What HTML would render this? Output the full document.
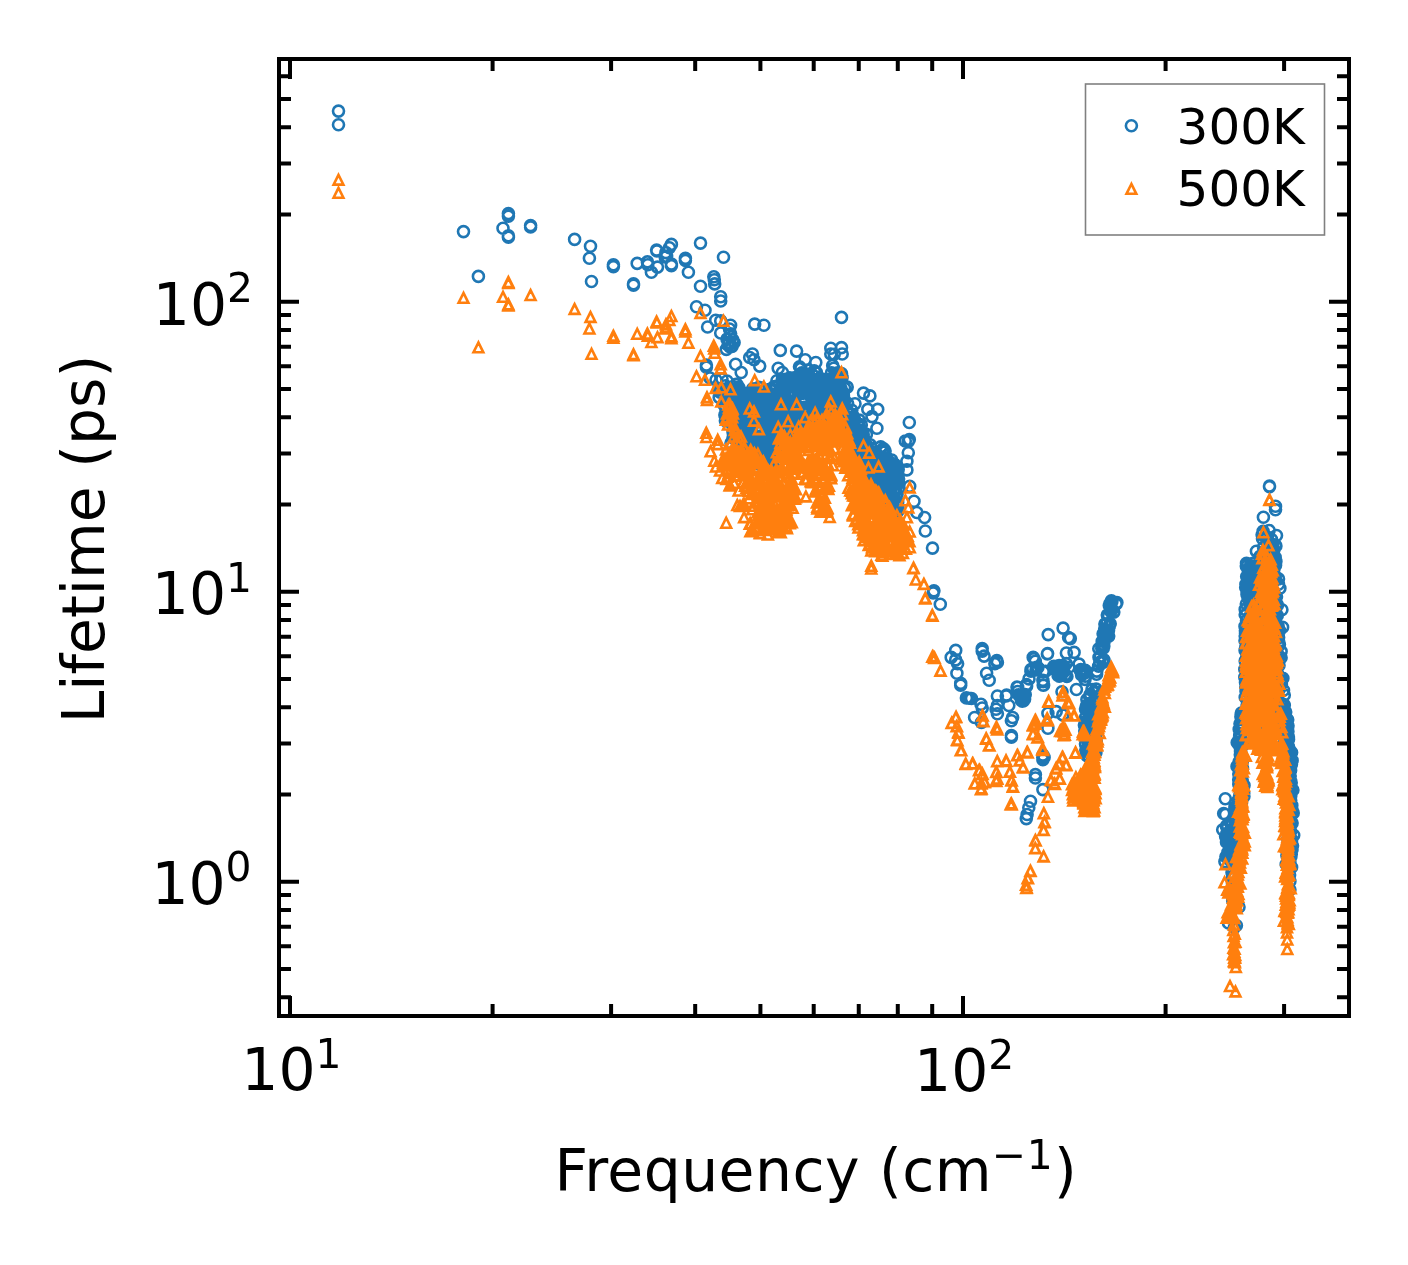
<!DOCTYPE html>
<html><head><meta charset="utf-8"><title>Lifetime vs Frequency</title><style>html,body{margin:0;padding:0;background:#fff}svg{display:block}</style></head><body>
<svg width="1408" height="1265" viewBox="0 0 1408 1265" font-family="'DejaVu Sans','Liberation Sans',sans-serif">
<rect width="1408" height="1265" fill="#fff"/>
<path d="M333.0,111.1a5.5,5.5 0 1,0 11.0,0a5.5,5.5 0 1,0 -11.0,0M333.0,124.7a5.5,5.5 0 1,0 11.0,0a5.5,5.5 0 1,0 -11.0,0M458.0,231.6a5.5,5.5 0 1,0 11.0,0a5.5,5.5 0 1,0 -11.0,0M502.9,213.5a5.5,5.5 0 1,0 11.0,0a5.5,5.5 0 1,0 -11.0,0M502.9,216.1a5.5,5.5 0 1,0 11.0,0a5.5,5.5 0 1,0 -11.0,0M497.5,228.3a5.5,5.5 0 1,0 11.0,0a5.5,5.5 0 1,0 -11.0,0M502.9,235.9a5.5,5.5 0 1,0 11.0,0a5.5,5.5 0 1,0 -11.0,0M502.9,237.2a5.5,5.5 0 1,0 11.0,0a5.5,5.5 0 1,0 -11.0,0M525.1,225.5a5.5,5.5 0 1,0 11.0,0a5.5,5.5 0 1,0 -11.0,0M525.1,227.0a5.5,5.5 0 1,0 11.0,0a5.5,5.5 0 1,0 -11.0,0M472.9,276.4a5.5,5.5 0 1,0 11.0,0a5.5,5.5 0 1,0 -11.0,0M569.1,239.4a5.5,5.5 0 1,0 11.0,0a5.5,5.5 0 1,0 -11.0,0M585.0,246.2a5.5,5.5 0 1,0 11.0,0a5.5,5.5 0 1,0 -11.0,0M583.9,258.3a5.5,5.5 0 1,0 11.0,0a5.5,5.5 0 1,0 -11.0,0M586.0,281.5a5.5,5.5 0 1,0 11.0,0a5.5,5.5 0 1,0 -11.0,0M607.9,264.7a5.5,5.5 0 1,0 11.0,0a5.5,5.5 0 1,0 -11.0,0M607.9,266.6a5.5,5.5 0 1,0 11.0,0a5.5,5.5 0 1,0 -11.0,0M628.0,283.9a5.5,5.5 0 1,0 11.0,0a5.5,5.5 0 1,0 -11.0,0M628.0,285.1a5.5,5.5 0 1,0 11.0,0a5.5,5.5 0 1,0 -11.0,0M631.7,263.4a5.5,5.5 0 1,0 11.0,0a5.5,5.5 0 1,0 -11.0,0M641.9,261.9a5.5,5.5 0 1,0 11.0,0a5.5,5.5 0 1,0 -11.0,0M642.3,264.7a5.5,5.5 0 1,0 11.0,0a5.5,5.5 0 1,0 -11.0,0M645.9,272.3a5.5,5.5 0 1,0 11.0,0a5.5,5.5 0 1,0 -11.0,0M651.1,250.1a5.5,5.5 0 1,0 11.0,0a5.5,5.5 0 1,0 -11.0,0M651.4,251.0a5.5,5.5 0 1,0 11.0,0a5.5,5.5 0 1,0 -11.0,0M652.0,267.1a5.5,5.5 0 1,0 11.0,0a5.5,5.5 0 1,0 -11.0,0M660.4,252.6a5.5,5.5 0 1,0 11.0,0a5.5,5.5 0 1,0 -11.0,0M661.1,256.2a5.5,5.5 0 1,0 11.0,0a5.5,5.5 0 1,0 -11.0,0M659.7,256.9a5.5,5.5 0 1,0 11.0,0a5.5,5.5 0 1,0 -11.0,0M665.9,244.4a5.5,5.5 0 1,0 11.0,0a5.5,5.5 0 1,0 -11.0,0M663.9,247.7a5.5,5.5 0 1,0 11.0,0a5.5,5.5 0 1,0 -11.0,0M665.9,264.0a5.5,5.5 0 1,0 11.0,0a5.5,5.5 0 1,0 -11.0,0M665.9,265.7a5.5,5.5 0 1,0 11.0,0a5.5,5.5 0 1,0 -11.0,0M679.9,258.3a5.5,5.5 0 1,0 11.0,0a5.5,5.5 0 1,0 -11.0,0M679.9,260.5a5.5,5.5 0 1,0 11.0,0a5.5,5.5 0 1,0 -11.0,0M682.9,272.3a5.5,5.5 0 1,0 11.0,0a5.5,5.5 0 1,0 -11.0,0M695.0,243.1a5.5,5.5 0 1,0 11.0,0a5.5,5.5 0 1,0 -11.0,0M695.0,286.3a5.5,5.5 0 1,0 11.0,0a5.5,5.5 0 1,0 -11.0,0M718.0,257.3a5.5,5.5 0 1,0 11.0,0a5.5,5.5 0 1,0 -11.0,0M708.3,276.8a5.5,5.5 0 1,0 11.0,0a5.5,5.5 0 1,0 -11.0,0M708.8,279.7a5.5,5.5 0 1,0 11.0,0a5.5,5.5 0 1,0 -11.0,0M709.2,283.9a5.5,5.5 0 1,0 11.0,0a5.5,5.5 0 1,0 -11.0,0M715.2,296.7a5.5,5.5 0 1,0 11.0,0a5.5,5.5 0 1,0 -11.0,0M715.2,301.0a5.5,5.5 0 1,0 11.0,0a5.5,5.5 0 1,0 -11.0,0M691.0,306.7a5.5,5.5 0 1,0 11.0,0a5.5,5.5 0 1,0 -11.0,0M699.5,310.2a5.5,5.5 0 1,0 11.0,0a5.5,5.5 0 1,0 -11.0,0M702.1,327.0a5.5,5.5 0 1,0 11.0,0a5.5,5.5 0 1,0 -11.0,0M710.2,320.2a5.5,5.5 0 1,0 11.0,0a5.5,5.5 0 1,0 -11.0,0M715.2,320.9a5.5,5.5 0 1,0 11.0,0a5.5,5.5 0 1,0 -11.0,0M725.1,325.2a5.5,5.5 0 1,0 11.0,0a5.5,5.5 0 1,0 -11.0,0M715.2,333.0a5.5,5.5 0 1,0 11.0,0a5.5,5.5 0 1,0 -11.0,0M725.1,333.7a5.5,5.5 0 1,0 11.0,0a5.5,5.5 0 1,0 -11.0,0M723.7,342.2a5.5,5.5 0 1,0 11.0,0a5.5,5.5 0 1,0 -11.0,0M726.5,346.5a5.5,5.5 0 1,0 11.0,0a5.5,5.5 0 1,0 -11.0,0M720.8,349.4a5.5,5.5 0 1,0 11.0,0a5.5,5.5 0 1,0 -11.0,0M728.6,342.6a5.5,5.5 0 1,0 11.0,0a5.5,5.5 0 1,0 -11.0,0M700.9,365.0a5.5,5.5 0 1,0 11.0,0a5.5,5.5 0 1,0 -11.0,0M700.9,367.1a5.5,5.5 0 1,0 11.0,0a5.5,5.5 0 1,0 -11.0,0M730.1,364.3a5.5,5.5 0 1,0 11.0,0a5.5,5.5 0 1,0 -11.0,0M749.2,324.1a5.5,5.5 0 1,0 11.0,0a5.5,5.5 0 1,0 -11.0,0M758.4,325.2a5.5,5.5 0 1,0 11.0,0a5.5,5.5 0 1,0 -11.0,0M836.0,317.4a5.5,5.5 0 1,0 11.0,0a5.5,5.5 0 1,0 -11.0,0M735.7,372.5a5.5,5.5 0 1,0 11.0,0a5.5,5.5 0 1,0 -11.0,0M747.0,354.0a5.5,5.5 0 1,0 11.0,0a5.5,5.5 0 1,0 -11.0,0M744.2,357.5a5.5,5.5 0 1,0 11.0,0a5.5,5.5 0 1,0 -11.0,0M748.5,359.7a5.5,5.5 0 1,0 11.0,0a5.5,5.5 0 1,0 -11.0,0M754.2,366.1a5.5,5.5 0 1,0 11.0,0a5.5,5.5 0 1,0 -11.0,0M774.8,350.4a5.5,5.5 0 1,0 11.0,0a5.5,5.5 0 1,0 -11.0,0M791.1,351.1a5.5,5.5 0 1,0 11.0,0a5.5,5.5 0 1,0 -11.0,0M772.7,368.2a5.5,5.5 0 1,0 11.0,0a5.5,5.5 0 1,0 -11.0,0M776.9,372.5a5.5,5.5 0 1,0 11.0,0a5.5,5.5 0 1,0 -11.0,0M799.7,359.7a5.5,5.5 0 1,0 11.0,0a5.5,5.5 0 1,0 -11.0,0M810.3,362.5a5.5,5.5 0 1,0 11.0,0a5.5,5.5 0 1,0 -11.0,0M794.0,366.8a5.5,5.5 0 1,0 11.0,0a5.5,5.5 0 1,0 -11.0,0M825.3,348.3a5.5,5.5 0 1,0 11.0,0a5.5,5.5 0 1,0 -11.0,0M836.0,347.6a5.5,5.5 0 1,0 11.0,0a5.5,5.5 0 1,0 -11.0,0M825.3,354.0a5.5,5.5 0 1,0 11.0,0a5.5,5.5 0 1,0 -11.0,0M836.7,354.0a5.5,5.5 0 1,0 11.0,0a5.5,5.5 0 1,0 -11.0,0M828.7,354.2a5.5,5.5 0 1,0 11.0,0a5.5,5.5 0 1,0 -11.0,0M858.0,393.1a5.5,5.5 0 1,0 11.0,0a5.5,5.5 0 1,0 -11.0,0M864.4,395.9a5.5,5.5 0 1,0 11.0,0a5.5,5.5 0 1,0 -11.0,0M862.3,409.4a5.5,5.5 0 1,0 11.0,0a5.5,5.5 0 1,0 -11.0,0M872.2,409.4a5.5,5.5 0 1,0 11.0,0a5.5,5.5 0 1,0 -11.0,0M849.5,403.8a5.5,5.5 0 1,0 11.0,0a5.5,5.5 0 1,0 -11.0,0M866.5,416.6a5.5,5.5 0 1,0 11.0,0a5.5,5.5 0 1,0 -11.0,0M871.4,428.2a5.5,5.5 0 1,0 11.0,0a5.5,5.5 0 1,0 -11.0,0M903.8,422.5a5.5,5.5 0 1,0 11.0,0a5.5,5.5 0 1,0 -11.0,0M899.8,441.0a5.5,5.5 0 1,0 11.0,0a5.5,5.5 0 1,0 -11.0,0M903.8,439.6a5.5,5.5 0 1,0 11.0,0a5.5,5.5 0 1,0 -11.0,0M902.8,441.4a5.5,5.5 0 1,0 11.0,0a5.5,5.5 0 1,0 -11.0,0M902.8,452.8a5.5,5.5 0 1,0 11.0,0a5.5,5.5 0 1,0 -11.0,0M901.4,461.3a5.5,5.5 0 1,0 11.0,0a5.5,5.5 0 1,0 -11.0,0M901.4,469.9a5.5,5.5 0 1,0 11.0,0a5.5,5.5 0 1,0 -11.0,0M904.2,486.2a5.5,5.5 0 1,0 11.0,0a5.5,5.5 0 1,0 -11.0,0M908.5,501.2a5.5,5.5 0 1,0 11.0,0a5.5,5.5 0 1,0 -11.0,0M911.3,512.5a5.5,5.5 0 1,0 11.0,0a5.5,5.5 0 1,0 -11.0,0M919.1,517.5a5.5,5.5 0 1,0 11.0,0a5.5,5.5 0 1,0 -11.0,0M919.8,531.0a5.5,5.5 0 1,0 11.0,0a5.5,5.5 0 1,0 -11.0,0M927.0,548.1a5.5,5.5 0 1,0 11.0,0a5.5,5.5 0 1,0 -11.0,0M928.4,590.8a5.5,5.5 0 1,0 11.0,0a5.5,5.5 0 1,0 -11.0,0M927.7,592.9a5.5,5.5 0 1,0 11.0,0a5.5,5.5 0 1,0 -11.0,0M934.8,604.3a5.5,5.5 0 1,0 11.0,0a5.5,5.5 0 1,0 -11.0,0M727.5,432.0a5.5,5.5 0 1,0 11.0,0a5.5,5.5 0 1,0 -11.0,0M732.5,440.0a5.5,5.5 0 1,0 11.0,0a5.5,5.5 0 1,0 -11.0,0M725.5,443.0a5.5,5.5 0 1,0 11.0,0a5.5,5.5 0 1,0 -11.0,0M704.5,378.0a5.5,5.5 0 1,0 11.0,0a5.5,5.5 0 1,0 -11.0,0M710.5,380.0a5.5,5.5 0 1,0 11.0,0a5.5,5.5 0 1,0 -11.0,0M716.5,379.0a5.5,5.5 0 1,0 11.0,0a5.5,5.5 0 1,0 -11.0,0M721.5,381.0a5.5,5.5 0 1,0 11.0,0a5.5,5.5 0 1,0 -11.0,0M888.4,514.1a5.5,5.5 0 1,0 11.0,0a5.5,5.5 0 1,0 -11.0,0M756.2,411.6a5.5,5.5 0 1,0 11.0,0a5.5,5.5 0 1,0 -11.0,0M778.9,431.8a5.5,5.5 0 1,0 11.0,0a5.5,5.5 0 1,0 -11.0,0M742.9,403.9a5.5,5.5 0 1,0 11.0,0a5.5,5.5 0 1,0 -11.0,0M791.3,423.5a5.5,5.5 0 1,0 11.0,0a5.5,5.5 0 1,0 -11.0,0M777.9,386.9a5.5,5.5 0 1,0 11.0,0a5.5,5.5 0 1,0 -11.0,0M852.8,436.8a5.5,5.5 0 1,0 11.0,0a5.5,5.5 0 1,0 -11.0,0M814.2,408.3a5.5,5.5 0 1,0 11.0,0a5.5,5.5 0 1,0 -11.0,0M831.3,403.8a5.5,5.5 0 1,0 11.0,0a5.5,5.5 0 1,0 -11.0,0M864.6,451.9a5.5,5.5 0 1,0 11.0,0a5.5,5.5 0 1,0 -11.0,0M769.5,401.2a5.5,5.5 0 1,0 11.0,0a5.5,5.5 0 1,0 -11.0,0M736.3,449.1a5.5,5.5 0 1,0 11.0,0a5.5,5.5 0 1,0 -11.0,0M743.4,411.2a5.5,5.5 0 1,0 11.0,0a5.5,5.5 0 1,0 -11.0,0M855.8,424.9a5.5,5.5 0 1,0 11.0,0a5.5,5.5 0 1,0 -11.0,0M883.9,479.6a5.5,5.5 0 1,0 11.0,0a5.5,5.5 0 1,0 -11.0,0M782.4,424.6a5.5,5.5 0 1,0 11.0,0a5.5,5.5 0 1,0 -11.0,0M747.1,416.2a5.5,5.5 0 1,0 11.0,0a5.5,5.5 0 1,0 -11.0,0M735.7,427.9a5.5,5.5 0 1,0 11.0,0a5.5,5.5 0 1,0 -11.0,0M852.3,441.6a5.5,5.5 0 1,0 11.0,0a5.5,5.5 0 1,0 -11.0,0M876.8,504.1a5.5,5.5 0 1,0 11.0,0a5.5,5.5 0 1,0 -11.0,0M770.8,396.5a5.5,5.5 0 1,0 11.0,0a5.5,5.5 0 1,0 -11.0,0M748.0,406.2a5.5,5.5 0 1,0 11.0,0a5.5,5.5 0 1,0 -11.0,0M734.5,433.0a5.5,5.5 0 1,0 11.0,0a5.5,5.5 0 1,0 -11.0,0M743.2,398.2a5.5,5.5 0 1,0 11.0,0a5.5,5.5 0 1,0 -11.0,0M831.2,416.4a5.5,5.5 0 1,0 11.0,0a5.5,5.5 0 1,0 -11.0,0M861.6,447.3a5.5,5.5 0 1,0 11.0,0a5.5,5.5 0 1,0 -11.0,0M796.4,372.9a5.5,5.5 0 1,0 11.0,0a5.5,5.5 0 1,0 -11.0,0M893.3,489.3a5.5,5.5 0 1,0 11.0,0a5.5,5.5 0 1,0 -11.0,0M805.5,384.0a5.5,5.5 0 1,0 11.0,0a5.5,5.5 0 1,0 -11.0,0M844.6,434.4a5.5,5.5 0 1,0 11.0,0a5.5,5.5 0 1,0 -11.0,0M782.4,392.8a5.5,5.5 0 1,0 11.0,0a5.5,5.5 0 1,0 -11.0,0M792.8,407.4a5.5,5.5 0 1,0 11.0,0a5.5,5.5 0 1,0 -11.0,0M757.8,404.7a5.5,5.5 0 1,0 11.0,0a5.5,5.5 0 1,0 -11.0,0M889.4,480.4a5.5,5.5 0 1,0 11.0,0a5.5,5.5 0 1,0 -11.0,0M885.2,507.4a5.5,5.5 0 1,0 11.0,0a5.5,5.5 0 1,0 -11.0,0M735.1,395.3a5.5,5.5 0 1,0 11.0,0a5.5,5.5 0 1,0 -11.0,0M769.2,418.8a5.5,5.5 0 1,0 11.0,0a5.5,5.5 0 1,0 -11.0,0M752.2,462.3a5.5,5.5 0 1,0 11.0,0a5.5,5.5 0 1,0 -11.0,0M732.0,390.5a5.5,5.5 0 1,0 11.0,0a5.5,5.5 0 1,0 -11.0,0M860.9,434.4a5.5,5.5 0 1,0 11.0,0a5.5,5.5 0 1,0 -11.0,0M879.0,487.8a5.5,5.5 0 1,0 11.0,0a5.5,5.5 0 1,0 -11.0,0M760.0,402.6a5.5,5.5 0 1,0 11.0,0a5.5,5.5 0 1,0 -11.0,0M848.6,423.3a5.5,5.5 0 1,0 11.0,0a5.5,5.5 0 1,0 -11.0,0M760.8,454.9a5.5,5.5 0 1,0 11.0,0a5.5,5.5 0 1,0 -11.0,0M865.2,486.4a5.5,5.5 0 1,0 11.0,0a5.5,5.5 0 1,0 -11.0,0M803.1,369.8a5.5,5.5 0 1,0 11.0,0a5.5,5.5 0 1,0 -11.0,0M875.2,446.9a5.5,5.5 0 1,0 11.0,0a5.5,5.5 0 1,0 -11.0,0M736.5,413.8a5.5,5.5 0 1,0 11.0,0a5.5,5.5 0 1,0 -11.0,0M759.4,401.2a5.5,5.5 0 1,0 11.0,0a5.5,5.5 0 1,0 -11.0,0M745.9,394.4a5.5,5.5 0 1,0 11.0,0a5.5,5.5 0 1,0 -11.0,0M799.0,373.6a5.5,5.5 0 1,0 11.0,0a5.5,5.5 0 1,0 -11.0,0M804.3,425.8a5.5,5.5 0 1,0 11.0,0a5.5,5.5 0 1,0 -11.0,0M765.1,465.0a5.5,5.5 0 1,0 11.0,0a5.5,5.5 0 1,0 -11.0,0M841.8,437.1a5.5,5.5 0 1,0 11.0,0a5.5,5.5 0 1,0 -11.0,0M826.0,372.9a5.5,5.5 0 1,0 11.0,0a5.5,5.5 0 1,0 -11.0,0M763.3,424.6a5.5,5.5 0 1,0 11.0,0a5.5,5.5 0 1,0 -11.0,0M890.0,489.0a5.5,5.5 0 1,0 11.0,0a5.5,5.5 0 1,0 -11.0,0M761.7,468.5a5.5,5.5 0 1,0 11.0,0a5.5,5.5 0 1,0 -11.0,0M882.2,463.3a5.5,5.5 0 1,0 11.0,0a5.5,5.5 0 1,0 -11.0,0M889.4,474.5a5.5,5.5 0 1,0 11.0,0a5.5,5.5 0 1,0 -11.0,0M752.1,443.4a5.5,5.5 0 1,0 11.0,0a5.5,5.5 0 1,0 -11.0,0M817.0,408.7a5.5,5.5 0 1,0 11.0,0a5.5,5.5 0 1,0 -11.0,0M865.1,490.4a5.5,5.5 0 1,0 11.0,0a5.5,5.5 0 1,0 -11.0,0M802.1,382.2a5.5,5.5 0 1,0 11.0,0a5.5,5.5 0 1,0 -11.0,0M834.7,395.5a5.5,5.5 0 1,0 11.0,0a5.5,5.5 0 1,0 -11.0,0M797.2,380.3a5.5,5.5 0 1,0 11.0,0a5.5,5.5 0 1,0 -11.0,0M784.3,377.8a5.5,5.5 0 1,0 11.0,0a5.5,5.5 0 1,0 -11.0,0M786.8,410.5a5.5,5.5 0 1,0 11.0,0a5.5,5.5 0 1,0 -11.0,0M879.2,494.4a5.5,5.5 0 1,0 11.0,0a5.5,5.5 0 1,0 -11.0,0M767.3,410.2a5.5,5.5 0 1,0 11.0,0a5.5,5.5 0 1,0 -11.0,0M783.6,413.9a5.5,5.5 0 1,0 11.0,0a5.5,5.5 0 1,0 -11.0,0M740.6,432.5a5.5,5.5 0 1,0 11.0,0a5.5,5.5 0 1,0 -11.0,0M890.8,465.7a5.5,5.5 0 1,0 11.0,0a5.5,5.5 0 1,0 -11.0,0M882.5,482.7a5.5,5.5 0 1,0 11.0,0a5.5,5.5 0 1,0 -11.0,0M766.8,427.7a5.5,5.5 0 1,0 11.0,0a5.5,5.5 0 1,0 -11.0,0M728.0,399.2a5.5,5.5 0 1,0 11.0,0a5.5,5.5 0 1,0 -11.0,0M859.2,446.5a5.5,5.5 0 1,0 11.0,0a5.5,5.5 0 1,0 -11.0,0M739.7,396.3a5.5,5.5 0 1,0 11.0,0a5.5,5.5 0 1,0 -11.0,0M726.8,403.8a5.5,5.5 0 1,0 11.0,0a5.5,5.5 0 1,0 -11.0,0M754.4,431.8a5.5,5.5 0 1,0 11.0,0a5.5,5.5 0 1,0 -11.0,0M766.6,403.4a5.5,5.5 0 1,0 11.0,0a5.5,5.5 0 1,0 -11.0,0M760.0,403.7a5.5,5.5 0 1,0 11.0,0a5.5,5.5 0 1,0 -11.0,0M888.0,464.0a5.5,5.5 0 1,0 11.0,0a5.5,5.5 0 1,0 -11.0,0M785.8,385.3a5.5,5.5 0 1,0 11.0,0a5.5,5.5 0 1,0 -11.0,0M743.6,440.5a5.5,5.5 0 1,0 11.0,0a5.5,5.5 0 1,0 -11.0,0M888.8,470.9a5.5,5.5 0 1,0 11.0,0a5.5,5.5 0 1,0 -11.0,0M775.9,427.2a5.5,5.5 0 1,0 11.0,0a5.5,5.5 0 1,0 -11.0,0M841.4,432.9a5.5,5.5 0 1,0 11.0,0a5.5,5.5 0 1,0 -11.0,0M869.4,489.1a5.5,5.5 0 1,0 11.0,0a5.5,5.5 0 1,0 -11.0,0M838.2,406.6a5.5,5.5 0 1,0 11.0,0a5.5,5.5 0 1,0 -11.0,0M726.2,392.8a5.5,5.5 0 1,0 11.0,0a5.5,5.5 0 1,0 -11.0,0M836.6,391.4a5.5,5.5 0 1,0 11.0,0a5.5,5.5 0 1,0 -11.0,0M767.2,420.5a5.5,5.5 0 1,0 11.0,0a5.5,5.5 0 1,0 -11.0,0M813.2,380.5a5.5,5.5 0 1,0 11.0,0a5.5,5.5 0 1,0 -11.0,0M772.9,422.8a5.5,5.5 0 1,0 11.0,0a5.5,5.5 0 1,0 -11.0,0M757.4,397.4a5.5,5.5 0 1,0 11.0,0a5.5,5.5 0 1,0 -11.0,0M789.6,420.4a5.5,5.5 0 1,0 11.0,0a5.5,5.5 0 1,0 -11.0,0M798.8,381.2a5.5,5.5 0 1,0 11.0,0a5.5,5.5 0 1,0 -11.0,0M805.8,390.3a5.5,5.5 0 1,0 11.0,0a5.5,5.5 0 1,0 -11.0,0M763.6,432.1a5.5,5.5 0 1,0 11.0,0a5.5,5.5 0 1,0 -11.0,0M785.7,436.7a5.5,5.5 0 1,0 11.0,0a5.5,5.5 0 1,0 -11.0,0M736.6,397.9a5.5,5.5 0 1,0 11.0,0a5.5,5.5 0 1,0 -11.0,0M850.6,451.4a5.5,5.5 0 1,0 11.0,0a5.5,5.5 0 1,0 -11.0,0M765.1,389.8a5.5,5.5 0 1,0 11.0,0a5.5,5.5 0 1,0 -11.0,0M738.6,404.7a5.5,5.5 0 1,0 11.0,0a5.5,5.5 0 1,0 -11.0,0M801.3,412.9a5.5,5.5 0 1,0 11.0,0a5.5,5.5 0 1,0 -11.0,0M759.3,467.1a5.5,5.5 0 1,0 11.0,0a5.5,5.5 0 1,0 -11.0,0M785.7,381.8a5.5,5.5 0 1,0 11.0,0a5.5,5.5 0 1,0 -11.0,0M850.0,447.3a5.5,5.5 0 1,0 11.0,0a5.5,5.5 0 1,0 -11.0,0M764.2,441.3a5.5,5.5 0 1,0 11.0,0a5.5,5.5 0 1,0 -11.0,0M884.8,479.2a5.5,5.5 0 1,0 11.0,0a5.5,5.5 0 1,0 -11.0,0M763.0,456.9a5.5,5.5 0 1,0 11.0,0a5.5,5.5 0 1,0 -11.0,0M798.9,385.1a5.5,5.5 0 1,0 11.0,0a5.5,5.5 0 1,0 -11.0,0M764.0,437.9a5.5,5.5 0 1,0 11.0,0a5.5,5.5 0 1,0 -11.0,0M829.8,397.0a5.5,5.5 0 1,0 11.0,0a5.5,5.5 0 1,0 -11.0,0M779.0,426.9a5.5,5.5 0 1,0 11.0,0a5.5,5.5 0 1,0 -11.0,0M728.4,421.7a5.5,5.5 0 1,0 11.0,0a5.5,5.5 0 1,0 -11.0,0M768.2,434.3a5.5,5.5 0 1,0 11.0,0a5.5,5.5 0 1,0 -11.0,0M747.8,400.7a5.5,5.5 0 1,0 11.0,0a5.5,5.5 0 1,0 -11.0,0M764.2,389.3a5.5,5.5 0 1,0 11.0,0a5.5,5.5 0 1,0 -11.0,0M773.6,408.4a5.5,5.5 0 1,0 11.0,0a5.5,5.5 0 1,0 -11.0,0M888.4,499.7a5.5,5.5 0 1,0 11.0,0a5.5,5.5 0 1,0 -11.0,0M868.4,489.7a5.5,5.5 0 1,0 11.0,0a5.5,5.5 0 1,0 -11.0,0M744.3,401.3a5.5,5.5 0 1,0 11.0,0a5.5,5.5 0 1,0 -11.0,0M821.2,391.5a5.5,5.5 0 1,0 11.0,0a5.5,5.5 0 1,0 -11.0,0M841.8,403.1a5.5,5.5 0 1,0 11.0,0a5.5,5.5 0 1,0 -11.0,0M764.6,420.5a5.5,5.5 0 1,0 11.0,0a5.5,5.5 0 1,0 -11.0,0M834.3,391.3a5.5,5.5 0 1,0 11.0,0a5.5,5.5 0 1,0 -11.0,0M887.0,486.4a5.5,5.5 0 1,0 11.0,0a5.5,5.5 0 1,0 -11.0,0M764.0,430.6a5.5,5.5 0 1,0 11.0,0a5.5,5.5 0 1,0 -11.0,0M849.1,419.5a5.5,5.5 0 1,0 11.0,0a5.5,5.5 0 1,0 -11.0,0M746.1,397.9a5.5,5.5 0 1,0 11.0,0a5.5,5.5 0 1,0 -11.0,0M760.9,404.8a5.5,5.5 0 1,0 11.0,0a5.5,5.5 0 1,0 -11.0,0M730.5,384.4a5.5,5.5 0 1,0 11.0,0a5.5,5.5 0 1,0 -11.0,0M793.3,429.1a5.5,5.5 0 1,0 11.0,0a5.5,5.5 0 1,0 -11.0,0M798.6,390.5a5.5,5.5 0 1,0 11.0,0a5.5,5.5 0 1,0 -11.0,0M839.1,388.3a5.5,5.5 0 1,0 11.0,0a5.5,5.5 0 1,0 -11.0,0M775.5,403.2a5.5,5.5 0 1,0 11.0,0a5.5,5.5 0 1,0 -11.0,0M863.8,457.4a5.5,5.5 0 1,0 11.0,0a5.5,5.5 0 1,0 -11.0,0M824.3,394.1a5.5,5.5 0 1,0 11.0,0a5.5,5.5 0 1,0 -11.0,0M778.8,428.5a5.5,5.5 0 1,0 11.0,0a5.5,5.5 0 1,0 -11.0,0M805.7,403.6a5.5,5.5 0 1,0 11.0,0a5.5,5.5 0 1,0 -11.0,0M848.0,416.6a5.5,5.5 0 1,0 11.0,0a5.5,5.5 0 1,0 -11.0,0M807.9,392.6a5.5,5.5 0 1,0 11.0,0a5.5,5.5 0 1,0 -11.0,0M733.2,387.2a5.5,5.5 0 1,0 11.0,0a5.5,5.5 0 1,0 -11.0,0M841.9,423.5a5.5,5.5 0 1,0 11.0,0a5.5,5.5 0 1,0 -11.0,0M740.5,455.0a5.5,5.5 0 1,0 11.0,0a5.5,5.5 0 1,0 -11.0,0M747.9,393.3a5.5,5.5 0 1,0 11.0,0a5.5,5.5 0 1,0 -11.0,0M823.2,379.9a5.5,5.5 0 1,0 11.0,0a5.5,5.5 0 1,0 -11.0,0M832.0,400.8a5.5,5.5 0 1,0 11.0,0a5.5,5.5 0 1,0 -11.0,0M768.3,429.5a5.5,5.5 0 1,0 11.0,0a5.5,5.5 0 1,0 -11.0,0M762.0,408.7a5.5,5.5 0 1,0 11.0,0a5.5,5.5 0 1,0 -11.0,0M759.2,411.8a5.5,5.5 0 1,0 11.0,0a5.5,5.5 0 1,0 -11.0,0M836.8,403.9a5.5,5.5 0 1,0 11.0,0a5.5,5.5 0 1,0 -11.0,0M751.2,398.5a5.5,5.5 0 1,0 11.0,0a5.5,5.5 0 1,0 -11.0,0M811.6,386.7a5.5,5.5 0 1,0 11.0,0a5.5,5.5 0 1,0 -11.0,0M882.4,500.7a5.5,5.5 0 1,0 11.0,0a5.5,5.5 0 1,0 -11.0,0M802.8,394.0a5.5,5.5 0 1,0 11.0,0a5.5,5.5 0 1,0 -11.0,0M744.8,442.6a5.5,5.5 0 1,0 11.0,0a5.5,5.5 0 1,0 -11.0,0M812.9,420.0a5.5,5.5 0 1,0 11.0,0a5.5,5.5 0 1,0 -11.0,0M845.9,446.1a5.5,5.5 0 1,0 11.0,0a5.5,5.5 0 1,0 -11.0,0M736.4,423.8a5.5,5.5 0 1,0 11.0,0a5.5,5.5 0 1,0 -11.0,0M806.5,402.7a5.5,5.5 0 1,0 11.0,0a5.5,5.5 0 1,0 -11.0,0M837.8,397.8a5.5,5.5 0 1,0 11.0,0a5.5,5.5 0 1,0 -11.0,0M778.4,437.9a5.5,5.5 0 1,0 11.0,0a5.5,5.5 0 1,0 -11.0,0M787.5,433.2a5.5,5.5 0 1,0 11.0,0a5.5,5.5 0 1,0 -11.0,0M881.7,509.6a5.5,5.5 0 1,0 11.0,0a5.5,5.5 0 1,0 -11.0,0M829.4,379.5a5.5,5.5 0 1,0 11.0,0a5.5,5.5 0 1,0 -11.0,0M890.8,505.8a5.5,5.5 0 1,0 11.0,0a5.5,5.5 0 1,0 -11.0,0M746.4,436.1a5.5,5.5 0 1,0 11.0,0a5.5,5.5 0 1,0 -11.0,0M829.5,410.1a5.5,5.5 0 1,0 11.0,0a5.5,5.5 0 1,0 -11.0,0M855.1,431.7a5.5,5.5 0 1,0 11.0,0a5.5,5.5 0 1,0 -11.0,0M739.0,424.8a5.5,5.5 0 1,0 11.0,0a5.5,5.5 0 1,0 -11.0,0M733.2,408.2a5.5,5.5 0 1,0 11.0,0a5.5,5.5 0 1,0 -11.0,0M752.3,446.5a5.5,5.5 0 1,0 11.0,0a5.5,5.5 0 1,0 -11.0,0M796.7,416.1a5.5,5.5 0 1,0 11.0,0a5.5,5.5 0 1,0 -11.0,0M745.4,401.1a5.5,5.5 0 1,0 11.0,0a5.5,5.5 0 1,0 -11.0,0M826.9,408.3a5.5,5.5 0 1,0 11.0,0a5.5,5.5 0 1,0 -11.0,0M781.9,401.9a5.5,5.5 0 1,0 11.0,0a5.5,5.5 0 1,0 -11.0,0M767.7,436.7a5.5,5.5 0 1,0 11.0,0a5.5,5.5 0 1,0 -11.0,0M782.4,392.4a5.5,5.5 0 1,0 11.0,0a5.5,5.5 0 1,0 -11.0,0M870.8,453.3a5.5,5.5 0 1,0 11.0,0a5.5,5.5 0 1,0 -11.0,0M868.3,491.6a5.5,5.5 0 1,0 11.0,0a5.5,5.5 0 1,0 -11.0,0M769.6,420.4a5.5,5.5 0 1,0 11.0,0a5.5,5.5 0 1,0 -11.0,0M788.0,418.4a5.5,5.5 0 1,0 11.0,0a5.5,5.5 0 1,0 -11.0,0M788.6,380.3a5.5,5.5 0 1,0 11.0,0a5.5,5.5 0 1,0 -11.0,0M874.9,481.6a5.5,5.5 0 1,0 11.0,0a5.5,5.5 0 1,0 -11.0,0M835.7,422.8a5.5,5.5 0 1,0 11.0,0a5.5,5.5 0 1,0 -11.0,0M815.9,415.8a5.5,5.5 0 1,0 11.0,0a5.5,5.5 0 1,0 -11.0,0M867.5,496.1a5.5,5.5 0 1,0 11.0,0a5.5,5.5 0 1,0 -11.0,0M883.5,479.8a5.5,5.5 0 1,0 11.0,0a5.5,5.5 0 1,0 -11.0,0M760.8,416.4a5.5,5.5 0 1,0 11.0,0a5.5,5.5 0 1,0 -11.0,0M802.8,426.1a5.5,5.5 0 1,0 11.0,0a5.5,5.5 0 1,0 -11.0,0M877.0,478.2a5.5,5.5 0 1,0 11.0,0a5.5,5.5 0 1,0 -11.0,0M821.7,379.6a5.5,5.5 0 1,0 11.0,0a5.5,5.5 0 1,0 -11.0,0M837.3,395.6a5.5,5.5 0 1,0 11.0,0a5.5,5.5 0 1,0 -11.0,0M785.9,420.0a5.5,5.5 0 1,0 11.0,0a5.5,5.5 0 1,0 -11.0,0M887.0,472.3a5.5,5.5 0 1,0 11.0,0a5.5,5.5 0 1,0 -11.0,0M797.3,377.5a5.5,5.5 0 1,0 11.0,0a5.5,5.5 0 1,0 -11.0,0M798.0,422.8a5.5,5.5 0 1,0 11.0,0a5.5,5.5 0 1,0 -11.0,0M758.7,410.4a5.5,5.5 0 1,0 11.0,0a5.5,5.5 0 1,0 -11.0,0M756.2,448.9a5.5,5.5 0 1,0 11.0,0a5.5,5.5 0 1,0 -11.0,0M878.8,449.6a5.5,5.5 0 1,0 11.0,0a5.5,5.5 0 1,0 -11.0,0M819.4,385.6a5.5,5.5 0 1,0 11.0,0a5.5,5.5 0 1,0 -11.0,0M768.4,406.3a5.5,5.5 0 1,0 11.0,0a5.5,5.5 0 1,0 -11.0,0M803.9,377.5a5.5,5.5 0 1,0 11.0,0a5.5,5.5 0 1,0 -11.0,0M764.7,403.1a5.5,5.5 0 1,0 11.0,0a5.5,5.5 0 1,0 -11.0,0M812.1,390.5a5.5,5.5 0 1,0 11.0,0a5.5,5.5 0 1,0 -11.0,0M758.7,454.9a5.5,5.5 0 1,0 11.0,0a5.5,5.5 0 1,0 -11.0,0M859.6,469.4a5.5,5.5 0 1,0 11.0,0a5.5,5.5 0 1,0 -11.0,0M748.6,435.2a5.5,5.5 0 1,0 11.0,0a5.5,5.5 0 1,0 -11.0,0M766.0,394.2a5.5,5.5 0 1,0 11.0,0a5.5,5.5 0 1,0 -11.0,0M751.8,427.4a5.5,5.5 0 1,0 11.0,0a5.5,5.5 0 1,0 -11.0,0M829.3,410.6a5.5,5.5 0 1,0 11.0,0a5.5,5.5 0 1,0 -11.0,0M751.9,397.3a5.5,5.5 0 1,0 11.0,0a5.5,5.5 0 1,0 -11.0,0M738.9,393.3a5.5,5.5 0 1,0 11.0,0a5.5,5.5 0 1,0 -11.0,0M778.0,442.2a5.5,5.5 0 1,0 11.0,0a5.5,5.5 0 1,0 -11.0,0M755.6,438.3a5.5,5.5 0 1,0 11.0,0a5.5,5.5 0 1,0 -11.0,0M804.4,394.1a5.5,5.5 0 1,0 11.0,0a5.5,5.5 0 1,0 -11.0,0M824.8,385.7a5.5,5.5 0 1,0 11.0,0a5.5,5.5 0 1,0 -11.0,0M792.9,418.6a5.5,5.5 0 1,0 11.0,0a5.5,5.5 0 1,0 -11.0,0M796.6,418.3a5.5,5.5 0 1,0 11.0,0a5.5,5.5 0 1,0 -11.0,0M841.6,424.5a5.5,5.5 0 1,0 11.0,0a5.5,5.5 0 1,0 -11.0,0M868.5,477.4a5.5,5.5 0 1,0 11.0,0a5.5,5.5 0 1,0 -11.0,0M797.8,409.8a5.5,5.5 0 1,0 11.0,0a5.5,5.5 0 1,0 -11.0,0M749.1,420.4a5.5,5.5 0 1,0 11.0,0a5.5,5.5 0 1,0 -11.0,0M868.8,487.2a5.5,5.5 0 1,0 11.0,0a5.5,5.5 0 1,0 -11.0,0M817.6,426.2a5.5,5.5 0 1,0 11.0,0a5.5,5.5 0 1,0 -11.0,0M876.6,488.7a5.5,5.5 0 1,0 11.0,0a5.5,5.5 0 1,0 -11.0,0M729.0,413.7a5.5,5.5 0 1,0 11.0,0a5.5,5.5 0 1,0 -11.0,0M882.0,463.3a5.5,5.5 0 1,0 11.0,0a5.5,5.5 0 1,0 -11.0,0M805.3,415.2a5.5,5.5 0 1,0 11.0,0a5.5,5.5 0 1,0 -11.0,0M787.3,423.9a5.5,5.5 0 1,0 11.0,0a5.5,5.5 0 1,0 -11.0,0M815.9,406.3a5.5,5.5 0 1,0 11.0,0a5.5,5.5 0 1,0 -11.0,0M728.2,393.3a5.5,5.5 0 1,0 11.0,0a5.5,5.5 0 1,0 -11.0,0M749.4,398.8a5.5,5.5 0 1,0 11.0,0a5.5,5.5 0 1,0 -11.0,0M734.3,404.4a5.5,5.5 0 1,0 11.0,0a5.5,5.5 0 1,0 -11.0,0M798.1,393.3a5.5,5.5 0 1,0 11.0,0a5.5,5.5 0 1,0 -11.0,0M789.9,377.6a5.5,5.5 0 1,0 11.0,0a5.5,5.5 0 1,0 -11.0,0M872.5,481.3a5.5,5.5 0 1,0 11.0,0a5.5,5.5 0 1,0 -11.0,0M755.2,458.7a5.5,5.5 0 1,0 11.0,0a5.5,5.5 0 1,0 -11.0,0M798.1,424.4a5.5,5.5 0 1,0 11.0,0a5.5,5.5 0 1,0 -11.0,0M767.4,399.5a5.5,5.5 0 1,0 11.0,0a5.5,5.5 0 1,0 -11.0,0M734.5,446.2a5.5,5.5 0 1,0 11.0,0a5.5,5.5 0 1,0 -11.0,0M873.9,457.4a5.5,5.5 0 1,0 11.0,0a5.5,5.5 0 1,0 -11.0,0M781.6,425.2a5.5,5.5 0 1,0 11.0,0a5.5,5.5 0 1,0 -11.0,0M884.4,497.9a5.5,5.5 0 1,0 11.0,0a5.5,5.5 0 1,0 -11.0,0M879.6,451.0a5.5,5.5 0 1,0 11.0,0a5.5,5.5 0 1,0 -11.0,0M748.6,390.5a5.5,5.5 0 1,0 11.0,0a5.5,5.5 0 1,0 -11.0,0M857.7,443.8a5.5,5.5 0 1,0 11.0,0a5.5,5.5 0 1,0 -11.0,0M886.5,508.8a5.5,5.5 0 1,0 11.0,0a5.5,5.5 0 1,0 -11.0,0M828.8,412.7a5.5,5.5 0 1,0 11.0,0a5.5,5.5 0 1,0 -11.0,0M788.3,405.2a5.5,5.5 0 1,0 11.0,0a5.5,5.5 0 1,0 -11.0,0M877.7,487.4a5.5,5.5 0 1,0 11.0,0a5.5,5.5 0 1,0 -11.0,0M892.4,471.0a5.5,5.5 0 1,0 11.0,0a5.5,5.5 0 1,0 -11.0,0M769.0,458.9a5.5,5.5 0 1,0 11.0,0a5.5,5.5 0 1,0 -11.0,0M807.3,406.2a5.5,5.5 0 1,0 11.0,0a5.5,5.5 0 1,0 -11.0,0M882.2,481.8a5.5,5.5 0 1,0 11.0,0a5.5,5.5 0 1,0 -11.0,0M771.4,380.8a5.5,5.5 0 1,0 11.0,0a5.5,5.5 0 1,0 -11.0,0M741.0,440.5a5.5,5.5 0 1,0 11.0,0a5.5,5.5 0 1,0 -11.0,0M835.4,406.6a5.5,5.5 0 1,0 11.0,0a5.5,5.5 0 1,0 -11.0,0M861.5,482.1a5.5,5.5 0 1,0 11.0,0a5.5,5.5 0 1,0 -11.0,0M804.6,381.6a5.5,5.5 0 1,0 11.0,0a5.5,5.5 0 1,0 -11.0,0M832.4,422.1a5.5,5.5 0 1,0 11.0,0a5.5,5.5 0 1,0 -11.0,0M756.0,441.5a5.5,5.5 0 1,0 11.0,0a5.5,5.5 0 1,0 -11.0,0M781.5,388.7a5.5,5.5 0 1,0 11.0,0a5.5,5.5 0 1,0 -11.0,0M878.1,459.2a5.5,5.5 0 1,0 11.0,0a5.5,5.5 0 1,0 -11.0,0M889.1,484.1a5.5,5.5 0 1,0 11.0,0a5.5,5.5 0 1,0 -11.0,0M861.0,470.1a5.5,5.5 0 1,0 11.0,0a5.5,5.5 0 1,0 -11.0,0M887.6,507.9a5.5,5.5 0 1,0 11.0,0a5.5,5.5 0 1,0 -11.0,0M818.4,426.6a5.5,5.5 0 1,0 11.0,0a5.5,5.5 0 1,0 -11.0,0M769.9,420.7a5.5,5.5 0 1,0 11.0,0a5.5,5.5 0 1,0 -11.0,0M824.4,388.5a5.5,5.5 0 1,0 11.0,0a5.5,5.5 0 1,0 -11.0,0M887.2,517.1a5.5,5.5 0 1,0 11.0,0a5.5,5.5 0 1,0 -11.0,0M748.3,454.4a5.5,5.5 0 1,0 11.0,0a5.5,5.5 0 1,0 -11.0,0M817.3,412.3a5.5,5.5 0 1,0 11.0,0a5.5,5.5 0 1,0 -11.0,0M729.4,395.1a5.5,5.5 0 1,0 11.0,0a5.5,5.5 0 1,0 -11.0,0M745.5,407.6a5.5,5.5 0 1,0 11.0,0a5.5,5.5 0 1,0 -11.0,0M885.2,470.6a5.5,5.5 0 1,0 11.0,0a5.5,5.5 0 1,0 -11.0,0M870.7,468.2a5.5,5.5 0 1,0 11.0,0a5.5,5.5 0 1,0 -11.0,0M818.3,395.3a5.5,5.5 0 1,0 11.0,0a5.5,5.5 0 1,0 -11.0,0M810.5,381.6a5.5,5.5 0 1,0 11.0,0a5.5,5.5 0 1,0 -11.0,0M866.3,468.0a5.5,5.5 0 1,0 11.0,0a5.5,5.5 0 1,0 -11.0,0M892.7,469.5a5.5,5.5 0 1,0 11.0,0a5.5,5.5 0 1,0 -11.0,0M732.8,430.0a5.5,5.5 0 1,0 11.0,0a5.5,5.5 0 1,0 -11.0,0M726.7,394.8a5.5,5.5 0 1,0 11.0,0a5.5,5.5 0 1,0 -11.0,0M811.9,413.8a5.5,5.5 0 1,0 11.0,0a5.5,5.5 0 1,0 -11.0,0M770.3,386.2a5.5,5.5 0 1,0 11.0,0a5.5,5.5 0 1,0 -11.0,0M835.3,388.3a5.5,5.5 0 1,0 11.0,0a5.5,5.5 0 1,0 -11.0,0M847.6,449.5a5.5,5.5 0 1,0 11.0,0a5.5,5.5 0 1,0 -11.0,0M751.6,441.9a5.5,5.5 0 1,0 11.0,0a5.5,5.5 0 1,0 -11.0,0M796.1,400.2a5.5,5.5 0 1,0 11.0,0a5.5,5.5 0 1,0 -11.0,0M740.2,438.0a5.5,5.5 0 1,0 11.0,0a5.5,5.5 0 1,0 -11.0,0M790.2,415.7a5.5,5.5 0 1,0 11.0,0a5.5,5.5 0 1,0 -11.0,0M881.1,457.8a5.5,5.5 0 1,0 11.0,0a5.5,5.5 0 1,0 -11.0,0M738.4,415.1a5.5,5.5 0 1,0 11.0,0a5.5,5.5 0 1,0 -11.0,0M796.3,411.4a5.5,5.5 0 1,0 11.0,0a5.5,5.5 0 1,0 -11.0,0M776.3,413.9a5.5,5.5 0 1,0 11.0,0a5.5,5.5 0 1,0 -11.0,0M878.7,473.9a5.5,5.5 0 1,0 11.0,0a5.5,5.5 0 1,0 -11.0,0M797.2,389.1a5.5,5.5 0 1,0 11.0,0a5.5,5.5 0 1,0 -11.0,0M868.2,464.7a5.5,5.5 0 1,0 11.0,0a5.5,5.5 0 1,0 -11.0,0M751.0,461.2a5.5,5.5 0 1,0 11.0,0a5.5,5.5 0 1,0 -11.0,0M734.4,442.6a5.5,5.5 0 1,0 11.0,0a5.5,5.5 0 1,0 -11.0,0M781.3,379.1a5.5,5.5 0 1,0 11.0,0a5.5,5.5 0 1,0 -11.0,0M811.1,389.4a5.5,5.5 0 1,0 11.0,0a5.5,5.5 0 1,0 -11.0,0M836.6,377.4a5.5,5.5 0 1,0 11.0,0a5.5,5.5 0 1,0 -11.0,0M762.3,425.5a5.5,5.5 0 1,0 11.0,0a5.5,5.5 0 1,0 -11.0,0M781.3,404.8a5.5,5.5 0 1,0 11.0,0a5.5,5.5 0 1,0 -11.0,0M838.2,397.9a5.5,5.5 0 1,0 11.0,0a5.5,5.5 0 1,0 -11.0,0M797.5,387.4a5.5,5.5 0 1,0 11.0,0a5.5,5.5 0 1,0 -11.0,0M736.4,448.3a5.5,5.5 0 1,0 11.0,0a5.5,5.5 0 1,0 -11.0,0M892.4,507.4a5.5,5.5 0 1,0 11.0,0a5.5,5.5 0 1,0 -11.0,0M741.4,441.9a5.5,5.5 0 1,0 11.0,0a5.5,5.5 0 1,0 -11.0,0M807.3,393.5a5.5,5.5 0 1,0 11.0,0a5.5,5.5 0 1,0 -11.0,0M882.8,490.9a5.5,5.5 0 1,0 11.0,0a5.5,5.5 0 1,0 -11.0,0M804.8,385.2a5.5,5.5 0 1,0 11.0,0a5.5,5.5 0 1,0 -11.0,0M806.5,382.9a5.5,5.5 0 1,0 11.0,0a5.5,5.5 0 1,0 -11.0,0M871.1,463.0a5.5,5.5 0 1,0 11.0,0a5.5,5.5 0 1,0 -11.0,0M878.6,486.4a5.5,5.5 0 1,0 11.0,0a5.5,5.5 0 1,0 -11.0,0M871.1,455.4a5.5,5.5 0 1,0 11.0,0a5.5,5.5 0 1,0 -11.0,0M888.8,464.1a5.5,5.5 0 1,0 11.0,0a5.5,5.5 0 1,0 -11.0,0M757.8,444.4a5.5,5.5 0 1,0 11.0,0a5.5,5.5 0 1,0 -11.0,0M806.4,416.0a5.5,5.5 0 1,0 11.0,0a5.5,5.5 0 1,0 -11.0,0M824.2,397.9a5.5,5.5 0 1,0 11.0,0a5.5,5.5 0 1,0 -11.0,0M771.5,442.0a5.5,5.5 0 1,0 11.0,0a5.5,5.5 0 1,0 -11.0,0M837.1,392.1a5.5,5.5 0 1,0 11.0,0a5.5,5.5 0 1,0 -11.0,0M814.6,406.3a5.5,5.5 0 1,0 11.0,0a5.5,5.5 0 1,0 -11.0,0M855.0,473.5a5.5,5.5 0 1,0 11.0,0a5.5,5.5 0 1,0 -11.0,0M856.9,444.2a5.5,5.5 0 1,0 11.0,0a5.5,5.5 0 1,0 -11.0,0M811.1,421.9a5.5,5.5 0 1,0 11.0,0a5.5,5.5 0 1,0 -11.0,0M773.7,426.1a5.5,5.5 0 1,0 11.0,0a5.5,5.5 0 1,0 -11.0,0M760.6,434.0a5.5,5.5 0 1,0 11.0,0a5.5,5.5 0 1,0 -11.0,0M785.2,411.1a5.5,5.5 0 1,0 11.0,0a5.5,5.5 0 1,0 -11.0,0M781.6,380.0a5.5,5.5 0 1,0 11.0,0a5.5,5.5 0 1,0 -11.0,0M859.4,478.7a5.5,5.5 0 1,0 11.0,0a5.5,5.5 0 1,0 -11.0,0M807.2,421.0a5.5,5.5 0 1,0 11.0,0a5.5,5.5 0 1,0 -11.0,0M770.2,439.5a5.5,5.5 0 1,0 11.0,0a5.5,5.5 0 1,0 -11.0,0M799.0,429.1a5.5,5.5 0 1,0 11.0,0a5.5,5.5 0 1,0 -11.0,0M755.6,387.8a5.5,5.5 0 1,0 11.0,0a5.5,5.5 0 1,0 -11.0,0M796.9,393.2a5.5,5.5 0 1,0 11.0,0a5.5,5.5 0 1,0 -11.0,0M799.0,425.4a5.5,5.5 0 1,0 11.0,0a5.5,5.5 0 1,0 -11.0,0M825.4,403.1a5.5,5.5 0 1,0 11.0,0a5.5,5.5 0 1,0 -11.0,0M830.4,392.6a5.5,5.5 0 1,0 11.0,0a5.5,5.5 0 1,0 -11.0,0M828.1,409.1a5.5,5.5 0 1,0 11.0,0a5.5,5.5 0 1,0 -11.0,0M745.2,396.4a5.5,5.5 0 1,0 11.0,0a5.5,5.5 0 1,0 -11.0,0M777.3,428.4a5.5,5.5 0 1,0 11.0,0a5.5,5.5 0 1,0 -11.0,0M765.8,455.2a5.5,5.5 0 1,0 11.0,0a5.5,5.5 0 1,0 -11.0,0M733.7,422.7a5.5,5.5 0 1,0 11.0,0a5.5,5.5 0 1,0 -11.0,0M763.1,461.1a5.5,5.5 0 1,0 11.0,0a5.5,5.5 0 1,0 -11.0,0M817.4,423.8a5.5,5.5 0 1,0 11.0,0a5.5,5.5 0 1,0 -11.0,0M739.9,435.5a5.5,5.5 0 1,0 11.0,0a5.5,5.5 0 1,0 -11.0,0M787.0,430.9a5.5,5.5 0 1,0 11.0,0a5.5,5.5 0 1,0 -11.0,0M810.6,408.4a5.5,5.5 0 1,0 11.0,0a5.5,5.5 0 1,0 -11.0,0M843.5,444.0a5.5,5.5 0 1,0 11.0,0a5.5,5.5 0 1,0 -11.0,0M785.1,415.7a5.5,5.5 0 1,0 11.0,0a5.5,5.5 0 1,0 -11.0,0M814.7,414.4a5.5,5.5 0 1,0 11.0,0a5.5,5.5 0 1,0 -11.0,0M781.9,428.5a5.5,5.5 0 1,0 11.0,0a5.5,5.5 0 1,0 -11.0,0M792.6,388.4a5.5,5.5 0 1,0 11.0,0a5.5,5.5 0 1,0 -11.0,0M800.2,426.7a5.5,5.5 0 1,0 11.0,0a5.5,5.5 0 1,0 -11.0,0M729.4,397.5a5.5,5.5 0 1,0 11.0,0a5.5,5.5 0 1,0 -11.0,0M887.3,470.1a5.5,5.5 0 1,0 11.0,0a5.5,5.5 0 1,0 -11.0,0M804.6,394.0a5.5,5.5 0 1,0 11.0,0a5.5,5.5 0 1,0 -11.0,0M753.8,464.3a5.5,5.5 0 1,0 11.0,0a5.5,5.5 0 1,0 -11.0,0M842.1,403.6a5.5,5.5 0 1,0 11.0,0a5.5,5.5 0 1,0 -11.0,0M833.8,384.4a5.5,5.5 0 1,0 11.0,0a5.5,5.5 0 1,0 -11.0,0M828.4,389.9a5.5,5.5 0 1,0 11.0,0a5.5,5.5 0 1,0 -11.0,0M810.9,412.3a5.5,5.5 0 1,0 11.0,0a5.5,5.5 0 1,0 -11.0,0M817.8,384.0a5.5,5.5 0 1,0 11.0,0a5.5,5.5 0 1,0 -11.0,0M747.3,411.5a5.5,5.5 0 1,0 11.0,0a5.5,5.5 0 1,0 -11.0,0M821.4,397.9a5.5,5.5 0 1,0 11.0,0a5.5,5.5 0 1,0 -11.0,0M786.2,433.4a5.5,5.5 0 1,0 11.0,0a5.5,5.5 0 1,0 -11.0,0M888.9,492.1a5.5,5.5 0 1,0 11.0,0a5.5,5.5 0 1,0 -11.0,0M835.2,379.7a5.5,5.5 0 1,0 11.0,0a5.5,5.5 0 1,0 -11.0,0M828.2,368.2a5.5,5.5 0 1,0 11.0,0a5.5,5.5 0 1,0 -11.0,0M864.8,444.8a5.5,5.5 0 1,0 11.0,0a5.5,5.5 0 1,0 -11.0,0M728.9,415.8a5.5,5.5 0 1,0 11.0,0a5.5,5.5 0 1,0 -11.0,0M830.3,382.0a5.5,5.5 0 1,0 11.0,0a5.5,5.5 0 1,0 -11.0,0M751.6,408.9a5.5,5.5 0 1,0 11.0,0a5.5,5.5 0 1,0 -11.0,0M878.0,499.6a5.5,5.5 0 1,0 11.0,0a5.5,5.5 0 1,0 -11.0,0M881.5,490.3a5.5,5.5 0 1,0 11.0,0a5.5,5.5 0 1,0 -11.0,0M843.0,435.8a5.5,5.5 0 1,0 11.0,0a5.5,5.5 0 1,0 -11.0,0M857.7,434.6a5.5,5.5 0 1,0 11.0,0a5.5,5.5 0 1,0 -11.0,0M842.3,425.2a5.5,5.5 0 1,0 11.0,0a5.5,5.5 0 1,0 -11.0,0M762.5,397.1a5.5,5.5 0 1,0 11.0,0a5.5,5.5 0 1,0 -11.0,0M785.0,395.9a5.5,5.5 0 1,0 11.0,0a5.5,5.5 0 1,0 -11.0,0M813.4,387.2a5.5,5.5 0 1,0 11.0,0a5.5,5.5 0 1,0 -11.0,0M740.5,406.3a5.5,5.5 0 1,0 11.0,0a5.5,5.5 0 1,0 -11.0,0M761.4,431.7a5.5,5.5 0 1,0 11.0,0a5.5,5.5 0 1,0 -11.0,0M830.6,382.7a5.5,5.5 0 1,0 11.0,0a5.5,5.5 0 1,0 -11.0,0M870.7,486.5a5.5,5.5 0 1,0 11.0,0a5.5,5.5 0 1,0 -11.0,0M741.6,427.7a5.5,5.5 0 1,0 11.0,0a5.5,5.5 0 1,0 -11.0,0M810.9,386.4a5.5,5.5 0 1,0 11.0,0a5.5,5.5 0 1,0 -11.0,0M790.3,386.4a5.5,5.5 0 1,0 11.0,0a5.5,5.5 0 1,0 -11.0,0M755.5,453.7a5.5,5.5 0 1,0 11.0,0a5.5,5.5 0 1,0 -11.0,0M756.7,437.6a5.5,5.5 0 1,0 11.0,0a5.5,5.5 0 1,0 -11.0,0M854.6,452.5a5.5,5.5 0 1,0 11.0,0a5.5,5.5 0 1,0 -11.0,0M815.7,397.2a5.5,5.5 0 1,0 11.0,0a5.5,5.5 0 1,0 -11.0,0M841.7,387.1a5.5,5.5 0 1,0 11.0,0a5.5,5.5 0 1,0 -11.0,0M807.4,402.3a5.5,5.5 0 1,0 11.0,0a5.5,5.5 0 1,0 -11.0,0M775.4,435.5a5.5,5.5 0 1,0 11.0,0a5.5,5.5 0 1,0 -11.0,0M780.3,380.0a5.5,5.5 0 1,0 11.0,0a5.5,5.5 0 1,0 -11.0,0M791.0,412.1a5.5,5.5 0 1,0 11.0,0a5.5,5.5 0 1,0 -11.0,0M754.7,426.8a5.5,5.5 0 1,0 11.0,0a5.5,5.5 0 1,0 -11.0,0M766.0,450.5a5.5,5.5 0 1,0 11.0,0a5.5,5.5 0 1,0 -11.0,0M746.7,410.1a5.5,5.5 0 1,0 11.0,0a5.5,5.5 0 1,0 -11.0,0M759.2,463.9a5.5,5.5 0 1,0 11.0,0a5.5,5.5 0 1,0 -11.0,0M781.6,383.1a5.5,5.5 0 1,0 11.0,0a5.5,5.5 0 1,0 -11.0,0M838.1,408.0a5.5,5.5 0 1,0 11.0,0a5.5,5.5 0 1,0 -11.0,0M787.0,391.2a5.5,5.5 0 1,0 11.0,0a5.5,5.5 0 1,0 -11.0,0M794.8,382.2a5.5,5.5 0 1,0 11.0,0a5.5,5.5 0 1,0 -11.0,0M813.1,410.1a5.5,5.5 0 1,0 11.0,0a5.5,5.5 0 1,0 -11.0,0M798.3,398.8a5.5,5.5 0 1,0 11.0,0a5.5,5.5 0 1,0 -11.0,0M731.7,433.5a5.5,5.5 0 1,0 11.0,0a5.5,5.5 0 1,0 -11.0,0M771.3,387.0a5.5,5.5 0 1,0 11.0,0a5.5,5.5 0 1,0 -11.0,0M883.6,503.9a5.5,5.5 0 1,0 11.0,0a5.5,5.5 0 1,0 -11.0,0M764.9,451.1a5.5,5.5 0 1,0 11.0,0a5.5,5.5 0 1,0 -11.0,0M795.1,368.3a5.5,5.5 0 1,0 11.0,0a5.5,5.5 0 1,0 -11.0,0M746.0,437.3a5.5,5.5 0 1,0 11.0,0a5.5,5.5 0 1,0 -11.0,0M727.2,386.7a5.5,5.5 0 1,0 11.0,0a5.5,5.5 0 1,0 -11.0,0M739.8,393.5a5.5,5.5 0 1,0 11.0,0a5.5,5.5 0 1,0 -11.0,0M812.2,384.5a5.5,5.5 0 1,0 11.0,0a5.5,5.5 0 1,0 -11.0,0M767.2,400.8a5.5,5.5 0 1,0 11.0,0a5.5,5.5 0 1,0 -11.0,0M808.7,392.3a5.5,5.5 0 1,0 11.0,0a5.5,5.5 0 1,0 -11.0,0M798.6,407.2a5.5,5.5 0 1,0 11.0,0a5.5,5.5 0 1,0 -11.0,0M823.8,410.0a5.5,5.5 0 1,0 11.0,0a5.5,5.5 0 1,0 -11.0,0M808.5,398.9a5.5,5.5 0 1,0 11.0,0a5.5,5.5 0 1,0 -11.0,0M744.0,442.9a5.5,5.5 0 1,0 11.0,0a5.5,5.5 0 1,0 -11.0,0M787.9,427.7a5.5,5.5 0 1,0 11.0,0a5.5,5.5 0 1,0 -11.0,0M890.8,503.1a5.5,5.5 0 1,0 11.0,0a5.5,5.5 0 1,0 -11.0,0M892.3,511.1a5.5,5.5 0 1,0 11.0,0a5.5,5.5 0 1,0 -11.0,0M828.2,395.0a5.5,5.5 0 1,0 11.0,0a5.5,5.5 0 1,0 -11.0,0M861.7,450.6a5.5,5.5 0 1,0 11.0,0a5.5,5.5 0 1,0 -11.0,0M754.2,403.7a5.5,5.5 0 1,0 11.0,0a5.5,5.5 0 1,0 -11.0,0M828.9,393.5a5.5,5.5 0 1,0 11.0,0a5.5,5.5 0 1,0 -11.0,0M742.2,437.7a5.5,5.5 0 1,0 11.0,0a5.5,5.5 0 1,0 -11.0,0M731.8,393.0a5.5,5.5 0 1,0 11.0,0a5.5,5.5 0 1,0 -11.0,0M796.5,421.8a5.5,5.5 0 1,0 11.0,0a5.5,5.5 0 1,0 -11.0,0M888.0,485.1a5.5,5.5 0 1,0 11.0,0a5.5,5.5 0 1,0 -11.0,0M883.6,493.8a5.5,5.5 0 1,0 11.0,0a5.5,5.5 0 1,0 -11.0,0M858.0,437.6a5.5,5.5 0 1,0 11.0,0a5.5,5.5 0 1,0 -11.0,0M777.5,420.8a5.5,5.5 0 1,0 11.0,0a5.5,5.5 0 1,0 -11.0,0M867.7,468.1a5.5,5.5 0 1,0 11.0,0a5.5,5.5 0 1,0 -11.0,0M753.4,387.4a5.5,5.5 0 1,0 11.0,0a5.5,5.5 0 1,0 -11.0,0M820.8,396.3a5.5,5.5 0 1,0 11.0,0a5.5,5.5 0 1,0 -11.0,0M781.5,379.1a5.5,5.5 0 1,0 11.0,0a5.5,5.5 0 1,0 -11.0,0M775.8,405.0a5.5,5.5 0 1,0 11.0,0a5.5,5.5 0 1,0 -11.0,0M798.3,422.6a5.5,5.5 0 1,0 11.0,0a5.5,5.5 0 1,0 -11.0,0M766.2,408.0a5.5,5.5 0 1,0 11.0,0a5.5,5.5 0 1,0 -11.0,0M892.2,502.2a5.5,5.5 0 1,0 11.0,0a5.5,5.5 0 1,0 -11.0,0M861.7,472.2a5.5,5.5 0 1,0 11.0,0a5.5,5.5 0 1,0 -11.0,0M750.7,447.7a5.5,5.5 0 1,0 11.0,0a5.5,5.5 0 1,0 -11.0,0M769.6,425.7a5.5,5.5 0 1,0 11.0,0a5.5,5.5 0 1,0 -11.0,0M880.8,490.6a5.5,5.5 0 1,0 11.0,0a5.5,5.5 0 1,0 -11.0,0M820.6,414.2a5.5,5.5 0 1,0 11.0,0a5.5,5.5 0 1,0 -11.0,0M741.8,415.3a5.5,5.5 0 1,0 11.0,0a5.5,5.5 0 1,0 -11.0,0M883.4,485.1a5.5,5.5 0 1,0 11.0,0a5.5,5.5 0 1,0 -11.0,0M808.1,415.5a5.5,5.5 0 1,0 11.0,0a5.5,5.5 0 1,0 -11.0,0M831.6,390.2a5.5,5.5 0 1,0 11.0,0a5.5,5.5 0 1,0 -11.0,0M737.4,434.1a5.5,5.5 0 1,0 11.0,0a5.5,5.5 0 1,0 -11.0,0M856.7,455.0a5.5,5.5 0 1,0 11.0,0a5.5,5.5 0 1,0 -11.0,0M764.8,410.9a5.5,5.5 0 1,0 11.0,0a5.5,5.5 0 1,0 -11.0,0M807.8,425.0a5.5,5.5 0 1,0 11.0,0a5.5,5.5 0 1,0 -11.0,0M866.4,455.0a5.5,5.5 0 1,0 11.0,0a5.5,5.5 0 1,0 -11.0,0M789.5,404.1a5.5,5.5 0 1,0 11.0,0a5.5,5.5 0 1,0 -11.0,0M829.7,373.3a5.5,5.5 0 1,0 11.0,0a5.5,5.5 0 1,0 -11.0,0M816.4,422.0a5.5,5.5 0 1,0 11.0,0a5.5,5.5 0 1,0 -11.0,0M807.9,426.5a5.5,5.5 0 1,0 11.0,0a5.5,5.5 0 1,0 -11.0,0M860.2,456.9a5.5,5.5 0 1,0 11.0,0a5.5,5.5 0 1,0 -11.0,0M873.4,467.4a5.5,5.5 0 1,0 11.0,0a5.5,5.5 0 1,0 -11.0,0M766.5,453.6a5.5,5.5 0 1,0 11.0,0a5.5,5.5 0 1,0 -11.0,0M788.7,409.5a5.5,5.5 0 1,0 11.0,0a5.5,5.5 0 1,0 -11.0,0M853.5,459.8a5.5,5.5 0 1,0 11.0,0a5.5,5.5 0 1,0 -11.0,0M879.3,451.9a5.5,5.5 0 1,0 11.0,0a5.5,5.5 0 1,0 -11.0,0M764.9,422.9a5.5,5.5 0 1,0 11.0,0a5.5,5.5 0 1,0 -11.0,0M762.9,473.6a5.5,5.5 0 1,0 11.0,0a5.5,5.5 0 1,0 -11.0,0M886.3,485.3a5.5,5.5 0 1,0 11.0,0a5.5,5.5 0 1,0 -11.0,0M812.0,423.6a5.5,5.5 0 1,0 11.0,0a5.5,5.5 0 1,0 -11.0,0M754.2,450.7a5.5,5.5 0 1,0 11.0,0a5.5,5.5 0 1,0 -11.0,0M727.7,405.5a5.5,5.5 0 1,0 11.0,0a5.5,5.5 0 1,0 -11.0,0M780.4,387.5a5.5,5.5 0 1,0 11.0,0a5.5,5.5 0 1,0 -11.0,0M747.2,410.7a5.5,5.5 0 1,0 11.0,0a5.5,5.5 0 1,0 -11.0,0M810.5,385.5a5.5,5.5 0 1,0 11.0,0a5.5,5.5 0 1,0 -11.0,0M820.6,406.3a5.5,5.5 0 1,0 11.0,0a5.5,5.5 0 1,0 -11.0,0M767.2,448.2a5.5,5.5 0 1,0 11.0,0a5.5,5.5 0 1,0 -11.0,0M741.1,407.2a5.5,5.5 0 1,0 11.0,0a5.5,5.5 0 1,0 -11.0,0M855.3,436.3a5.5,5.5 0 1,0 11.0,0a5.5,5.5 0 1,0 -11.0,0M742.6,417.8a5.5,5.5 0 1,0 11.0,0a5.5,5.5 0 1,0 -11.0,0M738.6,401.8a5.5,5.5 0 1,0 11.0,0a5.5,5.5 0 1,0 -11.0,0M793.9,433.6a5.5,5.5 0 1,0 11.0,0a5.5,5.5 0 1,0 -11.0,0M729.8,416.5a5.5,5.5 0 1,0 11.0,0a5.5,5.5 0 1,0 -11.0,0M746.1,423.5a5.5,5.5 0 1,0 11.0,0a5.5,5.5 0 1,0 -11.0,0M774.2,407.3a5.5,5.5 0 1,0 11.0,0a5.5,5.5 0 1,0 -11.0,0M779.6,407.3a5.5,5.5 0 1,0 11.0,0a5.5,5.5 0 1,0 -11.0,0M871.0,463.2a5.5,5.5 0 1,0 11.0,0a5.5,5.5 0 1,0 -11.0,0M806.0,422.6a5.5,5.5 0 1,0 11.0,0a5.5,5.5 0 1,0 -11.0,0M880.7,510.5a5.5,5.5 0 1,0 11.0,0a5.5,5.5 0 1,0 -11.0,0M751.0,430.9a5.5,5.5 0 1,0 11.0,0a5.5,5.5 0 1,0 -11.0,0M836.4,411.3a5.5,5.5 0 1,0 11.0,0a5.5,5.5 0 1,0 -11.0,0M811.8,408.2a5.5,5.5 0 1,0 11.0,0a5.5,5.5 0 1,0 -11.0,0M879.1,505.2a5.5,5.5 0 1,0 11.0,0a5.5,5.5 0 1,0 -11.0,0M880.6,463.5a5.5,5.5 0 1,0 11.0,0a5.5,5.5 0 1,0 -11.0,0M868.2,491.7a5.5,5.5 0 1,0 11.0,0a5.5,5.5 0 1,0 -11.0,0M803.9,427.5a5.5,5.5 0 1,0 11.0,0a5.5,5.5 0 1,0 -11.0,0M788.1,428.1a5.5,5.5 0 1,0 11.0,0a5.5,5.5 0 1,0 -11.0,0M884.7,462.4a5.5,5.5 0 1,0 11.0,0a5.5,5.5 0 1,0 -11.0,0M786.5,379.9a5.5,5.5 0 1,0 11.0,0a5.5,5.5 0 1,0 -11.0,0M736.2,444.5a5.5,5.5 0 1,0 11.0,0a5.5,5.5 0 1,0 -11.0,0M784.0,428.6a5.5,5.5 0 1,0 11.0,0a5.5,5.5 0 1,0 -11.0,0M796.7,402.3a5.5,5.5 0 1,0 11.0,0a5.5,5.5 0 1,0 -11.0,0M778.0,440.5a5.5,5.5 0 1,0 11.0,0a5.5,5.5 0 1,0 -11.0,0M819.9,395.5a5.5,5.5 0 1,0 11.0,0a5.5,5.5 0 1,0 -11.0,0M733.6,388.0a5.5,5.5 0 1,0 11.0,0a5.5,5.5 0 1,0 -11.0,0M856.8,432.3a5.5,5.5 0 1,0 11.0,0a5.5,5.5 0 1,0 -11.0,0M735.8,449.9a5.5,5.5 0 1,0 11.0,0a5.5,5.5 0 1,0 -11.0,0M835.4,398.2a5.5,5.5 0 1,0 11.0,0a5.5,5.5 0 1,0 -11.0,0M731.9,439.5a5.5,5.5 0 1,0 11.0,0a5.5,5.5 0 1,0 -11.0,0M830.5,406.8a5.5,5.5 0 1,0 11.0,0a5.5,5.5 0 1,0 -11.0,0M800.0,399.6a5.5,5.5 0 1,0 11.0,0a5.5,5.5 0 1,0 -11.0,0M756.0,391.5a5.5,5.5 0 1,0 11.0,0a5.5,5.5 0 1,0 -11.0,0M845.8,417.6a5.5,5.5 0 1,0 11.0,0a5.5,5.5 0 1,0 -11.0,0M861.3,456.5a5.5,5.5 0 1,0 11.0,0a5.5,5.5 0 1,0 -11.0,0M835.4,424.7a5.5,5.5 0 1,0 11.0,0a5.5,5.5 0 1,0 -11.0,0M819.7,392.9a5.5,5.5 0 1,0 11.0,0a5.5,5.5 0 1,0 -11.0,0M889.6,468.5a5.5,5.5 0 1,0 11.0,0a5.5,5.5 0 1,0 -11.0,0M741.5,415.5a5.5,5.5 0 1,0 11.0,0a5.5,5.5 0 1,0 -11.0,0M871.7,485.9a5.5,5.5 0 1,0 11.0,0a5.5,5.5 0 1,0 -11.0,0M846.3,410.3a5.5,5.5 0 1,0 11.0,0a5.5,5.5 0 1,0 -11.0,0M763.9,473.6a5.5,5.5 0 1,0 11.0,0a5.5,5.5 0 1,0 -11.0,0M816.9,424.0a5.5,5.5 0 1,0 11.0,0a5.5,5.5 0 1,0 -11.0,0M768.4,467.5a5.5,5.5 0 1,0 11.0,0a5.5,5.5 0 1,0 -11.0,0M854.0,462.9a5.5,5.5 0 1,0 11.0,0a5.5,5.5 0 1,0 -11.0,0M837.9,395.3a5.5,5.5 0 1,0 11.0,0a5.5,5.5 0 1,0 -11.0,0M777.2,416.8a5.5,5.5 0 1,0 11.0,0a5.5,5.5 0 1,0 -11.0,0M740.8,417.7a5.5,5.5 0 1,0 11.0,0a5.5,5.5 0 1,0 -11.0,0M848.2,453.7a5.5,5.5 0 1,0 11.0,0a5.5,5.5 0 1,0 -11.0,0M767.2,443.9a5.5,5.5 0 1,0 11.0,0a5.5,5.5 0 1,0 -11.0,0M819.6,403.0a5.5,5.5 0 1,0 11.0,0a5.5,5.5 0 1,0 -11.0,0M885.5,513.2a5.5,5.5 0 1,0 11.0,0a5.5,5.5 0 1,0 -11.0,0M778.9,394.2a5.5,5.5 0 1,0 11.0,0a5.5,5.5 0 1,0 -11.0,0M786.7,381.8a5.5,5.5 0 1,0 11.0,0a5.5,5.5 0 1,0 -11.0,0M755.0,402.3a5.5,5.5 0 1,0 11.0,0a5.5,5.5 0 1,0 -11.0,0M776.2,445.6a5.5,5.5 0 1,0 11.0,0a5.5,5.5 0 1,0 -11.0,0M858.6,451.2a5.5,5.5 0 1,0 11.0,0a5.5,5.5 0 1,0 -11.0,0M805.1,414.7a5.5,5.5 0 1,0 11.0,0a5.5,5.5 0 1,0 -11.0,0M827.6,378.5a5.5,5.5 0 1,0 11.0,0a5.5,5.5 0 1,0 -11.0,0M881.4,502.3a5.5,5.5 0 1,0 11.0,0a5.5,5.5 0 1,0 -11.0,0M764.9,447.1a5.5,5.5 0 1,0 11.0,0a5.5,5.5 0 1,0 -11.0,0M757.1,461.4a5.5,5.5 0 1,0 11.0,0a5.5,5.5 0 1,0 -11.0,0M731.5,406.0a5.5,5.5 0 1,0 11.0,0a5.5,5.5 0 1,0 -11.0,0M814.0,390.4a5.5,5.5 0 1,0 11.0,0a5.5,5.5 0 1,0 -11.0,0M746.0,397.1a5.5,5.5 0 1,0 11.0,0a5.5,5.5 0 1,0 -11.0,0M854.2,436.8a5.5,5.5 0 1,0 11.0,0a5.5,5.5 0 1,0 -11.0,0M826.3,378.7a5.5,5.5 0 1,0 11.0,0a5.5,5.5 0 1,0 -11.0,0M857.3,476.5a5.5,5.5 0 1,0 11.0,0a5.5,5.5 0 1,0 -11.0,0M775.5,448.6a5.5,5.5 0 1,0 11.0,0a5.5,5.5 0 1,0 -11.0,0M839.3,429.7a5.5,5.5 0 1,0 11.0,0a5.5,5.5 0 1,0 -11.0,0M889.6,511.6a5.5,5.5 0 1,0 11.0,0a5.5,5.5 0 1,0 -11.0,0M827.2,365.5a5.5,5.5 0 1,0 11.0,0a5.5,5.5 0 1,0 -11.0,0M731.5,384.5a5.5,5.5 0 1,0 11.0,0a5.5,5.5 0 1,0 -11.0,0M893.1,479.1a5.5,5.5 0 1,0 11.0,0a5.5,5.5 0 1,0 -11.0,0M876.7,467.4a5.5,5.5 0 1,0 11.0,0a5.5,5.5 0 1,0 -11.0,0M823.3,383.6a5.5,5.5 0 1,0 11.0,0a5.5,5.5 0 1,0 -11.0,0M867.1,477.9a5.5,5.5 0 1,0 11.0,0a5.5,5.5 0 1,0 -11.0,0M749.1,443.4a5.5,5.5 0 1,0 11.0,0a5.5,5.5 0 1,0 -11.0,0M769.6,400.6a5.5,5.5 0 1,0 11.0,0a5.5,5.5 0 1,0 -11.0,0M777.6,382.5a5.5,5.5 0 1,0 11.0,0a5.5,5.5 0 1,0 -11.0,0M795.4,368.4a5.5,5.5 0 1,0 11.0,0a5.5,5.5 0 1,0 -11.0,0M873.5,472.5a5.5,5.5 0 1,0 11.0,0a5.5,5.5 0 1,0 -11.0,0M759.4,450.1a5.5,5.5 0 1,0 11.0,0a5.5,5.5 0 1,0 -11.0,0M752.9,417.0a5.5,5.5 0 1,0 11.0,0a5.5,5.5 0 1,0 -11.0,0M864.2,489.3a5.5,5.5 0 1,0 11.0,0a5.5,5.5 0 1,0 -11.0,0M880.6,464.8a5.5,5.5 0 1,0 11.0,0a5.5,5.5 0 1,0 -11.0,0M821.6,383.3a5.5,5.5 0 1,0 11.0,0a5.5,5.5 0 1,0 -11.0,0M796.7,429.1a5.5,5.5 0 1,0 11.0,0a5.5,5.5 0 1,0 -11.0,0M785.8,424.4a5.5,5.5 0 1,0 11.0,0a5.5,5.5 0 1,0 -11.0,0M796.9,421.3a5.5,5.5 0 1,0 11.0,0a5.5,5.5 0 1,0 -11.0,0M791.5,433.5a5.5,5.5 0 1,0 11.0,0a5.5,5.5 0 1,0 -11.0,0M773.0,436.0a5.5,5.5 0 1,0 11.0,0a5.5,5.5 0 1,0 -11.0,0M875.8,494.3a5.5,5.5 0 1,0 11.0,0a5.5,5.5 0 1,0 -11.0,0M765.4,403.0a5.5,5.5 0 1,0 11.0,0a5.5,5.5 0 1,0 -11.0,0M804.1,423.8a5.5,5.5 0 1,0 11.0,0a5.5,5.5 0 1,0 -11.0,0M870.9,497.7a5.5,5.5 0 1,0 11.0,0a5.5,5.5 0 1,0 -11.0,0M891.5,475.3a5.5,5.5 0 1,0 11.0,0a5.5,5.5 0 1,0 -11.0,0M802.3,385.8a5.5,5.5 0 1,0 11.0,0a5.5,5.5 0 1,0 -11.0,0M829.0,378.7a5.5,5.5 0 1,0 11.0,0a5.5,5.5 0 1,0 -11.0,0M763.3,416.8a5.5,5.5 0 1,0 11.0,0a5.5,5.5 0 1,0 -11.0,0M821.6,414.0a5.5,5.5 0 1,0 11.0,0a5.5,5.5 0 1,0 -11.0,0M827.2,380.4a5.5,5.5 0 1,0 11.0,0a5.5,5.5 0 1,0 -11.0,0M832.7,416.8a5.5,5.5 0 1,0 11.0,0a5.5,5.5 0 1,0 -11.0,0M819.5,389.9a5.5,5.5 0 1,0 11.0,0a5.5,5.5 0 1,0 -11.0,0M767.7,455.0a5.5,5.5 0 1,0 11.0,0a5.5,5.5 0 1,0 -11.0,0M750.9,404.1a5.5,5.5 0 1,0 11.0,0a5.5,5.5 0 1,0 -11.0,0M752.5,393.2a5.5,5.5 0 1,0 11.0,0a5.5,5.5 0 1,0 -11.0,0M746.8,396.6a5.5,5.5 0 1,0 11.0,0a5.5,5.5 0 1,0 -11.0,0M780.8,425.0a5.5,5.5 0 1,0 11.0,0a5.5,5.5 0 1,0 -11.0,0M853.3,426.4a5.5,5.5 0 1,0 11.0,0a5.5,5.5 0 1,0 -11.0,0M805.0,425.2a5.5,5.5 0 1,0 11.0,0a5.5,5.5 0 1,0 -11.0,0M789.1,405.6a5.5,5.5 0 1,0 11.0,0a5.5,5.5 0 1,0 -11.0,0M759.6,390.8a5.5,5.5 0 1,0 11.0,0a5.5,5.5 0 1,0 -11.0,0M845.0,431.0a5.5,5.5 0 1,0 11.0,0a5.5,5.5 0 1,0 -11.0,0M736.2,403.8a5.5,5.5 0 1,0 11.0,0a5.5,5.5 0 1,0 -11.0,0M817.7,414.3a5.5,5.5 0 1,0 11.0,0a5.5,5.5 0 1,0 -11.0,0M766.6,408.7a5.5,5.5 0 1,0 11.0,0a5.5,5.5 0 1,0 -11.0,0M772.0,417.4a5.5,5.5 0 1,0 11.0,0a5.5,5.5 0 1,0 -11.0,0M835.3,380.8a5.5,5.5 0 1,0 11.0,0a5.5,5.5 0 1,0 -11.0,0M732.0,388.8a5.5,5.5 0 1,0 11.0,0a5.5,5.5 0 1,0 -11.0,0M768.2,445.9a5.5,5.5 0 1,0 11.0,0a5.5,5.5 0 1,0 -11.0,0M863.8,455.0a5.5,5.5 0 1,0 11.0,0a5.5,5.5 0 1,0 -11.0,0M797.3,401.0a5.5,5.5 0 1,0 11.0,0a5.5,5.5 0 1,0 -11.0,0M890.9,481.3a5.5,5.5 0 1,0 11.0,0a5.5,5.5 0 1,0 -11.0,0M835.2,419.0a5.5,5.5 0 1,0 11.0,0a5.5,5.5 0 1,0 -11.0,0M741.6,394.2a5.5,5.5 0 1,0 11.0,0a5.5,5.5 0 1,0 -11.0,0M772.3,405.8a5.5,5.5 0 1,0 11.0,0a5.5,5.5 0 1,0 -11.0,0M783.8,392.3a5.5,5.5 0 1,0 11.0,0a5.5,5.5 0 1,0 -11.0,0M766.5,388.8a5.5,5.5 0 1,0 11.0,0a5.5,5.5 0 1,0 -11.0,0M811.1,391.2a5.5,5.5 0 1,0 11.0,0a5.5,5.5 0 1,0 -11.0,0M754.0,401.0a5.5,5.5 0 1,0 11.0,0a5.5,5.5 0 1,0 -11.0,0M727.6,412.9a5.5,5.5 0 1,0 11.0,0a5.5,5.5 0 1,0 -11.0,0M748.8,457.6a5.5,5.5 0 1,0 11.0,0a5.5,5.5 0 1,0 -11.0,0M793.8,387.4a5.5,5.5 0 1,0 11.0,0a5.5,5.5 0 1,0 -11.0,0M836.2,413.1a5.5,5.5 0 1,0 11.0,0a5.5,5.5 0 1,0 -11.0,0M747.2,388.9a5.5,5.5 0 1,0 11.0,0a5.5,5.5 0 1,0 -11.0,0M792.7,382.9a5.5,5.5 0 1,0 11.0,0a5.5,5.5 0 1,0 -11.0,0M818.1,426.4a5.5,5.5 0 1,0 11.0,0a5.5,5.5 0 1,0 -11.0,0M854.2,447.1a5.5,5.5 0 1,0 11.0,0a5.5,5.5 0 1,0 -11.0,0M858.0,452.9a5.5,5.5 0 1,0 11.0,0a5.5,5.5 0 1,0 -11.0,0M744.4,403.1a5.5,5.5 0 1,0 11.0,0a5.5,5.5 0 1,0 -11.0,0M779.1,427.0a5.5,5.5 0 1,0 11.0,0a5.5,5.5 0 1,0 -11.0,0M815.7,378.8a5.5,5.5 0 1,0 11.0,0a5.5,5.5 0 1,0 -11.0,0M778.3,385.8a5.5,5.5 0 1,0 11.0,0a5.5,5.5 0 1,0 -11.0,0M787.5,416.9a5.5,5.5 0 1,0 11.0,0a5.5,5.5 0 1,0 -11.0,0M782.1,413.4a5.5,5.5 0 1,0 11.0,0a5.5,5.5 0 1,0 -11.0,0M842.0,426.4a5.5,5.5 0 1,0 11.0,0a5.5,5.5 0 1,0 -11.0,0M870.5,482.3a5.5,5.5 0 1,0 11.0,0a5.5,5.5 0 1,0 -11.0,0M818.6,419.9a5.5,5.5 0 1,0 11.0,0a5.5,5.5 0 1,0 -11.0,0M738.9,393.6a5.5,5.5 0 1,0 11.0,0a5.5,5.5 0 1,0 -11.0,0M861.8,446.0a5.5,5.5 0 1,0 11.0,0a5.5,5.5 0 1,0 -11.0,0M861.2,471.7a5.5,5.5 0 1,0 11.0,0a5.5,5.5 0 1,0 -11.0,0M726.3,400.2a5.5,5.5 0 1,0 11.0,0a5.5,5.5 0 1,0 -11.0,0M751.0,445.8a5.5,5.5 0 1,0 11.0,0a5.5,5.5 0 1,0 -11.0,0M877.2,480.4a5.5,5.5 0 1,0 11.0,0a5.5,5.5 0 1,0 -11.0,0M857.2,469.8a5.5,5.5 0 1,0 11.0,0a5.5,5.5 0 1,0 -11.0,0M840.5,433.8a5.5,5.5 0 1,0 11.0,0a5.5,5.5 0 1,0 -11.0,0M845.5,439.8a5.5,5.5 0 1,0 11.0,0a5.5,5.5 0 1,0 -11.0,0M737.4,452.5a5.5,5.5 0 1,0 11.0,0a5.5,5.5 0 1,0 -11.0,0M779.1,404.0a5.5,5.5 0 1,0 11.0,0a5.5,5.5 0 1,0 -11.0,0M800.4,375.3a5.5,5.5 0 1,0 11.0,0a5.5,5.5 0 1,0 -11.0,0M878.6,494.6a5.5,5.5 0 1,0 11.0,0a5.5,5.5 0 1,0 -11.0,0M886.6,477.1a5.5,5.5 0 1,0 11.0,0a5.5,5.5 0 1,0 -11.0,0M745.5,417.3a5.5,5.5 0 1,0 11.0,0a5.5,5.5 0 1,0 -11.0,0M745.9,429.3a5.5,5.5 0 1,0 11.0,0a5.5,5.5 0 1,0 -11.0,0M891.6,494.0a5.5,5.5 0 1,0 11.0,0a5.5,5.5 0 1,0 -11.0,0M814.0,410.2a5.5,5.5 0 1,0 11.0,0a5.5,5.5 0 1,0 -11.0,0M825.8,410.1a5.5,5.5 0 1,0 11.0,0a5.5,5.5 0 1,0 -11.0,0M845.6,437.0a5.5,5.5 0 1,0 11.0,0a5.5,5.5 0 1,0 -11.0,0M803.1,407.9a5.5,5.5 0 1,0 11.0,0a5.5,5.5 0 1,0 -11.0,0M731.3,436.2a5.5,5.5 0 1,0 11.0,0a5.5,5.5 0 1,0 -11.0,0M828.9,392.2a5.5,5.5 0 1,0 11.0,0a5.5,5.5 0 1,0 -11.0,0M869.2,491.1a5.5,5.5 0 1,0 11.0,0a5.5,5.5 0 1,0 -11.0,0M807.3,390.6a5.5,5.5 0 1,0 11.0,0a5.5,5.5 0 1,0 -11.0,0M780.3,410.9a5.5,5.5 0 1,0 11.0,0a5.5,5.5 0 1,0 -11.0,0M735.2,448.2a5.5,5.5 0 1,0 11.0,0a5.5,5.5 0 1,0 -11.0,0M819.5,419.6a5.5,5.5 0 1,0 11.0,0a5.5,5.5 0 1,0 -11.0,0M885.0,500.7a5.5,5.5 0 1,0 11.0,0a5.5,5.5 0 1,0 -11.0,0M764.6,474.2a5.5,5.5 0 1,0 11.0,0a5.5,5.5 0 1,0 -11.0,0M835.1,377.9a5.5,5.5 0 1,0 11.0,0a5.5,5.5 0 1,0 -11.0,0M842.6,417.7a5.5,5.5 0 1,0 11.0,0a5.5,5.5 0 1,0 -11.0,0M893.6,488.5a5.5,5.5 0 1,0 11.0,0a5.5,5.5 0 1,0 -11.0,0M888.9,508.4a5.5,5.5 0 1,0 11.0,0a5.5,5.5 0 1,0 -11.0,0M814.8,406.2a5.5,5.5 0 1,0 11.0,0a5.5,5.5 0 1,0 -11.0,0M821.9,386.0a5.5,5.5 0 1,0 11.0,0a5.5,5.5 0 1,0 -11.0,0M755.9,427.6a5.5,5.5 0 1,0 11.0,0a5.5,5.5 0 1,0 -11.0,0M852.3,457.0a5.5,5.5 0 1,0 11.0,0a5.5,5.5 0 1,0 -11.0,0M797.6,400.2a5.5,5.5 0 1,0 11.0,0a5.5,5.5 0 1,0 -11.0,0M762.3,432.0a5.5,5.5 0 1,0 11.0,0a5.5,5.5 0 1,0 -11.0,0M778.0,437.6a5.5,5.5 0 1,0 11.0,0a5.5,5.5 0 1,0 -11.0,0M752.0,426.2a5.5,5.5 0 1,0 11.0,0a5.5,5.5 0 1,0 -11.0,0M843.2,413.9a5.5,5.5 0 1,0 11.0,0a5.5,5.5 0 1,0 -11.0,0M838.0,421.1a5.5,5.5 0 1,0 11.0,0a5.5,5.5 0 1,0 -11.0,0M853.0,437.2a5.5,5.5 0 1,0 11.0,0a5.5,5.5 0 1,0 -11.0,0M756.0,435.8a5.5,5.5 0 1,0 11.0,0a5.5,5.5 0 1,0 -11.0,0M780.2,398.0a5.5,5.5 0 1,0 11.0,0a5.5,5.5 0 1,0 -11.0,0M766.5,471.4a5.5,5.5 0 1,0 11.0,0a5.5,5.5 0 1,0 -11.0,0M759.0,417.2a5.5,5.5 0 1,0 11.0,0a5.5,5.5 0 1,0 -11.0,0M776.4,437.8a5.5,5.5 0 1,0 11.0,0a5.5,5.5 0 1,0 -11.0,0M850.8,462.0a5.5,5.5 0 1,0 11.0,0a5.5,5.5 0 1,0 -11.0,0M882.1,468.1a5.5,5.5 0 1,0 11.0,0a5.5,5.5 0 1,0 -11.0,0M730.7,430.8a5.5,5.5 0 1,0 11.0,0a5.5,5.5 0 1,0 -11.0,0M831.7,394.8a5.5,5.5 0 1,0 11.0,0a5.5,5.5 0 1,0 -11.0,0M880.3,507.1a5.5,5.5 0 1,0 11.0,0a5.5,5.5 0 1,0 -11.0,0M865.3,468.7a5.5,5.5 0 1,0 11.0,0a5.5,5.5 0 1,0 -11.0,0M831.4,412.1a5.5,5.5 0 1,0 11.0,0a5.5,5.5 0 1,0 -11.0,0M782.2,417.8a5.5,5.5 0 1,0 11.0,0a5.5,5.5 0 1,0 -11.0,0M877.5,490.9a5.5,5.5 0 1,0 11.0,0a5.5,5.5 0 1,0 -11.0,0M861.7,486.9a5.5,5.5 0 1,0 11.0,0a5.5,5.5 0 1,0 -11.0,0M867.3,493.2a5.5,5.5 0 1,0 11.0,0a5.5,5.5 0 1,0 -11.0,0M812.0,399.8a5.5,5.5 0 1,0 11.0,0a5.5,5.5 0 1,0 -11.0,0M779.5,416.6a5.5,5.5 0 1,0 11.0,0a5.5,5.5 0 1,0 -11.0,0M798.2,383.1a5.5,5.5 0 1,0 11.0,0a5.5,5.5 0 1,0 -11.0,0M843.5,444.7a5.5,5.5 0 1,0 11.0,0a5.5,5.5 0 1,0 -11.0,0M849.5,453.0a5.5,5.5 0 1,0 11.0,0a5.5,5.5 0 1,0 -11.0,0M777.3,382.4a5.5,5.5 0 1,0 11.0,0a5.5,5.5 0 1,0 -11.0,0M848.5,459.7a5.5,5.5 0 1,0 11.0,0a5.5,5.5 0 1,0 -11.0,0M864.5,460.2a5.5,5.5 0 1,0 11.0,0a5.5,5.5 0 1,0 -11.0,0M763.0,451.6a5.5,5.5 0 1,0 11.0,0a5.5,5.5 0 1,0 -11.0,0M791.4,405.2a5.5,5.5 0 1,0 11.0,0a5.5,5.5 0 1,0 -11.0,0M753.7,404.5a5.5,5.5 0 1,0 11.0,0a5.5,5.5 0 1,0 -11.0,0M810.8,372.3a5.5,5.5 0 1,0 11.0,0a5.5,5.5 0 1,0 -11.0,0M775.7,447.8a5.5,5.5 0 1,0 11.0,0a5.5,5.5 0 1,0 -11.0,0M890.7,487.4a5.5,5.5 0 1,0 11.0,0a5.5,5.5 0 1,0 -11.0,0M762.2,466.3a5.5,5.5 0 1,0 11.0,0a5.5,5.5 0 1,0 -11.0,0M768.4,423.0a5.5,5.5 0 1,0 11.0,0a5.5,5.5 0 1,0 -11.0,0M768.6,401.3a5.5,5.5 0 1,0 11.0,0a5.5,5.5 0 1,0 -11.0,0M779.5,428.1a5.5,5.5 0 1,0 11.0,0a5.5,5.5 0 1,0 -11.0,0M785.5,413.9a5.5,5.5 0 1,0 11.0,0a5.5,5.5 0 1,0 -11.0,0M849.6,440.4a5.5,5.5 0 1,0 11.0,0a5.5,5.5 0 1,0 -11.0,0M744.4,413.1a5.5,5.5 0 1,0 11.0,0a5.5,5.5 0 1,0 -11.0,0M753.6,417.4a5.5,5.5 0 1,0 11.0,0a5.5,5.5 0 1,0 -11.0,0M768.6,453.1a5.5,5.5 0 1,0 11.0,0a5.5,5.5 0 1,0 -11.0,0M838.6,399.7a5.5,5.5 0 1,0 11.0,0a5.5,5.5 0 1,0 -11.0,0M789.2,378.7a5.5,5.5 0 1,0 11.0,0a5.5,5.5 0 1,0 -11.0,0M747.6,406.6a5.5,5.5 0 1,0 11.0,0a5.5,5.5 0 1,0 -11.0,0M815.1,389.6a5.5,5.5 0 1,0 11.0,0a5.5,5.5 0 1,0 -11.0,0M737.6,418.0a5.5,5.5 0 1,0 11.0,0a5.5,5.5 0 1,0 -11.0,0M874.8,466.0a5.5,5.5 0 1,0 11.0,0a5.5,5.5 0 1,0 -11.0,0M739.4,397.4a5.5,5.5 0 1,0 11.0,0a5.5,5.5 0 1,0 -11.0,0M765.2,455.5a5.5,5.5 0 1,0 11.0,0a5.5,5.5 0 1,0 -11.0,0M814.3,416.4a5.5,5.5 0 1,0 11.0,0a5.5,5.5 0 1,0 -11.0,0M854.9,447.6a5.5,5.5 0 1,0 11.0,0a5.5,5.5 0 1,0 -11.0,0M887.1,515.4a5.5,5.5 0 1,0 11.0,0a5.5,5.5 0 1,0 -11.0,0M776.8,379.5a5.5,5.5 0 1,0 11.0,0a5.5,5.5 0 1,0 -11.0,0M806.5,374.1a5.5,5.5 0 1,0 11.0,0a5.5,5.5 0 1,0 -11.0,0M753.6,432.7a5.5,5.5 0 1,0 11.0,0a5.5,5.5 0 1,0 -11.0,0M814.4,424.0a5.5,5.5 0 1,0 11.0,0a5.5,5.5 0 1,0 -11.0,0M772.2,418.2a5.5,5.5 0 1,0 11.0,0a5.5,5.5 0 1,0 -11.0,0M759.4,420.9a5.5,5.5 0 1,0 11.0,0a5.5,5.5 0 1,0 -11.0,0M792.2,423.5a5.5,5.5 0 1,0 11.0,0a5.5,5.5 0 1,0 -11.0,0M787.0,406.3a5.5,5.5 0 1,0 11.0,0a5.5,5.5 0 1,0 -11.0,0M770.4,439.4a5.5,5.5 0 1,0 11.0,0a5.5,5.5 0 1,0 -11.0,0M737.2,428.1a5.5,5.5 0 1,0 11.0,0a5.5,5.5 0 1,0 -11.0,0M857.2,474.9a5.5,5.5 0 1,0 11.0,0a5.5,5.5 0 1,0 -11.0,0M768.2,386.7a5.5,5.5 0 1,0 11.0,0a5.5,5.5 0 1,0 -11.0,0M808.7,370.8a5.5,5.5 0 1,0 11.0,0a5.5,5.5 0 1,0 -11.0,0M750.1,438.4a5.5,5.5 0 1,0 11.0,0a5.5,5.5 0 1,0 -11.0,0M803.9,379.9a5.5,5.5 0 1,0 11.0,0a5.5,5.5 0 1,0 -11.0,0M847.1,442.9a5.5,5.5 0 1,0 11.0,0a5.5,5.5 0 1,0 -11.0,0M752.4,400.7a5.5,5.5 0 1,0 11.0,0a5.5,5.5 0 1,0 -11.0,0M747.7,443.4a5.5,5.5 0 1,0 11.0,0a5.5,5.5 0 1,0 -11.0,0M804.2,385.1a5.5,5.5 0 1,0 11.0,0a5.5,5.5 0 1,0 -11.0,0M846.2,447.4a5.5,5.5 0 1,0 11.0,0a5.5,5.5 0 1,0 -11.0,0M883.7,507.8a5.5,5.5 0 1,0 11.0,0a5.5,5.5 0 1,0 -11.0,0M790.4,433.6a5.5,5.5 0 1,0 11.0,0a5.5,5.5 0 1,0 -11.0,0M742.2,434.6a5.5,5.5 0 1,0 11.0,0a5.5,5.5 0 1,0 -11.0,0M756.0,406.9a5.5,5.5 0 1,0 11.0,0a5.5,5.5 0 1,0 -11.0,0M828.1,377.9a5.5,5.5 0 1,0 11.0,0a5.5,5.5 0 1,0 -11.0,0M851.7,429.5a5.5,5.5 0 1,0 11.0,0a5.5,5.5 0 1,0 -11.0,0M737.4,424.0a5.5,5.5 0 1,0 11.0,0a5.5,5.5 0 1,0 -11.0,0M741.1,454.0a5.5,5.5 0 1,0 11.0,0a5.5,5.5 0 1,0 -11.0,0M800.1,414.4a5.5,5.5 0 1,0 11.0,0a5.5,5.5 0 1,0 -11.0,0M865.3,471.5a5.5,5.5 0 1,0 11.0,0a5.5,5.5 0 1,0 -11.0,0M733.4,404.4a5.5,5.5 0 1,0 11.0,0a5.5,5.5 0 1,0 -11.0,0M888.7,498.7a5.5,5.5 0 1,0 11.0,0a5.5,5.5 0 1,0 -11.0,0M853.7,437.2a5.5,5.5 0 1,0 11.0,0a5.5,5.5 0 1,0 -11.0,0M744.6,396.9a5.5,5.5 0 1,0 11.0,0a5.5,5.5 0 1,0 -11.0,0M876.5,451.3a5.5,5.5 0 1,0 11.0,0a5.5,5.5 0 1,0 -11.0,0M855.2,444.2a5.5,5.5 0 1,0 11.0,0a5.5,5.5 0 1,0 -11.0,0M743.8,397.9a5.5,5.5 0 1,0 11.0,0a5.5,5.5 0 1,0 -11.0,0M835.2,375.5a5.5,5.5 0 1,0 11.0,0a5.5,5.5 0 1,0 -11.0,0M742.6,402.4a5.5,5.5 0 1,0 11.0,0a5.5,5.5 0 1,0 -11.0,0M859.5,448.8a5.5,5.5 0 1,0 11.0,0a5.5,5.5 0 1,0 -11.0,0M823.0,400.5a5.5,5.5 0 1,0 11.0,0a5.5,5.5 0 1,0 -11.0,0M787.0,431.2a5.5,5.5 0 1,0 11.0,0a5.5,5.5 0 1,0 -11.0,0M832.7,391.4a5.5,5.5 0 1,0 11.0,0a5.5,5.5 0 1,0 -11.0,0M823.2,413.4a5.5,5.5 0 1,0 11.0,0a5.5,5.5 0 1,0 -11.0,0M831.2,408.3a5.5,5.5 0 1,0 11.0,0a5.5,5.5 0 1,0 -11.0,0M767.9,443.1a5.5,5.5 0 1,0 11.0,0a5.5,5.5 0 1,0 -11.0,0M814.8,398.1a5.5,5.5 0 1,0 11.0,0a5.5,5.5 0 1,0 -11.0,0M854.2,441.4a5.5,5.5 0 1,0 11.0,0a5.5,5.5 0 1,0 -11.0,0M784.8,402.8a5.5,5.5 0 1,0 11.0,0a5.5,5.5 0 1,0 -11.0,0M839.6,415.9a5.5,5.5 0 1,0 11.0,0a5.5,5.5 0 1,0 -11.0,0M751.7,420.3a5.5,5.5 0 1,0 11.0,0a5.5,5.5 0 1,0 -11.0,0M857.9,469.9a5.5,5.5 0 1,0 11.0,0a5.5,5.5 0 1,0 -11.0,0M823.7,379.2a5.5,5.5 0 1,0 11.0,0a5.5,5.5 0 1,0 -11.0,0M761.3,403.3a5.5,5.5 0 1,0 11.0,0a5.5,5.5 0 1,0 -11.0,0M772.2,435.9a5.5,5.5 0 1,0 11.0,0a5.5,5.5 0 1,0 -11.0,0M758.0,460.9a5.5,5.5 0 1,0 11.0,0a5.5,5.5 0 1,0 -11.0,0M881.6,482.7a5.5,5.5 0 1,0 11.0,0a5.5,5.5 0 1,0 -11.0,0M730.6,433.9a5.5,5.5 0 1,0 11.0,0a5.5,5.5 0 1,0 -11.0,0M866.1,457.5a5.5,5.5 0 1,0 11.0,0a5.5,5.5 0 1,0 -11.0,0M877.8,448.6a5.5,5.5 0 1,0 11.0,0a5.5,5.5 0 1,0 -11.0,0M881.2,498.8a5.5,5.5 0 1,0 11.0,0a5.5,5.5 0 1,0 -11.0,0M739.3,435.8a5.5,5.5 0 1,0 11.0,0a5.5,5.5 0 1,0 -11.0,0M886.2,460.0a5.5,5.5 0 1,0 11.0,0a5.5,5.5 0 1,0 -11.0,0M822.1,391.5a5.5,5.5 0 1,0 11.0,0a5.5,5.5 0 1,0 -11.0,0M780.8,386.4a5.5,5.5 0 1,0 11.0,0a5.5,5.5 0 1,0 -11.0,0M803.1,370.3a5.5,5.5 0 1,0 11.0,0a5.5,5.5 0 1,0 -11.0,0M877.9,483.6a5.5,5.5 0 1,0 11.0,0a5.5,5.5 0 1,0 -11.0,0M807.9,375.8a5.5,5.5 0 1,0 11.0,0a5.5,5.5 0 1,0 -11.0,0M844.8,435.2a5.5,5.5 0 1,0 11.0,0a5.5,5.5 0 1,0 -11.0,0M771.2,429.0a5.5,5.5 0 1,0 11.0,0a5.5,5.5 0 1,0 -11.0,0M751.3,439.0a5.5,5.5 0 1,0 11.0,0a5.5,5.5 0 1,0 -11.0,0M836.0,373.5a5.5,5.5 0 1,0 11.0,0a5.5,5.5 0 1,0 -11.0,0M812.9,391.7a5.5,5.5 0 1,0 11.0,0a5.5,5.5 0 1,0 -11.0,0M844.8,440.3a5.5,5.5 0 1,0 11.0,0a5.5,5.5 0 1,0 -11.0,0M728.3,418.2a5.5,5.5 0 1,0 11.0,0a5.5,5.5 0 1,0 -11.0,0M878.4,465.6a5.5,5.5 0 1,0 11.0,0a5.5,5.5 0 1,0 -11.0,0M865.9,448.2a5.5,5.5 0 1,0 11.0,0a5.5,5.5 0 1,0 -11.0,0M767.6,427.5a5.5,5.5 0 1,0 11.0,0a5.5,5.5 0 1,0 -11.0,0M872.9,470.6a5.5,5.5 0 1,0 11.0,0a5.5,5.5 0 1,0 -11.0,0M768.4,398.0a5.5,5.5 0 1,0 11.0,0a5.5,5.5 0 1,0 -11.0,0M838.1,416.5a5.5,5.5 0 1,0 11.0,0a5.5,5.5 0 1,0 -11.0,0M883.4,504.6a5.5,5.5 0 1,0 11.0,0a5.5,5.5 0 1,0 -11.0,0M811.7,379.4a5.5,5.5 0 1,0 11.0,0a5.5,5.5 0 1,0 -11.0,0M853.7,420.1a5.5,5.5 0 1,0 11.0,0a5.5,5.5 0 1,0 -11.0,0M885.7,464.4a5.5,5.5 0 1,0 11.0,0a5.5,5.5 0 1,0 -11.0,0M790.4,429.8a5.5,5.5 0 1,0 11.0,0a5.5,5.5 0 1,0 -11.0,0M856.5,464.7a5.5,5.5 0 1,0 11.0,0a5.5,5.5 0 1,0 -11.0,0M835.5,374.7a5.5,5.5 0 1,0 11.0,0a5.5,5.5 0 1,0 -11.0,0M832.2,372.7a5.5,5.5 0 1,0 11.0,0a5.5,5.5 0 1,0 -11.0,0M888.7,492.7a5.5,5.5 0 1,0 11.0,0a5.5,5.5 0 1,0 -11.0,0M846.0,449.0a5.5,5.5 0 1,0 11.0,0a5.5,5.5 0 1,0 -11.0,0M864.2,489.6a5.5,5.5 0 1,0 11.0,0a5.5,5.5 0 1,0 -11.0,0M754.7,416.1a5.5,5.5 0 1,0 11.0,0a5.5,5.5 0 1,0 -11.0,0M735.0,414.5a5.5,5.5 0 1,0 11.0,0a5.5,5.5 0 1,0 -11.0,0M785.3,424.0a5.5,5.5 0 1,0 11.0,0a5.5,5.5 0 1,0 -11.0,0M724.4,409.5a5.5,5.5 0 1,0 11.0,0a5.5,5.5 0 1,0 -11.0,0M721.0,389.5a5.5,5.5 0 1,0 11.0,0a5.5,5.5 0 1,0 -11.0,0M713.7,397.4a5.5,5.5 0 1,0 11.0,0a5.5,5.5 0 1,0 -11.0,0M720.1,408.0a5.5,5.5 0 1,0 11.0,0a5.5,5.5 0 1,0 -11.0,0M719.4,414.9a5.5,5.5 0 1,0 11.0,0a5.5,5.5 0 1,0 -11.0,0M714.7,388.9a5.5,5.5 0 1,0 11.0,0a5.5,5.5 0 1,0 -11.0,0M722.6,403.5a5.5,5.5 0 1,0 11.0,0a5.5,5.5 0 1,0 -11.0,0M725.4,404.4a5.5,5.5 0 1,0 11.0,0a5.5,5.5 0 1,0 -11.0,0M720.0,401.3a5.5,5.5 0 1,0 11.0,0a5.5,5.5 0 1,0 -11.0,0M722.2,398.8a5.5,5.5 0 1,0 11.0,0a5.5,5.5 0 1,0 -11.0,0M725.2,407.6a5.5,5.5 0 1,0 11.0,0a5.5,5.5 0 1,0 -11.0,0M720.5,417.3a5.5,5.5 0 1,0 11.0,0a5.5,5.5 0 1,0 -11.0,0M726.3,423.7a5.5,5.5 0 1,0 11.0,0a5.5,5.5 0 1,0 -11.0,0M719.9,385.8a5.5,5.5 0 1,0 11.0,0a5.5,5.5 0 1,0 -11.0,0M713.0,389.8a5.5,5.5 0 1,0 11.0,0a5.5,5.5 0 1,0 -11.0,0M714.5,392.3a5.5,5.5 0 1,0 11.0,0a5.5,5.5 0 1,0 -11.0,0M725.1,402.8a5.5,5.5 0 1,0 11.0,0a5.5,5.5 0 1,0 -11.0,0M715.9,392.3a5.5,5.5 0 1,0 11.0,0a5.5,5.5 0 1,0 -11.0,0M723.2,396.8a5.5,5.5 0 1,0 11.0,0a5.5,5.5 0 1,0 -11.0,0M728.3,425.3a5.5,5.5 0 1,0 11.0,0a5.5,5.5 0 1,0 -11.0,0M719.9,420.7a5.5,5.5 0 1,0 11.0,0a5.5,5.5 0 1,0 -11.0,0M724.9,409.5a5.5,5.5 0 1,0 11.0,0a5.5,5.5 0 1,0 -11.0,0M727.5,437.9a5.5,5.5 0 1,0 11.0,0a5.5,5.5 0 1,0 -11.0,0M718.7,404.9a5.5,5.5 0 1,0 11.0,0a5.5,5.5 0 1,0 -11.0,0M721.8,396.9a5.5,5.5 0 1,0 11.0,0a5.5,5.5 0 1,0 -11.0,0M715.1,388.6a5.5,5.5 0 1,0 11.0,0a5.5,5.5 0 1,0 -11.0,0M724.0,329.0a5.5,5.5 0 1,0 11.0,0a5.5,5.5 0 1,0 -11.0,0M725.5,337.0a5.5,5.5 0 1,0 11.0,0a5.5,5.5 0 1,0 -11.0,0M722.5,345.0a5.5,5.5 0 1,0 11.0,0a5.5,5.5 0 1,0 -11.0,0M727.5,340.0a5.5,5.5 0 1,0 11.0,0a5.5,5.5 0 1,0 -11.0,0M724.5,347.0a5.5,5.5 0 1,0 11.0,0a5.5,5.5 0 1,0 -11.0,0M721.5,339.0a5.5,5.5 0 1,0 11.0,0a5.5,5.5 0 1,0 -11.0,0M950.2,650.4a5.5,5.5 0 1,0 11.0,0a5.5,5.5 0 1,0 -11.0,0M945.7,657.4a5.5,5.5 0 1,0 11.0,0a5.5,5.5 0 1,0 -11.0,0M950.2,659.9a5.5,5.5 0 1,0 11.0,0a5.5,5.5 0 1,0 -11.0,0M952.1,663.7a5.5,5.5 0 1,0 11.0,0a5.5,5.5 0 1,0 -11.0,0M951.4,673.2a5.5,5.5 0 1,0 11.0,0a5.5,5.5 0 1,0 -11.0,0M955.2,683.3a5.5,5.5 0 1,0 11.0,0a5.5,5.5 0 1,0 -11.0,0M955.2,685.2a5.5,5.5 0 1,0 11.0,0a5.5,5.5 0 1,0 -11.0,0M960.9,697.9a5.5,5.5 0 1,0 11.0,0a5.5,5.5 0 1,0 -11.0,0M966.0,698.5a5.5,5.5 0 1,0 11.0,0a5.5,5.5 0 1,0 -11.0,0M975.5,704.2a5.5,5.5 0 1,0 11.0,0a5.5,5.5 0 1,0 -11.0,0M976.7,708.0a5.5,5.5 0 1,0 11.0,0a5.5,5.5 0 1,0 -11.0,0M969.1,717.5a5.5,5.5 0 1,0 11.0,0a5.5,5.5 0 1,0 -11.0,0M976.0,722.4a5.5,5.5 0 1,0 11.0,0a5.5,5.5 0 1,0 -11.0,0M963.5,698.3a5.5,5.5 0 1,0 11.0,0a5.5,5.5 0 1,0 -11.0,0M976.7,648.5a5.5,5.5 0 1,0 11.0,0a5.5,5.5 0 1,0 -11.0,0M976.7,651.1a5.5,5.5 0 1,0 11.0,0a5.5,5.5 0 1,0 -11.0,0M978.6,656.1a5.5,5.5 0 1,0 11.0,0a5.5,5.5 0 1,0 -11.0,0M991.3,660.6a5.5,5.5 0 1,0 11.0,0a5.5,5.5 0 1,0 -11.0,0M991.9,662.5a5.5,5.5 0 1,0 11.0,0a5.5,5.5 0 1,0 -11.0,0M989.4,663.7a5.5,5.5 0 1,0 11.0,0a5.5,5.5 0 1,0 -11.0,0M981.1,673.2a5.5,5.5 0 1,0 11.0,0a5.5,5.5 0 1,0 -11.0,0M983.7,680.2a5.5,5.5 0 1,0 11.0,0a5.5,5.5 0 1,0 -11.0,0M991.9,696.0a5.5,5.5 0 1,0 11.0,0a5.5,5.5 0 1,0 -11.0,0M1000.7,696.0a5.5,5.5 0 1,0 11.0,0a5.5,5.5 0 1,0 -11.0,0M991.9,705.5a5.5,5.5 0 1,0 11.0,0a5.5,5.5 0 1,0 -11.0,0M990.6,709.3a5.5,5.5 0 1,0 11.0,0a5.5,5.5 0 1,0 -11.0,0M991.9,713.7a5.5,5.5 0 1,0 11.0,0a5.5,5.5 0 1,0 -11.0,0M1003.3,705.5a5.5,5.5 0 1,0 11.0,0a5.5,5.5 0 1,0 -11.0,0M1007.1,717.5a5.5,5.5 0 1,0 11.0,0a5.5,5.5 0 1,0 -11.0,0M1005.9,720.7a5.5,5.5 0 1,0 11.0,0a5.5,5.5 0 1,0 -11.0,0M1005.9,735.6a5.5,5.5 0 1,0 11.0,0a5.5,5.5 0 1,0 -11.0,0M1005.9,737.3a5.5,5.5 0 1,0 11.0,0a5.5,5.5 0 1,0 -11.0,0M1011.5,687.1a5.5,5.5 0 1,0 11.0,0a5.5,5.5 0 1,0 -11.0,0M1012.1,691.5a5.5,5.5 0 1,0 11.0,0a5.5,5.5 0 1,0 -11.0,0M1017.2,698.5a5.5,5.5 0 1,0 11.0,0a5.5,5.5 0 1,0 -11.0,0M1015.9,700.4a5.5,5.5 0 1,0 11.0,0a5.5,5.5 0 1,0 -11.0,0M1019.1,699.1a5.5,5.5 0 1,0 11.0,0a5.5,5.5 0 1,0 -11.0,0M1016.6,697.3a5.5,5.5 0 1,0 11.0,0a5.5,5.5 0 1,0 -11.0,0M1017.5,698.3a5.5,5.5 0 1,0 11.0,0a5.5,5.5 0 1,0 -11.0,0M1021.0,684.6a5.5,5.5 0 1,0 11.0,0a5.5,5.5 0 1,0 -11.0,0M1023.5,678.9a5.5,5.5 0 1,0 11.0,0a5.5,5.5 0 1,0 -11.0,0M1025.4,671.3a5.5,5.5 0 1,0 11.0,0a5.5,5.5 0 1,0 -11.0,0M1027.3,668.8a5.5,5.5 0 1,0 11.0,0a5.5,5.5 0 1,0 -11.0,0M1028.6,658.7a5.5,5.5 0 1,0 11.0,0a5.5,5.5 0 1,0 -11.0,0M1029.8,661.2a5.5,5.5 0 1,0 11.0,0a5.5,5.5 0 1,0 -11.0,0M1032.4,667.5a5.5,5.5 0 1,0 11.0,0a5.5,5.5 0 1,0 -11.0,0M1030.5,670.0a5.5,5.5 0 1,0 11.0,0a5.5,5.5 0 1,0 -11.0,0M1037.4,680.2a5.5,5.5 0 1,0 11.0,0a5.5,5.5 0 1,0 -11.0,0M1038.1,685.2a5.5,5.5 0 1,0 11.0,0a5.5,5.5 0 1,0 -11.0,0M1040.0,671.3a5.5,5.5 0 1,0 11.0,0a5.5,5.5 0 1,0 -11.0,0M1041.9,653.9a5.5,5.5 0 1,0 11.0,0a5.5,5.5 0 1,0 -11.0,0M1042.7,634.6a5.5,5.5 0 1,0 11.0,0a5.5,5.5 0 1,0 -11.0,0M1057.6,628.1a5.5,5.5 0 1,0 11.0,0a5.5,5.5 0 1,0 -11.0,0M1063.1,637.5a5.5,5.5 0 1,0 11.0,0a5.5,5.5 0 1,0 -11.0,0M1064.8,638.6a5.5,5.5 0 1,0 11.0,0a5.5,5.5 0 1,0 -11.0,0M1060.9,653.0a5.5,5.5 0 1,0 11.0,0a5.5,5.5 0 1,0 -11.0,0M1068.6,652.4a5.5,5.5 0 1,0 11.0,0a5.5,5.5 0 1,0 -11.0,0M1042.1,653.6a5.5,5.5 0 1,0 11.0,0a5.5,5.5 0 1,0 -11.0,0M1027.7,657.4a5.5,5.5 0 1,0 11.0,0a5.5,5.5 0 1,0 -11.0,0M1073.6,664.1a5.5,5.5 0 1,0 11.0,0a5.5,5.5 0 1,0 -11.0,0M1076.4,672.9a5.5,5.5 0 1,0 11.0,0a5.5,5.5 0 1,0 -11.0,0M1079.7,676.2a5.5,5.5 0 1,0 11.0,0a5.5,5.5 0 1,0 -11.0,0M1025.5,669.6a5.5,5.5 0 1,0 11.0,0a5.5,5.5 0 1,0 -11.0,0M1031.0,667.4a5.5,5.5 0 1,0 11.0,0a5.5,5.5 0 1,0 -11.0,0M1037.7,671.8a5.5,5.5 0 1,0 11.0,0a5.5,5.5 0 1,0 -11.0,0M1037.7,681.8a5.5,5.5 0 1,0 11.0,0a5.5,5.5 0 1,0 -11.0,0M1037.7,685.1a5.5,5.5 0 1,0 11.0,0a5.5,5.5 0 1,0 -11.0,0M1012.2,687.3a5.5,5.5 0 1,0 11.0,0a5.5,5.5 0 1,0 -11.0,0M1021.1,686.2a5.5,5.5 0 1,0 11.0,0a5.5,5.5 0 1,0 -11.0,0M1001.1,695.1a5.5,5.5 0 1,0 11.0,0a5.5,5.5 0 1,0 -11.0,0M1070.9,689.5a5.5,5.5 0 1,0 11.0,0a5.5,5.5 0 1,0 -11.0,0M1056.5,691.7a5.5,5.5 0 1,0 11.0,0a5.5,5.5 0 1,0 -11.0,0M1080.8,706.1a5.5,5.5 0 1,0 11.0,0a5.5,5.5 0 1,0 -11.0,0M1088.6,691.7a5.5,5.5 0 1,0 11.0,0a5.5,5.5 0 1,0 -11.0,0M1037.4,759.7a5.5,5.5 0 1,0 11.0,0a5.5,5.5 0 1,0 -11.0,0M1037.4,755.0a5.5,5.5 0 1,0 11.0,0a5.5,5.5 0 1,0 -11.0,0M1029.9,774.6a5.5,5.5 0 1,0 11.0,0a5.5,5.5 0 1,0 -11.0,0M1029.9,778.0a5.5,5.5 0 1,0 11.0,0a5.5,5.5 0 1,0 -11.0,0M1037.4,789.6a5.5,5.5 0 1,0 11.0,0a5.5,5.5 0 1,0 -11.0,0M1025.0,801.2a5.5,5.5 0 1,0 11.0,0a5.5,5.5 0 1,0 -11.0,0M1023.3,807.8a5.5,5.5 0 1,0 11.0,0a5.5,5.5 0 1,0 -11.0,0M1021.6,814.5a5.5,5.5 0 1,0 11.0,0a5.5,5.5 0 1,0 -11.0,0M1020.8,818.6a5.5,5.5 0 1,0 11.0,0a5.5,5.5 0 1,0 -11.0,0M1042.4,713.2a5.5,5.5 0 1,0 11.0,0a5.5,5.5 0 1,0 -11.0,0M1042.4,728.2a5.5,5.5 0 1,0 11.0,0a5.5,5.5 0 1,0 -11.0,0M1050.7,711.6a5.5,5.5 0 1,0 11.0,0a5.5,5.5 0 1,0 -11.0,0M1057.3,714.9a5.5,5.5 0 1,0 11.0,0a5.5,5.5 0 1,0 -11.0,0M1053.2,665.7a5.5,5.5 0 1,0 11.0,0a5.5,5.5 0 1,0 -11.0,0M1063.4,667.2a5.5,5.5 0 1,0 11.0,0a5.5,5.5 0 1,0 -11.0,0M1060.7,663.6a5.5,5.5 0 1,0 11.0,0a5.5,5.5 0 1,0 -11.0,0M1055.2,668.9a5.5,5.5 0 1,0 11.0,0a5.5,5.5 0 1,0 -11.0,0M1061.4,676.5a5.5,5.5 0 1,0 11.0,0a5.5,5.5 0 1,0 -11.0,0M1058.2,666.2a5.5,5.5 0 1,0 11.0,0a5.5,5.5 0 1,0 -11.0,0M1052.1,667.0a5.5,5.5 0 1,0 11.0,0a5.5,5.5 0 1,0 -11.0,0M1053.1,670.5a5.5,5.5 0 1,0 11.0,0a5.5,5.5 0 1,0 -11.0,0M1052.1,668.8a5.5,5.5 0 1,0 11.0,0a5.5,5.5 0 1,0 -11.0,0M1059.9,674.5a5.5,5.5 0 1,0 11.0,0a5.5,5.5 0 1,0 -11.0,0M1048.4,666.4a5.5,5.5 0 1,0 11.0,0a5.5,5.5 0 1,0 -11.0,0M1053.5,674.0a5.5,5.5 0 1,0 11.0,0a5.5,5.5 0 1,0 -11.0,0M1053.7,676.1a5.5,5.5 0 1,0 11.0,0a5.5,5.5 0 1,0 -11.0,0M1056.1,674.5a5.5,5.5 0 1,0 11.0,0a5.5,5.5 0 1,0 -11.0,0M1051.9,668.5a5.5,5.5 0 1,0 11.0,0a5.5,5.5 0 1,0 -11.0,0M1058.3,671.5a5.5,5.5 0 1,0 11.0,0a5.5,5.5 0 1,0 -11.0,0M1048.4,668.7a5.5,5.5 0 1,0 11.0,0a5.5,5.5 0 1,0 -11.0,0M1055.5,671.7a5.5,5.5 0 1,0 11.0,0a5.5,5.5 0 1,0 -11.0,0M1052.6,675.5a5.5,5.5 0 1,0 11.0,0a5.5,5.5 0 1,0 -11.0,0M1055.4,674.5a5.5,5.5 0 1,0 11.0,0a5.5,5.5 0 1,0 -11.0,0M1056.2,669.9a5.5,5.5 0 1,0 11.0,0a5.5,5.5 0 1,0 -11.0,0M1053.7,665.6a5.5,5.5 0 1,0 11.0,0a5.5,5.5 0 1,0 -11.0,0M1057.8,672.2a5.5,5.5 0 1,0 11.0,0a5.5,5.5 0 1,0 -11.0,0M1058.0,668.3a5.5,5.5 0 1,0 11.0,0a5.5,5.5 0 1,0 -11.0,0M1051.4,668.3a5.5,5.5 0 1,0 11.0,0a5.5,5.5 0 1,0 -11.0,0M1053.8,669.6a5.5,5.5 0 1,0 11.0,0a5.5,5.5 0 1,0 -11.0,0M1079.7,670.3a5.5,5.5 0 1,0 11.0,0a5.5,5.5 0 1,0 -11.0,0M1076.1,675.0a5.5,5.5 0 1,0 11.0,0a5.5,5.5 0 1,0 -11.0,0M1079.5,679.4a5.5,5.5 0 1,0 11.0,0a5.5,5.5 0 1,0 -11.0,0M1078.6,670.5a5.5,5.5 0 1,0 11.0,0a5.5,5.5 0 1,0 -11.0,0M1074.8,670.7a5.5,5.5 0 1,0 11.0,0a5.5,5.5 0 1,0 -11.0,0M1077.5,673.7a5.5,5.5 0 1,0 11.0,0a5.5,5.5 0 1,0 -11.0,0M1077.2,671.2a5.5,5.5 0 1,0 11.0,0a5.5,5.5 0 1,0 -11.0,0M1076.9,672.8a5.5,5.5 0 1,0 11.0,0a5.5,5.5 0 1,0 -11.0,0M1078.8,673.2a5.5,5.5 0 1,0 11.0,0a5.5,5.5 0 1,0 -11.0,0M1075.3,669.6a5.5,5.5 0 1,0 11.0,0a5.5,5.5 0 1,0 -11.0,0M1038.6,757.4a5.5,5.5 0 1,0 11.0,0a5.5,5.5 0 1,0 -11.0,0M1037.3,757.5a5.5,5.5 0 1,0 11.0,0a5.5,5.5 0 1,0 -11.0,0M1038.3,757.0a5.5,5.5 0 1,0 11.0,0a5.5,5.5 0 1,0 -11.0,0M1037.5,757.1a5.5,5.5 0 1,0 11.0,0a5.5,5.5 0 1,0 -11.0,0M1037.9,755.7a5.5,5.5 0 1,0 11.0,0a5.5,5.5 0 1,0 -11.0,0M1016.5,700.0a5.5,5.5 0 1,0 11.0,0a5.5,5.5 0 1,0 -11.0,0M1018.9,699.0a5.5,5.5 0 1,0 11.0,0a5.5,5.5 0 1,0 -11.0,0M1016.8,701.3a5.5,5.5 0 1,0 11.0,0a5.5,5.5 0 1,0 -11.0,0M1017.8,700.9a5.5,5.5 0 1,0 11.0,0a5.5,5.5 0 1,0 -11.0,0M1013.1,694.8a5.5,5.5 0 1,0 11.0,0a5.5,5.5 0 1,0 -11.0,0M1018.0,696.9a5.5,5.5 0 1,0 11.0,0a5.5,5.5 0 1,0 -11.0,0M1015.0,695.2a5.5,5.5 0 1,0 11.0,0a5.5,5.5 0 1,0 -11.0,0M1019.7,694.6a5.5,5.5 0 1,0 11.0,0a5.5,5.5 0 1,0 -11.0,0M1101.8,615.1a5.5,5.5 0 1,0 11.0,0a5.5,5.5 0 1,0 -11.0,0M1110.7,603.9a5.5,5.5 0 1,0 11.0,0a5.5,5.5 0 1,0 -11.0,0M1098.3,646.2a5.5,5.5 0 1,0 11.0,0a5.5,5.5 0 1,0 -11.0,0M1105.1,608.0a5.5,5.5 0 1,0 11.0,0a5.5,5.5 0 1,0 -11.0,0M1098.6,641.7a5.5,5.5 0 1,0 11.0,0a5.5,5.5 0 1,0 -11.0,0M1100.2,632.9a5.5,5.5 0 1,0 11.0,0a5.5,5.5 0 1,0 -11.0,0M1091.1,674.3a5.5,5.5 0 1,0 11.0,0a5.5,5.5 0 1,0 -11.0,0M1108.3,612.1a5.5,5.5 0 1,0 11.0,0a5.5,5.5 0 1,0 -11.0,0M1097.6,660.2a5.5,5.5 0 1,0 11.0,0a5.5,5.5 0 1,0 -11.0,0M1099.4,624.1a5.5,5.5 0 1,0 11.0,0a5.5,5.5 0 1,0 -11.0,0M1102.5,631.5a5.5,5.5 0 1,0 11.0,0a5.5,5.5 0 1,0 -11.0,0M1097.6,633.8a5.5,5.5 0 1,0 11.0,0a5.5,5.5 0 1,0 -11.0,0M1104.7,623.7a5.5,5.5 0 1,0 11.0,0a5.5,5.5 0 1,0 -11.0,0M1105.9,600.7a5.5,5.5 0 1,0 11.0,0a5.5,5.5 0 1,0 -11.0,0M1097.8,648.2a5.5,5.5 0 1,0 11.0,0a5.5,5.5 0 1,0 -11.0,0M1103.0,630.6a5.5,5.5 0 1,0 11.0,0a5.5,5.5 0 1,0 -11.0,0M1094.6,657.3a5.5,5.5 0 1,0 11.0,0a5.5,5.5 0 1,0 -11.0,0M1099.8,636.9a5.5,5.5 0 1,0 11.0,0a5.5,5.5 0 1,0 -11.0,0M1093.3,648.8a5.5,5.5 0 1,0 11.0,0a5.5,5.5 0 1,0 -11.0,0M1097.0,644.1a5.5,5.5 0 1,0 11.0,0a5.5,5.5 0 1,0 -11.0,0M1096.2,645.4a5.5,5.5 0 1,0 11.0,0a5.5,5.5 0 1,0 -11.0,0M1098.4,635.9a5.5,5.5 0 1,0 11.0,0a5.5,5.5 0 1,0 -11.0,0M1101.3,623.8a5.5,5.5 0 1,0 11.0,0a5.5,5.5 0 1,0 -11.0,0M1105.6,603.1a5.5,5.5 0 1,0 11.0,0a5.5,5.5 0 1,0 -11.0,0M1106.4,601.6a5.5,5.5 0 1,0 11.0,0a5.5,5.5 0 1,0 -11.0,0M1097.4,662.4a5.5,5.5 0 1,0 11.0,0a5.5,5.5 0 1,0 -11.0,0M1101.2,635.5a5.5,5.5 0 1,0 11.0,0a5.5,5.5 0 1,0 -11.0,0M1100.2,637.0a5.5,5.5 0 1,0 11.0,0a5.5,5.5 0 1,0 -11.0,0M1103.8,605.6a5.5,5.5 0 1,0 11.0,0a5.5,5.5 0 1,0 -11.0,0M1102.7,630.4a5.5,5.5 0 1,0 11.0,0a5.5,5.5 0 1,0 -11.0,0M1103.8,626.3a5.5,5.5 0 1,0 11.0,0a5.5,5.5 0 1,0 -11.0,0M1096.3,648.4a5.5,5.5 0 1,0 11.0,0a5.5,5.5 0 1,0 -11.0,0M1104.3,603.9a5.5,5.5 0 1,0 11.0,0a5.5,5.5 0 1,0 -11.0,0M1093.5,657.2a5.5,5.5 0 1,0 11.0,0a5.5,5.5 0 1,0 -11.0,0M1091.3,671.1a5.5,5.5 0 1,0 11.0,0a5.5,5.5 0 1,0 -11.0,0M1100.7,637.1a5.5,5.5 0 1,0 11.0,0a5.5,5.5 0 1,0 -11.0,0M1103.1,615.9a5.5,5.5 0 1,0 11.0,0a5.5,5.5 0 1,0 -11.0,0M1099.2,628.8a5.5,5.5 0 1,0 11.0,0a5.5,5.5 0 1,0 -11.0,0M1099.0,633.0a5.5,5.5 0 1,0 11.0,0a5.5,5.5 0 1,0 -11.0,0M1105.4,611.7a5.5,5.5 0 1,0 11.0,0a5.5,5.5 0 1,0 -11.0,0M1106.6,609.2a5.5,5.5 0 1,0 11.0,0a5.5,5.5 0 1,0 -11.0,0M1111.4,602.6a5.5,5.5 0 1,0 11.0,0a5.5,5.5 0 1,0 -11.0,0M1098.5,660.3a5.5,5.5 0 1,0 11.0,0a5.5,5.5 0 1,0 -11.0,0M1094.3,662.4a5.5,5.5 0 1,0 11.0,0a5.5,5.5 0 1,0 -11.0,0M1093.1,666.2a5.5,5.5 0 1,0 11.0,0a5.5,5.5 0 1,0 -11.0,0M1096.7,641.3a5.5,5.5 0 1,0 11.0,0a5.5,5.5 0 1,0 -11.0,0M1103.2,636.1a5.5,5.5 0 1,0 11.0,0a5.5,5.5 0 1,0 -11.0,0M1098.4,659.7a5.5,5.5 0 1,0 11.0,0a5.5,5.5 0 1,0 -11.0,0M1090.6,733.0a5.5,5.5 0 1,0 11.0,0a5.5,5.5 0 1,0 -11.0,0M1090.8,729.3a5.5,5.5 0 1,0 11.0,0a5.5,5.5 0 1,0 -11.0,0M1088.2,728.5a5.5,5.5 0 1,0 11.0,0a5.5,5.5 0 1,0 -11.0,0M1088.2,718.7a5.5,5.5 0 1,0 11.0,0a5.5,5.5 0 1,0 -11.0,0M1080.1,726.0a5.5,5.5 0 1,0 11.0,0a5.5,5.5 0 1,0 -11.0,0M1081.9,705.8a5.5,5.5 0 1,0 11.0,0a5.5,5.5 0 1,0 -11.0,0M1089.9,730.0a5.5,5.5 0 1,0 11.0,0a5.5,5.5 0 1,0 -11.0,0M1088.2,743.6a5.5,5.5 0 1,0 11.0,0a5.5,5.5 0 1,0 -11.0,0M1084.2,718.7a5.5,5.5 0 1,0 11.0,0a5.5,5.5 0 1,0 -11.0,0M1084.1,712.3a5.5,5.5 0 1,0 11.0,0a5.5,5.5 0 1,0 -11.0,0M1088.6,748.1a5.5,5.5 0 1,0 11.0,0a5.5,5.5 0 1,0 -11.0,0M1082.4,736.4a5.5,5.5 0 1,0 11.0,0a5.5,5.5 0 1,0 -11.0,0M1087.4,740.8a5.5,5.5 0 1,0 11.0,0a5.5,5.5 0 1,0 -11.0,0M1082.8,755.7a5.5,5.5 0 1,0 11.0,0a5.5,5.5 0 1,0 -11.0,0M1087.8,709.8a5.5,5.5 0 1,0 11.0,0a5.5,5.5 0 1,0 -11.0,0M1088.4,745.4a5.5,5.5 0 1,0 11.0,0a5.5,5.5 0 1,0 -11.0,0M1080.3,750.0a5.5,5.5 0 1,0 11.0,0a5.5,5.5 0 1,0 -11.0,0M1084.1,706.7a5.5,5.5 0 1,0 11.0,0a5.5,5.5 0 1,0 -11.0,0M1083.4,723.9a5.5,5.5 0 1,0 11.0,0a5.5,5.5 0 1,0 -11.0,0M1085.4,708.0a5.5,5.5 0 1,0 11.0,0a5.5,5.5 0 1,0 -11.0,0M1079.3,730.9a5.5,5.5 0 1,0 11.0,0a5.5,5.5 0 1,0 -11.0,0M1087.8,735.3a5.5,5.5 0 1,0 11.0,0a5.5,5.5 0 1,0 -11.0,0M1083.7,746.3a5.5,5.5 0 1,0 11.0,0a5.5,5.5 0 1,0 -11.0,0M1085.3,703.5a5.5,5.5 0 1,0 11.0,0a5.5,5.5 0 1,0 -11.0,0M1090.0,692.7a5.5,5.5 0 1,0 11.0,0a5.5,5.5 0 1,0 -11.0,0M1087.0,722.6a5.5,5.5 0 1,0 11.0,0a5.5,5.5 0 1,0 -11.0,0M1085.5,745.2a5.5,5.5 0 1,0 11.0,0a5.5,5.5 0 1,0 -11.0,0M1086.8,752.0a5.5,5.5 0 1,0 11.0,0a5.5,5.5 0 1,0 -11.0,0M1087.4,750.2a5.5,5.5 0 1,0 11.0,0a5.5,5.5 0 1,0 -11.0,0M1080.0,743.9a5.5,5.5 0 1,0 11.0,0a5.5,5.5 0 1,0 -11.0,0M1082.7,750.6a5.5,5.5 0 1,0 11.0,0a5.5,5.5 0 1,0 -11.0,0M1088.8,753.7a5.5,5.5 0 1,0 11.0,0a5.5,5.5 0 1,0 -11.0,0M1088.3,714.6a5.5,5.5 0 1,0 11.0,0a5.5,5.5 0 1,0 -11.0,0M1085.3,741.2a5.5,5.5 0 1,0 11.0,0a5.5,5.5 0 1,0 -11.0,0M1079.3,724.7a5.5,5.5 0 1,0 11.0,0a5.5,5.5 0 1,0 -11.0,0M1085.9,736.8a5.5,5.5 0 1,0 11.0,0a5.5,5.5 0 1,0 -11.0,0M1082.9,729.2a5.5,5.5 0 1,0 11.0,0a5.5,5.5 0 1,0 -11.0,0M1088.1,713.9a5.5,5.5 0 1,0 11.0,0a5.5,5.5 0 1,0 -11.0,0M1087.4,749.4a5.5,5.5 0 1,0 11.0,0a5.5,5.5 0 1,0 -11.0,0M1083.3,723.8a5.5,5.5 0 1,0 11.0,0a5.5,5.5 0 1,0 -11.0,0M1084.8,745.0a5.5,5.5 0 1,0 11.0,0a5.5,5.5 0 1,0 -11.0,0M1082.0,707.5a5.5,5.5 0 1,0 11.0,0a5.5,5.5 0 1,0 -11.0,0M1083.6,732.4a5.5,5.5 0 1,0 11.0,0a5.5,5.5 0 1,0 -11.0,0M1080.5,754.5a5.5,5.5 0 1,0 11.0,0a5.5,5.5 0 1,0 -11.0,0M1085.0,737.7a5.5,5.5 0 1,0 11.0,0a5.5,5.5 0 1,0 -11.0,0M1083.5,726.9a5.5,5.5 0 1,0 11.0,0a5.5,5.5 0 1,0 -11.0,0M1086.1,719.2a5.5,5.5 0 1,0 11.0,0a5.5,5.5 0 1,0 -11.0,0M1082.9,732.2a5.5,5.5 0 1,0 11.0,0a5.5,5.5 0 1,0 -11.0,0M1080.8,721.0a5.5,5.5 0 1,0 11.0,0a5.5,5.5 0 1,0 -11.0,0M1082.0,726.4a5.5,5.5 0 1,0 11.0,0a5.5,5.5 0 1,0 -11.0,0M1087.4,723.2a5.5,5.5 0 1,0 11.0,0a5.5,5.5 0 1,0 -11.0,0M1088.3,730.3a5.5,5.5 0 1,0 11.0,0a5.5,5.5 0 1,0 -11.0,0M1079.6,732.7a5.5,5.5 0 1,0 11.0,0a5.5,5.5 0 1,0 -11.0,0M1084.8,739.6a5.5,5.5 0 1,0 11.0,0a5.5,5.5 0 1,0 -11.0,0M1090.7,711.9a5.5,5.5 0 1,0 11.0,0a5.5,5.5 0 1,0 -11.0,0M1089.6,703.6a5.5,5.5 0 1,0 11.0,0a5.5,5.5 0 1,0 -11.0,0M1089.2,718.3a5.5,5.5 0 1,0 11.0,0a5.5,5.5 0 1,0 -11.0,0M1084.4,721.8a5.5,5.5 0 1,0 11.0,0a5.5,5.5 0 1,0 -11.0,0M1083.3,703.6a5.5,5.5 0 1,0 11.0,0a5.5,5.5 0 1,0 -11.0,0M1087.5,730.6a5.5,5.5 0 1,0 11.0,0a5.5,5.5 0 1,0 -11.0,0M1090.6,707.2a5.5,5.5 0 1,0 11.0,0a5.5,5.5 0 1,0 -11.0,0M1082.3,727.3a5.5,5.5 0 1,0 11.0,0a5.5,5.5 0 1,0 -11.0,0M1083.3,752.4a5.5,5.5 0 1,0 11.0,0a5.5,5.5 0 1,0 -11.0,0M1091.3,696.8a5.5,5.5 0 1,0 11.0,0a5.5,5.5 0 1,0 -11.0,0M1081.4,699.6a5.5,5.5 0 1,0 11.0,0a5.5,5.5 0 1,0 -11.0,0M1084.3,707.3a5.5,5.5 0 1,0 11.0,0a5.5,5.5 0 1,0 -11.0,0M1087.3,748.2a5.5,5.5 0 1,0 11.0,0a5.5,5.5 0 1,0 -11.0,0M1080.0,709.1a5.5,5.5 0 1,0 11.0,0a5.5,5.5 0 1,0 -11.0,0M1080.2,717.4a5.5,5.5 0 1,0 11.0,0a5.5,5.5 0 1,0 -11.0,0M1083.2,737.5a5.5,5.5 0 1,0 11.0,0a5.5,5.5 0 1,0 -11.0,0M1084.0,731.7a5.5,5.5 0 1,0 11.0,0a5.5,5.5 0 1,0 -11.0,0M1080.2,729.5a5.5,5.5 0 1,0 11.0,0a5.5,5.5 0 1,0 -11.0,0M1090.0,748.2a5.5,5.5 0 1,0 11.0,0a5.5,5.5 0 1,0 -11.0,0M1090.2,735.4a5.5,5.5 0 1,0 11.0,0a5.5,5.5 0 1,0 -11.0,0M1088.4,692.6a5.5,5.5 0 1,0 11.0,0a5.5,5.5 0 1,0 -11.0,0M1086.5,689.6a5.5,5.5 0 1,0 11.0,0a5.5,5.5 0 1,0 -11.0,0M1088.1,742.0a5.5,5.5 0 1,0 11.0,0a5.5,5.5 0 1,0 -11.0,0M1088.0,755.9a5.5,5.5 0 1,0 11.0,0a5.5,5.5 0 1,0 -11.0,0M1086.6,712.9a5.5,5.5 0 1,0 11.0,0a5.5,5.5 0 1,0 -11.0,0M1082.8,743.2a5.5,5.5 0 1,0 11.0,0a5.5,5.5 0 1,0 -11.0,0M1091.1,712.8a5.5,5.5 0 1,0 11.0,0a5.5,5.5 0 1,0 -11.0,0M1081.4,755.8a5.5,5.5 0 1,0 11.0,0a5.5,5.5 0 1,0 -11.0,0M1084.1,718.1a5.5,5.5 0 1,0 11.0,0a5.5,5.5 0 1,0 -11.0,0M1082.5,737.3a5.5,5.5 0 1,0 11.0,0a5.5,5.5 0 1,0 -11.0,0M1089.6,715.2a5.5,5.5 0 1,0 11.0,0a5.5,5.5 0 1,0 -11.0,0M1084.0,742.5a5.5,5.5 0 1,0 11.0,0a5.5,5.5 0 1,0 -11.0,0M1087.7,744.3a5.5,5.5 0 1,0 11.0,0a5.5,5.5 0 1,0 -11.0,0M1090.4,752.8a5.5,5.5 0 1,0 11.0,0a5.5,5.5 0 1,0 -11.0,0M1085.4,714.4a5.5,5.5 0 1,0 11.0,0a5.5,5.5 0 1,0 -11.0,0M1090.6,689.1a5.5,5.5 0 1,0 11.0,0a5.5,5.5 0 1,0 -11.0,0M1083.2,741.3a5.5,5.5 0 1,0 11.0,0a5.5,5.5 0 1,0 -11.0,0M1087.3,733.8a5.5,5.5 0 1,0 11.0,0a5.5,5.5 0 1,0 -11.0,0M1084.8,694.2a5.5,5.5 0 1,0 11.0,0a5.5,5.5 0 1,0 -11.0,0M1089.3,739.8a5.5,5.5 0 1,0 11.0,0a5.5,5.5 0 1,0 -11.0,0M1084.7,726.2a5.5,5.5 0 1,0 11.0,0a5.5,5.5 0 1,0 -11.0,0M1089.0,721.6a5.5,5.5 0 1,0 11.0,0a5.5,5.5 0 1,0 -11.0,0M1084.7,720.9a5.5,5.5 0 1,0 11.0,0a5.5,5.5 0 1,0 -11.0,0M1088.1,738.0a5.5,5.5 0 1,0 11.0,0a5.5,5.5 0 1,0 -11.0,0M1082.9,740.8a5.5,5.5 0 1,0 11.0,0a5.5,5.5 0 1,0 -11.0,0M1083.4,733.8a5.5,5.5 0 1,0 11.0,0a5.5,5.5 0 1,0 -11.0,0M1083.4,749.1a5.5,5.5 0 1,0 11.0,0a5.5,5.5 0 1,0 -11.0,0M1090.7,740.9a5.5,5.5 0 1,0 11.0,0a5.5,5.5 0 1,0 -11.0,0M1083.5,711.9a5.5,5.5 0 1,0 11.0,0a5.5,5.5 0 1,0 -11.0,0M1084.1,729.1a5.5,5.5 0 1,0 11.0,0a5.5,5.5 0 1,0 -11.0,0M1078.9,725.1a5.5,5.5 0 1,0 11.0,0a5.5,5.5 0 1,0 -11.0,0M1090.6,692.4a5.5,5.5 0 1,0 11.0,0a5.5,5.5 0 1,0 -11.0,0M1090.1,726.9a5.5,5.5 0 1,0 11.0,0a5.5,5.5 0 1,0 -11.0,0M1087.8,739.2a5.5,5.5 0 1,0 11.0,0a5.5,5.5 0 1,0 -11.0,0M1084.0,696.0a5.5,5.5 0 1,0 11.0,0a5.5,5.5 0 1,0 -11.0,0M1089.6,747.7a5.5,5.5 0 1,0 11.0,0a5.5,5.5 0 1,0 -11.0,0M1242.7,654.2a5.5,5.5 0 1,0 11.0,0a5.5,5.5 0 1,0 -11.0,0M1257.8,673.5a5.5,5.5 0 1,0 11.0,0a5.5,5.5 0 1,0 -11.0,0M1255.3,708.3a5.5,5.5 0 1,0 11.0,0a5.5,5.5 0 1,0 -11.0,0M1260.6,636.2a5.5,5.5 0 1,0 11.0,0a5.5,5.5 0 1,0 -11.0,0M1257.0,678.3a5.5,5.5 0 1,0 11.0,0a5.5,5.5 0 1,0 -11.0,0M1267.8,678.4a5.5,5.5 0 1,0 11.0,0a5.5,5.5 0 1,0 -11.0,0M1248.9,621.2a5.5,5.5 0 1,0 11.0,0a5.5,5.5 0 1,0 -11.0,0M1260.9,635.6a5.5,5.5 0 1,0 11.0,0a5.5,5.5 0 1,0 -11.0,0M1239.3,677.3a5.5,5.5 0 1,0 11.0,0a5.5,5.5 0 1,0 -11.0,0M1256.9,558.2a5.5,5.5 0 1,0 11.0,0a5.5,5.5 0 1,0 -11.0,0M1274.1,630.6a5.5,5.5 0 1,0 11.0,0a5.5,5.5 0 1,0 -11.0,0M1269.3,664.1a5.5,5.5 0 1,0 11.0,0a5.5,5.5 0 1,0 -11.0,0M1264.3,695.8a5.5,5.5 0 1,0 11.0,0a5.5,5.5 0 1,0 -11.0,0M1245.3,645.2a5.5,5.5 0 1,0 11.0,0a5.5,5.5 0 1,0 -11.0,0M1260.8,612.2a5.5,5.5 0 1,0 11.0,0a5.5,5.5 0 1,0 -11.0,0M1257.6,531.4a5.5,5.5 0 1,0 11.0,0a5.5,5.5 0 1,0 -11.0,0M1260.3,575.4a5.5,5.5 0 1,0 11.0,0a5.5,5.5 0 1,0 -11.0,0M1244.8,602.3a5.5,5.5 0 1,0 11.0,0a5.5,5.5 0 1,0 -11.0,0M1245.4,613.7a5.5,5.5 0 1,0 11.0,0a5.5,5.5 0 1,0 -11.0,0M1245.3,663.2a5.5,5.5 0 1,0 11.0,0a5.5,5.5 0 1,0 -11.0,0M1241.6,705.1a5.5,5.5 0 1,0 11.0,0a5.5,5.5 0 1,0 -11.0,0M1242.1,647.7a5.5,5.5 0 1,0 11.0,0a5.5,5.5 0 1,0 -11.0,0M1269.9,617.2a5.5,5.5 0 1,0 11.0,0a5.5,5.5 0 1,0 -11.0,0M1268.4,694.6a5.5,5.5 0 1,0 11.0,0a5.5,5.5 0 1,0 -11.0,0M1275.9,684.0a5.5,5.5 0 1,0 11.0,0a5.5,5.5 0 1,0 -11.0,0M1256.4,622.5a5.5,5.5 0 1,0 11.0,0a5.5,5.5 0 1,0 -11.0,0M1252.9,706.9a5.5,5.5 0 1,0 11.0,0a5.5,5.5 0 1,0 -11.0,0M1267.2,608.3a5.5,5.5 0 1,0 11.0,0a5.5,5.5 0 1,0 -11.0,0M1243.0,595.8a5.5,5.5 0 1,0 11.0,0a5.5,5.5 0 1,0 -11.0,0M1250.5,702.1a5.5,5.5 0 1,0 11.0,0a5.5,5.5 0 1,0 -11.0,0M1255.7,706.5a5.5,5.5 0 1,0 11.0,0a5.5,5.5 0 1,0 -11.0,0M1271.3,637.7a5.5,5.5 0 1,0 11.0,0a5.5,5.5 0 1,0 -11.0,0M1250.2,681.3a5.5,5.5 0 1,0 11.0,0a5.5,5.5 0 1,0 -11.0,0M1256.1,708.5a5.5,5.5 0 1,0 11.0,0a5.5,5.5 0 1,0 -11.0,0M1261.5,701.2a5.5,5.5 0 1,0 11.0,0a5.5,5.5 0 1,0 -11.0,0M1267.2,661.9a5.5,5.5 0 1,0 11.0,0a5.5,5.5 0 1,0 -11.0,0M1267.0,668.1a5.5,5.5 0 1,0 11.0,0a5.5,5.5 0 1,0 -11.0,0M1241.4,628.4a5.5,5.5 0 1,0 11.0,0a5.5,5.5 0 1,0 -11.0,0M1243.0,683.8a5.5,5.5 0 1,0 11.0,0a5.5,5.5 0 1,0 -11.0,0M1255.5,710.7a5.5,5.5 0 1,0 11.0,0a5.5,5.5 0 1,0 -11.0,0M1269.0,607.3a5.5,5.5 0 1,0 11.0,0a5.5,5.5 0 1,0 -11.0,0M1246.1,607.0a5.5,5.5 0 1,0 11.0,0a5.5,5.5 0 1,0 -11.0,0M1263.6,686.2a5.5,5.5 0 1,0 11.0,0a5.5,5.5 0 1,0 -11.0,0M1239.6,650.4a5.5,5.5 0 1,0 11.0,0a5.5,5.5 0 1,0 -11.0,0M1267.0,647.2a5.5,5.5 0 1,0 11.0,0a5.5,5.5 0 1,0 -11.0,0M1271.9,677.2a5.5,5.5 0 1,0 11.0,0a5.5,5.5 0 1,0 -11.0,0M1264.4,679.0a5.5,5.5 0 1,0 11.0,0a5.5,5.5 0 1,0 -11.0,0M1243.8,701.7a5.5,5.5 0 1,0 11.0,0a5.5,5.5 0 1,0 -11.0,0M1266.1,546.4a5.5,5.5 0 1,0 11.0,0a5.5,5.5 0 1,0 -11.0,0M1245.5,646.1a5.5,5.5 0 1,0 11.0,0a5.5,5.5 0 1,0 -11.0,0M1251.1,700.0a5.5,5.5 0 1,0 11.0,0a5.5,5.5 0 1,0 -11.0,0M1250.0,617.8a5.5,5.5 0 1,0 11.0,0a5.5,5.5 0 1,0 -11.0,0M1259.2,700.6a5.5,5.5 0 1,0 11.0,0a5.5,5.5 0 1,0 -11.0,0M1251.0,691.8a5.5,5.5 0 1,0 11.0,0a5.5,5.5 0 1,0 -11.0,0M1268.5,632.9a5.5,5.5 0 1,0 11.0,0a5.5,5.5 0 1,0 -11.0,0M1278.0,690.3a5.5,5.5 0 1,0 11.0,0a5.5,5.5 0 1,0 -11.0,0M1269.6,628.7a5.5,5.5 0 1,0 11.0,0a5.5,5.5 0 1,0 -11.0,0M1265.5,550.5a5.5,5.5 0 1,0 11.0,0a5.5,5.5 0 1,0 -11.0,0M1265.1,592.5a5.5,5.5 0 1,0 11.0,0a5.5,5.5 0 1,0 -11.0,0M1254.4,679.2a5.5,5.5 0 1,0 11.0,0a5.5,5.5 0 1,0 -11.0,0M1273.5,665.5a5.5,5.5 0 1,0 11.0,0a5.5,5.5 0 1,0 -11.0,0M1256.8,626.9a5.5,5.5 0 1,0 11.0,0a5.5,5.5 0 1,0 -11.0,0M1263.6,543.6a5.5,5.5 0 1,0 11.0,0a5.5,5.5 0 1,0 -11.0,0M1243.4,649.3a5.5,5.5 0 1,0 11.0,0a5.5,5.5 0 1,0 -11.0,0M1246.6,666.6a5.5,5.5 0 1,0 11.0,0a5.5,5.5 0 1,0 -11.0,0M1267.0,559.3a5.5,5.5 0 1,0 11.0,0a5.5,5.5 0 1,0 -11.0,0M1276.4,711.2a5.5,5.5 0 1,0 11.0,0a5.5,5.5 0 1,0 -11.0,0M1265.7,708.2a5.5,5.5 0 1,0 11.0,0a5.5,5.5 0 1,0 -11.0,0M1271.8,615.5a5.5,5.5 0 1,0 11.0,0a5.5,5.5 0 1,0 -11.0,0M1272.8,700.3a5.5,5.5 0 1,0 11.0,0a5.5,5.5 0 1,0 -11.0,0M1267.4,544.5a5.5,5.5 0 1,0 11.0,0a5.5,5.5 0 1,0 -11.0,0M1253.8,657.5a5.5,5.5 0 1,0 11.0,0a5.5,5.5 0 1,0 -11.0,0M1257.2,554.9a5.5,5.5 0 1,0 11.0,0a5.5,5.5 0 1,0 -11.0,0M1258.0,547.3a5.5,5.5 0 1,0 11.0,0a5.5,5.5 0 1,0 -11.0,0M1268.7,568.0a5.5,5.5 0 1,0 11.0,0a5.5,5.5 0 1,0 -11.0,0M1264.6,646.5a5.5,5.5 0 1,0 11.0,0a5.5,5.5 0 1,0 -11.0,0M1246.7,643.5a5.5,5.5 0 1,0 11.0,0a5.5,5.5 0 1,0 -11.0,0M1261.2,641.4a5.5,5.5 0 1,0 11.0,0a5.5,5.5 0 1,0 -11.0,0M1246.2,616.1a5.5,5.5 0 1,0 11.0,0a5.5,5.5 0 1,0 -11.0,0M1273.3,641.9a5.5,5.5 0 1,0 11.0,0a5.5,5.5 0 1,0 -11.0,0M1248.6,590.1a5.5,5.5 0 1,0 11.0,0a5.5,5.5 0 1,0 -11.0,0M1258.1,622.8a5.5,5.5 0 1,0 11.0,0a5.5,5.5 0 1,0 -11.0,0M1243.0,682.7a5.5,5.5 0 1,0 11.0,0a5.5,5.5 0 1,0 -11.0,0M1257.2,582.4a5.5,5.5 0 1,0 11.0,0a5.5,5.5 0 1,0 -11.0,0M1257.0,538.8a5.5,5.5 0 1,0 11.0,0a5.5,5.5 0 1,0 -11.0,0M1242.0,680.3a5.5,5.5 0 1,0 11.0,0a5.5,5.5 0 1,0 -11.0,0M1270.1,565.1a5.5,5.5 0 1,0 11.0,0a5.5,5.5 0 1,0 -11.0,0M1251.5,624.2a5.5,5.5 0 1,0 11.0,0a5.5,5.5 0 1,0 -11.0,0M1269.8,621.4a5.5,5.5 0 1,0 11.0,0a5.5,5.5 0 1,0 -11.0,0M1273.8,711.2a5.5,5.5 0 1,0 11.0,0a5.5,5.5 0 1,0 -11.0,0M1261.9,537.1a5.5,5.5 0 1,0 11.0,0a5.5,5.5 0 1,0 -11.0,0M1244.1,651.8a5.5,5.5 0 1,0 11.0,0a5.5,5.5 0 1,0 -11.0,0M1244.0,693.1a5.5,5.5 0 1,0 11.0,0a5.5,5.5 0 1,0 -11.0,0M1261.4,637.9a5.5,5.5 0 1,0 11.0,0a5.5,5.5 0 1,0 -11.0,0M1243.5,590.4a5.5,5.5 0 1,0 11.0,0a5.5,5.5 0 1,0 -11.0,0M1253.6,663.7a5.5,5.5 0 1,0 11.0,0a5.5,5.5 0 1,0 -11.0,0M1271.0,655.8a5.5,5.5 0 1,0 11.0,0a5.5,5.5 0 1,0 -11.0,0M1246.0,613.3a5.5,5.5 0 1,0 11.0,0a5.5,5.5 0 1,0 -11.0,0M1252.8,641.5a5.5,5.5 0 1,0 11.0,0a5.5,5.5 0 1,0 -11.0,0M1267.2,613.3a5.5,5.5 0 1,0 11.0,0a5.5,5.5 0 1,0 -11.0,0M1260.3,682.4a5.5,5.5 0 1,0 11.0,0a5.5,5.5 0 1,0 -11.0,0M1242.6,638.3a5.5,5.5 0 1,0 11.0,0a5.5,5.5 0 1,0 -11.0,0M1251.5,666.9a5.5,5.5 0 1,0 11.0,0a5.5,5.5 0 1,0 -11.0,0M1268.2,605.0a5.5,5.5 0 1,0 11.0,0a5.5,5.5 0 1,0 -11.0,0M1244.8,668.6a5.5,5.5 0 1,0 11.0,0a5.5,5.5 0 1,0 -11.0,0M1267.6,631.9a5.5,5.5 0 1,0 11.0,0a5.5,5.5 0 1,0 -11.0,0M1269.5,702.2a5.5,5.5 0 1,0 11.0,0a5.5,5.5 0 1,0 -11.0,0M1248.6,654.9a5.5,5.5 0 1,0 11.0,0a5.5,5.5 0 1,0 -11.0,0M1271.0,596.8a5.5,5.5 0 1,0 11.0,0a5.5,5.5 0 1,0 -11.0,0M1257.3,636.2a5.5,5.5 0 1,0 11.0,0a5.5,5.5 0 1,0 -11.0,0M1272.0,605.1a5.5,5.5 0 1,0 11.0,0a5.5,5.5 0 1,0 -11.0,0M1260.0,555.6a5.5,5.5 0 1,0 11.0,0a5.5,5.5 0 1,0 -11.0,0M1245.6,582.2a5.5,5.5 0 1,0 11.0,0a5.5,5.5 0 1,0 -11.0,0M1240.6,633.1a5.5,5.5 0 1,0 11.0,0a5.5,5.5 0 1,0 -11.0,0M1264.2,601.3a5.5,5.5 0 1,0 11.0,0a5.5,5.5 0 1,0 -11.0,0M1271.7,628.7a5.5,5.5 0 1,0 11.0,0a5.5,5.5 0 1,0 -11.0,0M1266.8,544.8a5.5,5.5 0 1,0 11.0,0a5.5,5.5 0 1,0 -11.0,0M1245.2,684.1a5.5,5.5 0 1,0 11.0,0a5.5,5.5 0 1,0 -11.0,0M1244.2,637.9a5.5,5.5 0 1,0 11.0,0a5.5,5.5 0 1,0 -11.0,0M1254.0,651.8a5.5,5.5 0 1,0 11.0,0a5.5,5.5 0 1,0 -11.0,0M1274.8,680.4a5.5,5.5 0 1,0 11.0,0a5.5,5.5 0 1,0 -11.0,0M1278.8,705.3a5.5,5.5 0 1,0 11.0,0a5.5,5.5 0 1,0 -11.0,0M1254.8,709.3a5.5,5.5 0 1,0 11.0,0a5.5,5.5 0 1,0 -11.0,0M1270.2,579.9a5.5,5.5 0 1,0 11.0,0a5.5,5.5 0 1,0 -11.0,0M1252.0,624.6a5.5,5.5 0 1,0 11.0,0a5.5,5.5 0 1,0 -11.0,0M1275.6,651.4a5.5,5.5 0 1,0 11.0,0a5.5,5.5 0 1,0 -11.0,0M1263.0,603.4a5.5,5.5 0 1,0 11.0,0a5.5,5.5 0 1,0 -11.0,0M1254.1,603.2a5.5,5.5 0 1,0 11.0,0a5.5,5.5 0 1,0 -11.0,0M1268.2,609.9a5.5,5.5 0 1,0 11.0,0a5.5,5.5 0 1,0 -11.0,0M1268.1,688.9a5.5,5.5 0 1,0 11.0,0a5.5,5.5 0 1,0 -11.0,0M1256.1,638.5a5.5,5.5 0 1,0 11.0,0a5.5,5.5 0 1,0 -11.0,0M1250.3,689.8a5.5,5.5 0 1,0 11.0,0a5.5,5.5 0 1,0 -11.0,0M1269.7,576.0a5.5,5.5 0 1,0 11.0,0a5.5,5.5 0 1,0 -11.0,0M1255.0,605.1a5.5,5.5 0 1,0 11.0,0a5.5,5.5 0 1,0 -11.0,0M1267.9,581.1a5.5,5.5 0 1,0 11.0,0a5.5,5.5 0 1,0 -11.0,0M1253.1,621.0a5.5,5.5 0 1,0 11.0,0a5.5,5.5 0 1,0 -11.0,0M1248.3,607.4a5.5,5.5 0 1,0 11.0,0a5.5,5.5 0 1,0 -11.0,0M1269.6,621.2a5.5,5.5 0 1,0 11.0,0a5.5,5.5 0 1,0 -11.0,0M1262.0,571.4a5.5,5.5 0 1,0 11.0,0a5.5,5.5 0 1,0 -11.0,0M1254.4,631.2a5.5,5.5 0 1,0 11.0,0a5.5,5.5 0 1,0 -11.0,0M1253.4,562.5a5.5,5.5 0 1,0 11.0,0a5.5,5.5 0 1,0 -11.0,0M1261.4,628.6a5.5,5.5 0 1,0 11.0,0a5.5,5.5 0 1,0 -11.0,0M1255.3,643.3a5.5,5.5 0 1,0 11.0,0a5.5,5.5 0 1,0 -11.0,0M1269.8,600.2a5.5,5.5 0 1,0 11.0,0a5.5,5.5 0 1,0 -11.0,0M1251.8,655.0a5.5,5.5 0 1,0 11.0,0a5.5,5.5 0 1,0 -11.0,0M1262.0,695.7a5.5,5.5 0 1,0 11.0,0a5.5,5.5 0 1,0 -11.0,0M1245.2,591.8a5.5,5.5 0 1,0 11.0,0a5.5,5.5 0 1,0 -11.0,0M1267.2,694.5a5.5,5.5 0 1,0 11.0,0a5.5,5.5 0 1,0 -11.0,0M1257.7,672.8a5.5,5.5 0 1,0 11.0,0a5.5,5.5 0 1,0 -11.0,0M1243.1,645.8a5.5,5.5 0 1,0 11.0,0a5.5,5.5 0 1,0 -11.0,0M1252.0,655.6a5.5,5.5 0 1,0 11.0,0a5.5,5.5 0 1,0 -11.0,0M1249.6,661.1a5.5,5.5 0 1,0 11.0,0a5.5,5.5 0 1,0 -11.0,0M1268.1,695.6a5.5,5.5 0 1,0 11.0,0a5.5,5.5 0 1,0 -11.0,0M1268.3,618.3a5.5,5.5 0 1,0 11.0,0a5.5,5.5 0 1,0 -11.0,0M1256.7,534.8a5.5,5.5 0 1,0 11.0,0a5.5,5.5 0 1,0 -11.0,0M1247.9,665.6a5.5,5.5 0 1,0 11.0,0a5.5,5.5 0 1,0 -11.0,0M1257.4,689.9a5.5,5.5 0 1,0 11.0,0a5.5,5.5 0 1,0 -11.0,0M1272.1,626.5a5.5,5.5 0 1,0 11.0,0a5.5,5.5 0 1,0 -11.0,0M1254.9,626.5a5.5,5.5 0 1,0 11.0,0a5.5,5.5 0 1,0 -11.0,0M1240.9,688.0a5.5,5.5 0 1,0 11.0,0a5.5,5.5 0 1,0 -11.0,0M1244.8,635.0a5.5,5.5 0 1,0 11.0,0a5.5,5.5 0 1,0 -11.0,0M1249.7,598.8a5.5,5.5 0 1,0 11.0,0a5.5,5.5 0 1,0 -11.0,0M1257.6,582.0a5.5,5.5 0 1,0 11.0,0a5.5,5.5 0 1,0 -11.0,0M1245.6,650.8a5.5,5.5 0 1,0 11.0,0a5.5,5.5 0 1,0 -11.0,0M1264.4,543.9a5.5,5.5 0 1,0 11.0,0a5.5,5.5 0 1,0 -11.0,0M1247.7,580.5a5.5,5.5 0 1,0 11.0,0a5.5,5.5 0 1,0 -11.0,0M1253.4,618.6a5.5,5.5 0 1,0 11.0,0a5.5,5.5 0 1,0 -11.0,0M1262.2,643.0a5.5,5.5 0 1,0 11.0,0a5.5,5.5 0 1,0 -11.0,0M1249.1,594.0a5.5,5.5 0 1,0 11.0,0a5.5,5.5 0 1,0 -11.0,0M1256.7,690.9a5.5,5.5 0 1,0 11.0,0a5.5,5.5 0 1,0 -11.0,0M1270.8,616.7a5.5,5.5 0 1,0 11.0,0a5.5,5.5 0 1,0 -11.0,0M1241.5,594.4a5.5,5.5 0 1,0 11.0,0a5.5,5.5 0 1,0 -11.0,0M1254.5,645.7a5.5,5.5 0 1,0 11.0,0a5.5,5.5 0 1,0 -11.0,0M1240.3,647.3a5.5,5.5 0 1,0 11.0,0a5.5,5.5 0 1,0 -11.0,0M1266.9,549.8a5.5,5.5 0 1,0 11.0,0a5.5,5.5 0 1,0 -11.0,0M1255.6,685.2a5.5,5.5 0 1,0 11.0,0a5.5,5.5 0 1,0 -11.0,0M1249.3,625.8a5.5,5.5 0 1,0 11.0,0a5.5,5.5 0 1,0 -11.0,0M1252.7,629.9a5.5,5.5 0 1,0 11.0,0a5.5,5.5 0 1,0 -11.0,0M1254.5,591.9a5.5,5.5 0 1,0 11.0,0a5.5,5.5 0 1,0 -11.0,0M1257.7,595.8a5.5,5.5 0 1,0 11.0,0a5.5,5.5 0 1,0 -11.0,0M1266.7,561.4a5.5,5.5 0 1,0 11.0,0a5.5,5.5 0 1,0 -11.0,0M1260.9,578.4a5.5,5.5 0 1,0 11.0,0a5.5,5.5 0 1,0 -11.0,0M1252.5,629.6a5.5,5.5 0 1,0 11.0,0a5.5,5.5 0 1,0 -11.0,0M1272.8,632.5a5.5,5.5 0 1,0 11.0,0a5.5,5.5 0 1,0 -11.0,0M1264.1,554.7a5.5,5.5 0 1,0 11.0,0a5.5,5.5 0 1,0 -11.0,0M1273.1,645.9a5.5,5.5 0 1,0 11.0,0a5.5,5.5 0 1,0 -11.0,0M1265.4,584.6a5.5,5.5 0 1,0 11.0,0a5.5,5.5 0 1,0 -11.0,0M1270.2,625.3a5.5,5.5 0 1,0 11.0,0a5.5,5.5 0 1,0 -11.0,0M1251.7,710.0a5.5,5.5 0 1,0 11.0,0a5.5,5.5 0 1,0 -11.0,0M1270.6,652.9a5.5,5.5 0 1,0 11.0,0a5.5,5.5 0 1,0 -11.0,0M1273.5,656.1a5.5,5.5 0 1,0 11.0,0a5.5,5.5 0 1,0 -11.0,0M1254.3,703.4a5.5,5.5 0 1,0 11.0,0a5.5,5.5 0 1,0 -11.0,0M1256.3,620.5a5.5,5.5 0 1,0 11.0,0a5.5,5.5 0 1,0 -11.0,0M1240.5,691.3a5.5,5.5 0 1,0 11.0,0a5.5,5.5 0 1,0 -11.0,0M1273.1,637.6a5.5,5.5 0 1,0 11.0,0a5.5,5.5 0 1,0 -11.0,0M1257.6,675.7a5.5,5.5 0 1,0 11.0,0a5.5,5.5 0 1,0 -11.0,0M1248.8,640.0a5.5,5.5 0 1,0 11.0,0a5.5,5.5 0 1,0 -11.0,0M1253.0,639.9a5.5,5.5 0 1,0 11.0,0a5.5,5.5 0 1,0 -11.0,0M1256.6,534.7a5.5,5.5 0 1,0 11.0,0a5.5,5.5 0 1,0 -11.0,0M1251.7,615.5a5.5,5.5 0 1,0 11.0,0a5.5,5.5 0 1,0 -11.0,0M1262.2,569.7a5.5,5.5 0 1,0 11.0,0a5.5,5.5 0 1,0 -11.0,0M1265.2,645.7a5.5,5.5 0 1,0 11.0,0a5.5,5.5 0 1,0 -11.0,0M1239.9,676.3a5.5,5.5 0 1,0 11.0,0a5.5,5.5 0 1,0 -11.0,0M1249.8,665.0a5.5,5.5 0 1,0 11.0,0a5.5,5.5 0 1,0 -11.0,0M1272.4,674.3a5.5,5.5 0 1,0 11.0,0a5.5,5.5 0 1,0 -11.0,0M1239.7,636.1a5.5,5.5 0 1,0 11.0,0a5.5,5.5 0 1,0 -11.0,0M1273.9,644.5a5.5,5.5 0 1,0 11.0,0a5.5,5.5 0 1,0 -11.0,0M1263.5,606.8a5.5,5.5 0 1,0 11.0,0a5.5,5.5 0 1,0 -11.0,0M1272.7,626.5a5.5,5.5 0 1,0 11.0,0a5.5,5.5 0 1,0 -11.0,0M1252.9,619.6a5.5,5.5 0 1,0 11.0,0a5.5,5.5 0 1,0 -11.0,0M1257.9,563.3a5.5,5.5 0 1,0 11.0,0a5.5,5.5 0 1,0 -11.0,0M1266.4,681.3a5.5,5.5 0 1,0 11.0,0a5.5,5.5 0 1,0 -11.0,0M1255.1,668.9a5.5,5.5 0 1,0 11.0,0a5.5,5.5 0 1,0 -11.0,0M1244.0,621.3a5.5,5.5 0 1,0 11.0,0a5.5,5.5 0 1,0 -11.0,0M1266.8,626.6a5.5,5.5 0 1,0 11.0,0a5.5,5.5 0 1,0 -11.0,0M1267.7,559.5a5.5,5.5 0 1,0 11.0,0a5.5,5.5 0 1,0 -11.0,0M1263.4,624.8a5.5,5.5 0 1,0 11.0,0a5.5,5.5 0 1,0 -11.0,0M1268.5,549.6a5.5,5.5 0 1,0 11.0,0a5.5,5.5 0 1,0 -11.0,0M1268.4,598.2a5.5,5.5 0 1,0 11.0,0a5.5,5.5 0 1,0 -11.0,0M1267.6,656.5a5.5,5.5 0 1,0 11.0,0a5.5,5.5 0 1,0 -11.0,0M1255.2,701.9a5.5,5.5 0 1,0 11.0,0a5.5,5.5 0 1,0 -11.0,0M1256.5,614.3a5.5,5.5 0 1,0 11.0,0a5.5,5.5 0 1,0 -11.0,0M1268.2,556.8a5.5,5.5 0 1,0 11.0,0a5.5,5.5 0 1,0 -11.0,0M1243.7,636.8a5.5,5.5 0 1,0 11.0,0a5.5,5.5 0 1,0 -11.0,0M1248.4,609.4a5.5,5.5 0 1,0 11.0,0a5.5,5.5 0 1,0 -11.0,0M1246.8,661.2a5.5,5.5 0 1,0 11.0,0a5.5,5.5 0 1,0 -11.0,0M1269.1,654.3a5.5,5.5 0 1,0 11.0,0a5.5,5.5 0 1,0 -11.0,0M1262.6,544.0a5.5,5.5 0 1,0 11.0,0a5.5,5.5 0 1,0 -11.0,0M1268.2,628.9a5.5,5.5 0 1,0 11.0,0a5.5,5.5 0 1,0 -11.0,0M1277.4,678.3a5.5,5.5 0 1,0 11.0,0a5.5,5.5 0 1,0 -11.0,0M1265.7,680.0a5.5,5.5 0 1,0 11.0,0a5.5,5.5 0 1,0 -11.0,0M1259.4,582.2a5.5,5.5 0 1,0 11.0,0a5.5,5.5 0 1,0 -11.0,0M1241.2,657.4a5.5,5.5 0 1,0 11.0,0a5.5,5.5 0 1,0 -11.0,0M1266.1,644.5a5.5,5.5 0 1,0 11.0,0a5.5,5.5 0 1,0 -11.0,0M1259.6,612.2a5.5,5.5 0 1,0 11.0,0a5.5,5.5 0 1,0 -11.0,0M1244.4,702.6a5.5,5.5 0 1,0 11.0,0a5.5,5.5 0 1,0 -11.0,0M1270.1,692.6a5.5,5.5 0 1,0 11.0,0a5.5,5.5 0 1,0 -11.0,0M1245.0,619.0a5.5,5.5 0 1,0 11.0,0a5.5,5.5 0 1,0 -11.0,0M1258.7,599.8a5.5,5.5 0 1,0 11.0,0a5.5,5.5 0 1,0 -11.0,0M1250.2,680.5a5.5,5.5 0 1,0 11.0,0a5.5,5.5 0 1,0 -11.0,0M1248.2,661.3a5.5,5.5 0 1,0 11.0,0a5.5,5.5 0 1,0 -11.0,0M1249.8,603.8a5.5,5.5 0 1,0 11.0,0a5.5,5.5 0 1,0 -11.0,0M1257.8,574.1a5.5,5.5 0 1,0 11.0,0a5.5,5.5 0 1,0 -11.0,0M1272.8,700.7a5.5,5.5 0 1,0 11.0,0a5.5,5.5 0 1,0 -11.0,0M1239.7,609.4a5.5,5.5 0 1,0 11.0,0a5.5,5.5 0 1,0 -11.0,0M1269.3,628.9a5.5,5.5 0 1,0 11.0,0a5.5,5.5 0 1,0 -11.0,0M1278.6,709.2a5.5,5.5 0 1,0 11.0,0a5.5,5.5 0 1,0 -11.0,0M1266.8,576.8a5.5,5.5 0 1,0 11.0,0a5.5,5.5 0 1,0 -11.0,0M1254.6,666.1a5.5,5.5 0 1,0 11.0,0a5.5,5.5 0 1,0 -11.0,0M1260.7,692.5a5.5,5.5 0 1,0 11.0,0a5.5,5.5 0 1,0 -11.0,0M1265.2,549.3a5.5,5.5 0 1,0 11.0,0a5.5,5.5 0 1,0 -11.0,0M1256.2,571.0a5.5,5.5 0 1,0 11.0,0a5.5,5.5 0 1,0 -11.0,0M1256.7,689.2a5.5,5.5 0 1,0 11.0,0a5.5,5.5 0 1,0 -11.0,0M1250.7,611.0a5.5,5.5 0 1,0 11.0,0a5.5,5.5 0 1,0 -11.0,0M1260.8,647.4a5.5,5.5 0 1,0 11.0,0a5.5,5.5 0 1,0 -11.0,0M1252.2,643.9a5.5,5.5 0 1,0 11.0,0a5.5,5.5 0 1,0 -11.0,0M1255.7,680.7a5.5,5.5 0 1,0 11.0,0a5.5,5.5 0 1,0 -11.0,0M1261.5,661.7a5.5,5.5 0 1,0 11.0,0a5.5,5.5 0 1,0 -11.0,0M1262.2,656.3a5.5,5.5 0 1,0 11.0,0a5.5,5.5 0 1,0 -11.0,0M1254.5,556.2a5.5,5.5 0 1,0 11.0,0a5.5,5.5 0 1,0 -11.0,0M1253.4,588.5a5.5,5.5 0 1,0 11.0,0a5.5,5.5 0 1,0 -11.0,0M1239.3,669.4a5.5,5.5 0 1,0 11.0,0a5.5,5.5 0 1,0 -11.0,0M1260.1,616.7a5.5,5.5 0 1,0 11.0,0a5.5,5.5 0 1,0 -11.0,0M1243.8,659.9a5.5,5.5 0 1,0 11.0,0a5.5,5.5 0 1,0 -11.0,0M1240.3,687.6a5.5,5.5 0 1,0 11.0,0a5.5,5.5 0 1,0 -11.0,0M1259.4,705.5a5.5,5.5 0 1,0 11.0,0a5.5,5.5 0 1,0 -11.0,0M1252.6,608.3a5.5,5.5 0 1,0 11.0,0a5.5,5.5 0 1,0 -11.0,0M1270.5,613.4a5.5,5.5 0 1,0 11.0,0a5.5,5.5 0 1,0 -11.0,0M1268.4,709.9a5.5,5.5 0 1,0 11.0,0a5.5,5.5 0 1,0 -11.0,0M1269.6,622.8a5.5,5.5 0 1,0 11.0,0a5.5,5.5 0 1,0 -11.0,0M1269.3,619.3a5.5,5.5 0 1,0 11.0,0a5.5,5.5 0 1,0 -11.0,0M1262.5,605.8a5.5,5.5 0 1,0 11.0,0a5.5,5.5 0 1,0 -11.0,0M1277.5,709.2a5.5,5.5 0 1,0 11.0,0a5.5,5.5 0 1,0 -11.0,0M1262.0,631.0a5.5,5.5 0 1,0 11.0,0a5.5,5.5 0 1,0 -11.0,0M1242.9,632.3a5.5,5.5 0 1,0 11.0,0a5.5,5.5 0 1,0 -11.0,0M1268.1,580.6a5.5,5.5 0 1,0 11.0,0a5.5,5.5 0 1,0 -11.0,0M1263.1,670.5a5.5,5.5 0 1,0 11.0,0a5.5,5.5 0 1,0 -11.0,0M1240.0,682.4a5.5,5.5 0 1,0 11.0,0a5.5,5.5 0 1,0 -11.0,0M1260.1,573.7a5.5,5.5 0 1,0 11.0,0a5.5,5.5 0 1,0 -11.0,0M1251.1,630.3a5.5,5.5 0 1,0 11.0,0a5.5,5.5 0 1,0 -11.0,0M1269.3,561.7a5.5,5.5 0 1,0 11.0,0a5.5,5.5 0 1,0 -11.0,0M1264.8,602.7a5.5,5.5 0 1,0 11.0,0a5.5,5.5 0 1,0 -11.0,0M1270.2,661.7a5.5,5.5 0 1,0 11.0,0a5.5,5.5 0 1,0 -11.0,0M1253.6,636.7a5.5,5.5 0 1,0 11.0,0a5.5,5.5 0 1,0 -11.0,0M1244.6,640.3a5.5,5.5 0 1,0 11.0,0a5.5,5.5 0 1,0 -11.0,0M1265.3,572.3a5.5,5.5 0 1,0 11.0,0a5.5,5.5 0 1,0 -11.0,0M1266.1,554.5a5.5,5.5 0 1,0 11.0,0a5.5,5.5 0 1,0 -11.0,0M1247.4,662.7a5.5,5.5 0 1,0 11.0,0a5.5,5.5 0 1,0 -11.0,0M1263.9,598.2a5.5,5.5 0 1,0 11.0,0a5.5,5.5 0 1,0 -11.0,0M1267.2,667.8a5.5,5.5 0 1,0 11.0,0a5.5,5.5 0 1,0 -11.0,0M1266.7,569.0a5.5,5.5 0 1,0 11.0,0a5.5,5.5 0 1,0 -11.0,0M1278.8,695.0a5.5,5.5 0 1,0 11.0,0a5.5,5.5 0 1,0 -11.0,0M1256.3,698.1a5.5,5.5 0 1,0 11.0,0a5.5,5.5 0 1,0 -11.0,0M1258.6,555.5a5.5,5.5 0 1,0 11.0,0a5.5,5.5 0 1,0 -11.0,0M1248.3,662.7a5.5,5.5 0 1,0 11.0,0a5.5,5.5 0 1,0 -11.0,0M1239.5,640.8a5.5,5.5 0 1,0 11.0,0a5.5,5.5 0 1,0 -11.0,0M1255.2,658.6a5.5,5.5 0 1,0 11.0,0a5.5,5.5 0 1,0 -11.0,0M1249.2,616.4a5.5,5.5 0 1,0 11.0,0a5.5,5.5 0 1,0 -11.0,0M1250.6,699.6a5.5,5.5 0 1,0 11.0,0a5.5,5.5 0 1,0 -11.0,0M1253.7,627.8a5.5,5.5 0 1,0 11.0,0a5.5,5.5 0 1,0 -11.0,0M1244.4,604.3a5.5,5.5 0 1,0 11.0,0a5.5,5.5 0 1,0 -11.0,0M1275.0,679.5a5.5,5.5 0 1,0 11.0,0a5.5,5.5 0 1,0 -11.0,0M1272.5,695.9a5.5,5.5 0 1,0 11.0,0a5.5,5.5 0 1,0 -11.0,0M1244.0,647.8a5.5,5.5 0 1,0 11.0,0a5.5,5.5 0 1,0 -11.0,0M1261.0,596.5a5.5,5.5 0 1,0 11.0,0a5.5,5.5 0 1,0 -11.0,0M1268.1,569.3a5.5,5.5 0 1,0 11.0,0a5.5,5.5 0 1,0 -11.0,0M1263.6,605.3a5.5,5.5 0 1,0 11.0,0a5.5,5.5 0 1,0 -11.0,0M1244.3,670.6a5.5,5.5 0 1,0 11.0,0a5.5,5.5 0 1,0 -11.0,0M1246.2,675.1a5.5,5.5 0 1,0 11.0,0a5.5,5.5 0 1,0 -11.0,0M1270.1,608.8a5.5,5.5 0 1,0 11.0,0a5.5,5.5 0 1,0 -11.0,0M1257.1,566.6a5.5,5.5 0 1,0 11.0,0a5.5,5.5 0 1,0 -11.0,0M1244.3,656.1a5.5,5.5 0 1,0 11.0,0a5.5,5.5 0 1,0 -11.0,0M1253.7,631.8a5.5,5.5 0 1,0 11.0,0a5.5,5.5 0 1,0 -11.0,0M1253.6,577.7a5.5,5.5 0 1,0 11.0,0a5.5,5.5 0 1,0 -11.0,0M1245.3,668.2a5.5,5.5 0 1,0 11.0,0a5.5,5.5 0 1,0 -11.0,0M1256.2,557.0a5.5,5.5 0 1,0 11.0,0a5.5,5.5 0 1,0 -11.0,0M1261.6,671.0a5.5,5.5 0 1,0 11.0,0a5.5,5.5 0 1,0 -11.0,0M1240.0,697.8a5.5,5.5 0 1,0 11.0,0a5.5,5.5 0 1,0 -11.0,0M1267.6,680.7a5.5,5.5 0 1,0 11.0,0a5.5,5.5 0 1,0 -11.0,0M1255.8,608.8a5.5,5.5 0 1,0 11.0,0a5.5,5.5 0 1,0 -11.0,0M1276.1,681.1a5.5,5.5 0 1,0 11.0,0a5.5,5.5 0 1,0 -11.0,0M1255.8,681.2a5.5,5.5 0 1,0 11.0,0a5.5,5.5 0 1,0 -11.0,0M1239.5,626.4a5.5,5.5 0 1,0 11.0,0a5.5,5.5 0 1,0 -11.0,0M1261.2,567.8a5.5,5.5 0 1,0 11.0,0a5.5,5.5 0 1,0 -11.0,0M1249.2,644.6a5.5,5.5 0 1,0 11.0,0a5.5,5.5 0 1,0 -11.0,0M1245.7,672.5a5.5,5.5 0 1,0 11.0,0a5.5,5.5 0 1,0 -11.0,0M1244.0,633.2a5.5,5.5 0 1,0 11.0,0a5.5,5.5 0 1,0 -11.0,0M1267.9,631.2a5.5,5.5 0 1,0 11.0,0a5.5,5.5 0 1,0 -11.0,0M1268.6,696.3a5.5,5.5 0 1,0 11.0,0a5.5,5.5 0 1,0 -11.0,0M1252.9,635.9a5.5,5.5 0 1,0 11.0,0a5.5,5.5 0 1,0 -11.0,0M1247.6,614.0a5.5,5.5 0 1,0 11.0,0a5.5,5.5 0 1,0 -11.0,0M1262.5,584.8a5.5,5.5 0 1,0 11.0,0a5.5,5.5 0 1,0 -11.0,0M1263.5,628.0a5.5,5.5 0 1,0 11.0,0a5.5,5.5 0 1,0 -11.0,0M1255.4,556.1a5.5,5.5 0 1,0 11.0,0a5.5,5.5 0 1,0 -11.0,0M1261.0,637.3a5.5,5.5 0 1,0 11.0,0a5.5,5.5 0 1,0 -11.0,0M1264.4,690.6a5.5,5.5 0 1,0 11.0,0a5.5,5.5 0 1,0 -11.0,0M1263.7,669.8a5.5,5.5 0 1,0 11.0,0a5.5,5.5 0 1,0 -11.0,0M1243.4,688.3a5.5,5.5 0 1,0 11.0,0a5.5,5.5 0 1,0 -11.0,0M1272.9,629.5a5.5,5.5 0 1,0 11.0,0a5.5,5.5 0 1,0 -11.0,0M1256.3,558.4a5.5,5.5 0 1,0 11.0,0a5.5,5.5 0 1,0 -11.0,0M1258.3,659.2a5.5,5.5 0 1,0 11.0,0a5.5,5.5 0 1,0 -11.0,0M1271.5,692.1a5.5,5.5 0 1,0 11.0,0a5.5,5.5 0 1,0 -11.0,0M1259.8,701.5a5.5,5.5 0 1,0 11.0,0a5.5,5.5 0 1,0 -11.0,0M1255.9,627.8a5.5,5.5 0 1,0 11.0,0a5.5,5.5 0 1,0 -11.0,0M1239.7,660.9a5.5,5.5 0 1,0 11.0,0a5.5,5.5 0 1,0 -11.0,0M1246.4,684.5a5.5,5.5 0 1,0 11.0,0a5.5,5.5 0 1,0 -11.0,0M1261.9,554.0a5.5,5.5 0 1,0 11.0,0a5.5,5.5 0 1,0 -11.0,0M1260.0,670.0a5.5,5.5 0 1,0 11.0,0a5.5,5.5 0 1,0 -11.0,0M1247.7,703.4a5.5,5.5 0 1,0 11.0,0a5.5,5.5 0 1,0 -11.0,0M1263.1,652.5a5.5,5.5 0 1,0 11.0,0a5.5,5.5 0 1,0 -11.0,0M1263.4,697.5a5.5,5.5 0 1,0 11.0,0a5.5,5.5 0 1,0 -11.0,0M1260.7,593.3a5.5,5.5 0 1,0 11.0,0a5.5,5.5 0 1,0 -11.0,0M1254.7,601.3a5.5,5.5 0 1,0 11.0,0a5.5,5.5 0 1,0 -11.0,0M1267.2,632.6a5.5,5.5 0 1,0 11.0,0a5.5,5.5 0 1,0 -11.0,0M1250.2,695.4a5.5,5.5 0 1,0 11.0,0a5.5,5.5 0 1,0 -11.0,0M1249.0,584.0a5.5,5.5 0 1,0 11.0,0a5.5,5.5 0 1,0 -11.0,0M1246.5,657.0a5.5,5.5 0 1,0 11.0,0a5.5,5.5 0 1,0 -11.0,0M1267.3,595.8a5.5,5.5 0 1,0 11.0,0a5.5,5.5 0 1,0 -11.0,0M1243.5,637.7a5.5,5.5 0 1,0 11.0,0a5.5,5.5 0 1,0 -11.0,0M1252.3,629.6a5.5,5.5 0 1,0 11.0,0a5.5,5.5 0 1,0 -11.0,0M1240.5,678.5a5.5,5.5 0 1,0 11.0,0a5.5,5.5 0 1,0 -11.0,0M1247.7,606.9a5.5,5.5 0 1,0 11.0,0a5.5,5.5 0 1,0 -11.0,0M1263.4,706.3a5.5,5.5 0 1,0 11.0,0a5.5,5.5 0 1,0 -11.0,0M1268.5,695.8a5.5,5.5 0 1,0 11.0,0a5.5,5.5 0 1,0 -11.0,0M1252.9,703.3a5.5,5.5 0 1,0 11.0,0a5.5,5.5 0 1,0 -11.0,0M1270.6,696.5a5.5,5.5 0 1,0 11.0,0a5.5,5.5 0 1,0 -11.0,0M1247.3,600.6a5.5,5.5 0 1,0 11.0,0a5.5,5.5 0 1,0 -11.0,0M1270.5,633.8a5.5,5.5 0 1,0 11.0,0a5.5,5.5 0 1,0 -11.0,0M1256.9,559.7a5.5,5.5 0 1,0 11.0,0a5.5,5.5 0 1,0 -11.0,0M1249.8,688.7a5.5,5.5 0 1,0 11.0,0a5.5,5.5 0 1,0 -11.0,0M1249.3,692.6a5.5,5.5 0 1,0 11.0,0a5.5,5.5 0 1,0 -11.0,0M1271.9,633.2a5.5,5.5 0 1,0 11.0,0a5.5,5.5 0 1,0 -11.0,0M1243.5,680.2a5.5,5.5 0 1,0 11.0,0a5.5,5.5 0 1,0 -11.0,0M1278.5,704.6a5.5,5.5 0 1,0 11.0,0a5.5,5.5 0 1,0 -11.0,0M1250.0,700.0a5.5,5.5 0 1,0 11.0,0a5.5,5.5 0 1,0 -11.0,0M1256.5,596.3a5.5,5.5 0 1,0 11.0,0a5.5,5.5 0 1,0 -11.0,0M1276.4,678.6a5.5,5.5 0 1,0 11.0,0a5.5,5.5 0 1,0 -11.0,0M1266.6,581.3a5.5,5.5 0 1,0 11.0,0a5.5,5.5 0 1,0 -11.0,0M1262.1,586.6a5.5,5.5 0 1,0 11.0,0a5.5,5.5 0 1,0 -11.0,0M1247.4,689.1a5.5,5.5 0 1,0 11.0,0a5.5,5.5 0 1,0 -11.0,0M1239.9,630.8a5.5,5.5 0 1,0 11.0,0a5.5,5.5 0 1,0 -11.0,0M1239.7,614.8a5.5,5.5 0 1,0 11.0,0a5.5,5.5 0 1,0 -11.0,0M1264.1,627.6a5.5,5.5 0 1,0 11.0,0a5.5,5.5 0 1,0 -11.0,0M1247.4,682.1a5.5,5.5 0 1,0 11.0,0a5.5,5.5 0 1,0 -11.0,0M1277.4,706.3a5.5,5.5 0 1,0 11.0,0a5.5,5.5 0 1,0 -11.0,0M1253.6,628.3a5.5,5.5 0 1,0 11.0,0a5.5,5.5 0 1,0 -11.0,0M1255.4,672.6a5.5,5.5 0 1,0 11.0,0a5.5,5.5 0 1,0 -11.0,0M1257.0,628.4a5.5,5.5 0 1,0 11.0,0a5.5,5.5 0 1,0 -11.0,0M1259.9,638.5a5.5,5.5 0 1,0 11.0,0a5.5,5.5 0 1,0 -11.0,0M1263.6,702.8a5.5,5.5 0 1,0 11.0,0a5.5,5.5 0 1,0 -11.0,0M1252.4,647.7a5.5,5.5 0 1,0 11.0,0a5.5,5.5 0 1,0 -11.0,0M1268.8,653.2a5.5,5.5 0 1,0 11.0,0a5.5,5.5 0 1,0 -11.0,0M1266.5,599.3a5.5,5.5 0 1,0 11.0,0a5.5,5.5 0 1,0 -11.0,0M1268.2,593.3a5.5,5.5 0 1,0 11.0,0a5.5,5.5 0 1,0 -11.0,0M1261.3,560.2a5.5,5.5 0 1,0 11.0,0a5.5,5.5 0 1,0 -11.0,0M1250.1,583.4a5.5,5.5 0 1,0 11.0,0a5.5,5.5 0 1,0 -11.0,0M1253.7,605.1a5.5,5.5 0 1,0 11.0,0a5.5,5.5 0 1,0 -11.0,0M1261.2,602.2a5.5,5.5 0 1,0 11.0,0a5.5,5.5 0 1,0 -11.0,0M1261.1,677.6a5.5,5.5 0 1,0 11.0,0a5.5,5.5 0 1,0 -11.0,0M1260.0,622.6a5.5,5.5 0 1,0 11.0,0a5.5,5.5 0 1,0 -11.0,0M1255.5,633.7a5.5,5.5 0 1,0 11.0,0a5.5,5.5 0 1,0 -11.0,0M1243.3,667.0a5.5,5.5 0 1,0 11.0,0a5.5,5.5 0 1,0 -11.0,0M1257.0,642.9a5.5,5.5 0 1,0 11.0,0a5.5,5.5 0 1,0 -11.0,0M1256.1,674.0a5.5,5.5 0 1,0 11.0,0a5.5,5.5 0 1,0 -11.0,0M1266.7,551.2a5.5,5.5 0 1,0 11.0,0a5.5,5.5 0 1,0 -11.0,0M1261.1,577.5a5.5,5.5 0 1,0 11.0,0a5.5,5.5 0 1,0 -11.0,0M1269.5,596.8a5.5,5.5 0 1,0 11.0,0a5.5,5.5 0 1,0 -11.0,0M1248.9,698.9a5.5,5.5 0 1,0 11.0,0a5.5,5.5 0 1,0 -11.0,0M1240.8,604.0a5.5,5.5 0 1,0 11.0,0a5.5,5.5 0 1,0 -11.0,0M1256.2,653.2a5.5,5.5 0 1,0 11.0,0a5.5,5.5 0 1,0 -11.0,0M1271.0,706.8a5.5,5.5 0 1,0 11.0,0a5.5,5.5 0 1,0 -11.0,0M1249.6,642.3a5.5,5.5 0 1,0 11.0,0a5.5,5.5 0 1,0 -11.0,0M1249.5,691.3a5.5,5.5 0 1,0 11.0,0a5.5,5.5 0 1,0 -11.0,0M1262.8,602.0a5.5,5.5 0 1,0 11.0,0a5.5,5.5 0 1,0 -11.0,0M1247.5,641.5a5.5,5.5 0 1,0 11.0,0a5.5,5.5 0 1,0 -11.0,0M1241.0,620.8a5.5,5.5 0 1,0 11.0,0a5.5,5.5 0 1,0 -11.0,0M1250.3,604.6a5.5,5.5 0 1,0 11.0,0a5.5,5.5 0 1,0 -11.0,0M1263.7,663.3a5.5,5.5 0 1,0 11.0,0a5.5,5.5 0 1,0 -11.0,0M1266.6,608.3a5.5,5.5 0 1,0 11.0,0a5.5,5.5 0 1,0 -11.0,0M1252.4,643.4a5.5,5.5 0 1,0 11.0,0a5.5,5.5 0 1,0 -11.0,0M1257.4,698.6a5.5,5.5 0 1,0 11.0,0a5.5,5.5 0 1,0 -11.0,0M1260.3,635.9a5.5,5.5 0 1,0 11.0,0a5.5,5.5 0 1,0 -11.0,0M1266.1,617.1a5.5,5.5 0 1,0 11.0,0a5.5,5.5 0 1,0 -11.0,0M1258.7,650.2a5.5,5.5 0 1,0 11.0,0a5.5,5.5 0 1,0 -11.0,0M1263.3,711.2a5.5,5.5 0 1,0 11.0,0a5.5,5.5 0 1,0 -11.0,0M1251.0,619.3a5.5,5.5 0 1,0 11.0,0a5.5,5.5 0 1,0 -11.0,0M1261.4,584.7a5.5,5.5 0 1,0 11.0,0a5.5,5.5 0 1,0 -11.0,0M1245.9,605.0a5.5,5.5 0 1,0 11.0,0a5.5,5.5 0 1,0 -11.0,0M1256.0,608.0a5.5,5.5 0 1,0 11.0,0a5.5,5.5 0 1,0 -11.0,0M1249.0,616.8a5.5,5.5 0 1,0 11.0,0a5.5,5.5 0 1,0 -11.0,0M1262.2,547.8a5.5,5.5 0 1,0 11.0,0a5.5,5.5 0 1,0 -11.0,0M1265.8,658.6a5.5,5.5 0 1,0 11.0,0a5.5,5.5 0 1,0 -11.0,0M1240.2,615.2a5.5,5.5 0 1,0 11.0,0a5.5,5.5 0 1,0 -11.0,0M1266.5,604.3a5.5,5.5 0 1,0 11.0,0a5.5,5.5 0 1,0 -11.0,0M1262.8,639.5a5.5,5.5 0 1,0 11.0,0a5.5,5.5 0 1,0 -11.0,0M1259.4,697.8a5.5,5.5 0 1,0 11.0,0a5.5,5.5 0 1,0 -11.0,0M1267.8,610.4a5.5,5.5 0 1,0 11.0,0a5.5,5.5 0 1,0 -11.0,0M1265.3,668.6a5.5,5.5 0 1,0 11.0,0a5.5,5.5 0 1,0 -11.0,0M1249.9,658.1a5.5,5.5 0 1,0 11.0,0a5.5,5.5 0 1,0 -11.0,0M1270.5,602.2a5.5,5.5 0 1,0 11.0,0a5.5,5.5 0 1,0 -11.0,0M1275.6,657.8a5.5,5.5 0 1,0 11.0,0a5.5,5.5 0 1,0 -11.0,0M1254.7,616.9a5.5,5.5 0 1,0 11.0,0a5.5,5.5 0 1,0 -11.0,0M1239.7,697.2a5.5,5.5 0 1,0 11.0,0a5.5,5.5 0 1,0 -11.0,0M1260.4,577.3a5.5,5.5 0 1,0 11.0,0a5.5,5.5 0 1,0 -11.0,0M1240.0,633.3a5.5,5.5 0 1,0 11.0,0a5.5,5.5 0 1,0 -11.0,0M1274.3,688.4a5.5,5.5 0 1,0 11.0,0a5.5,5.5 0 1,0 -11.0,0M1266.1,539.6a5.5,5.5 0 1,0 11.0,0a5.5,5.5 0 1,0 -11.0,0M1251.3,635.3a5.5,5.5 0 1,0 11.0,0a5.5,5.5 0 1,0 -11.0,0M1255.5,568.8a5.5,5.5 0 1,0 11.0,0a5.5,5.5 0 1,0 -11.0,0M1241.4,687.0a5.5,5.5 0 1,0 11.0,0a5.5,5.5 0 1,0 -11.0,0M1235.1,764.3a5.5,5.5 0 1,0 11.0,0a5.5,5.5 0 1,0 -11.0,0M1236.7,780.1a5.5,5.5 0 1,0 11.0,0a5.5,5.5 0 1,0 -11.0,0M1237.6,727.5a5.5,5.5 0 1,0 11.0,0a5.5,5.5 0 1,0 -11.0,0M1234.3,785.3a5.5,5.5 0 1,0 11.0,0a5.5,5.5 0 1,0 -11.0,0M1233.5,739.6a5.5,5.5 0 1,0 11.0,0a5.5,5.5 0 1,0 -11.0,0M1238.5,785.4a5.5,5.5 0 1,0 11.0,0a5.5,5.5 0 1,0 -11.0,0M1234.0,745.5a5.5,5.5 0 1,0 11.0,0a5.5,5.5 0 1,0 -11.0,0M1237.7,742.8a5.5,5.5 0 1,0 11.0,0a5.5,5.5 0 1,0 -11.0,0M1234.2,735.3a5.5,5.5 0 1,0 11.0,0a5.5,5.5 0 1,0 -11.0,0M1235.5,725.2a5.5,5.5 0 1,0 11.0,0a5.5,5.5 0 1,0 -11.0,0M1239.5,716.2a5.5,5.5 0 1,0 11.0,0a5.5,5.5 0 1,0 -11.0,0M1233.3,774.0a5.5,5.5 0 1,0 11.0,0a5.5,5.5 0 1,0 -11.0,0M1234.0,764.7a5.5,5.5 0 1,0 11.0,0a5.5,5.5 0 1,0 -11.0,0M1235.6,722.9a5.5,5.5 0 1,0 11.0,0a5.5,5.5 0 1,0 -11.0,0M1235.0,737.6a5.5,5.5 0 1,0 11.0,0a5.5,5.5 0 1,0 -11.0,0M1237.2,727.4a5.5,5.5 0 1,0 11.0,0a5.5,5.5 0 1,0 -11.0,0M1235.7,781.5a5.5,5.5 0 1,0 11.0,0a5.5,5.5 0 1,0 -11.0,0M1236.8,745.9a5.5,5.5 0 1,0 11.0,0a5.5,5.5 0 1,0 -11.0,0M1233.7,729.2a5.5,5.5 0 1,0 11.0,0a5.5,5.5 0 1,0 -11.0,0M1235.6,715.3a5.5,5.5 0 1,0 11.0,0a5.5,5.5 0 1,0 -11.0,0M1233.9,763.1a5.5,5.5 0 1,0 11.0,0a5.5,5.5 0 1,0 -11.0,0M1235.2,752.4a5.5,5.5 0 1,0 11.0,0a5.5,5.5 0 1,0 -11.0,0M1235.8,766.2a5.5,5.5 0 1,0 11.0,0a5.5,5.5 0 1,0 -11.0,0M1236.5,767.8a5.5,5.5 0 1,0 11.0,0a5.5,5.5 0 1,0 -11.0,0M1235.9,773.1a5.5,5.5 0 1,0 11.0,0a5.5,5.5 0 1,0 -11.0,0M1233.3,784.3a5.5,5.5 0 1,0 11.0,0a5.5,5.5 0 1,0 -11.0,0M1237.0,769.1a5.5,5.5 0 1,0 11.0,0a5.5,5.5 0 1,0 -11.0,0M1235.4,716.7a5.5,5.5 0 1,0 11.0,0a5.5,5.5 0 1,0 -11.0,0M1235.2,743.5a5.5,5.5 0 1,0 11.0,0a5.5,5.5 0 1,0 -11.0,0M1234.9,763.2a5.5,5.5 0 1,0 11.0,0a5.5,5.5 0 1,0 -11.0,0M1236.1,723.3a5.5,5.5 0 1,0 11.0,0a5.5,5.5 0 1,0 -11.0,0M1232.6,766.5a5.5,5.5 0 1,0 11.0,0a5.5,5.5 0 1,0 -11.0,0M1233.8,765.1a5.5,5.5 0 1,0 11.0,0a5.5,5.5 0 1,0 -11.0,0M1235.3,756.3a5.5,5.5 0 1,0 11.0,0a5.5,5.5 0 1,0 -11.0,0M1237.0,768.2a5.5,5.5 0 1,0 11.0,0a5.5,5.5 0 1,0 -11.0,0M1234.2,763.8a5.5,5.5 0 1,0 11.0,0a5.5,5.5 0 1,0 -11.0,0M1233.6,761.8a5.5,5.5 0 1,0 11.0,0a5.5,5.5 0 1,0 -11.0,0M1234.7,769.5a5.5,5.5 0 1,0 11.0,0a5.5,5.5 0 1,0 -11.0,0M1235.8,713.1a5.5,5.5 0 1,0 11.0,0a5.5,5.5 0 1,0 -11.0,0M1237.1,742.3a5.5,5.5 0 1,0 11.0,0a5.5,5.5 0 1,0 -11.0,0M1235.2,783.0a5.5,5.5 0 1,0 11.0,0a5.5,5.5 0 1,0 -11.0,0M1234.6,767.4a5.5,5.5 0 1,0 11.0,0a5.5,5.5 0 1,0 -11.0,0M1234.7,728.4a5.5,5.5 0 1,0 11.0,0a5.5,5.5 0 1,0 -11.0,0M1234.3,785.1a5.5,5.5 0 1,0 11.0,0a5.5,5.5 0 1,0 -11.0,0M1234.7,779.5a5.5,5.5 0 1,0 11.0,0a5.5,5.5 0 1,0 -11.0,0M1236.1,762.0a5.5,5.5 0 1,0 11.0,0a5.5,5.5 0 1,0 -11.0,0M1233.2,779.7a5.5,5.5 0 1,0 11.0,0a5.5,5.5 0 1,0 -11.0,0M1234.6,728.1a5.5,5.5 0 1,0 11.0,0a5.5,5.5 0 1,0 -11.0,0M1234.4,771.7a5.5,5.5 0 1,0 11.0,0a5.5,5.5 0 1,0 -11.0,0M1235.8,742.0a5.5,5.5 0 1,0 11.0,0a5.5,5.5 0 1,0 -11.0,0M1235.3,765.0a5.5,5.5 0 1,0 11.0,0a5.5,5.5 0 1,0 -11.0,0M1231.7,742.5a5.5,5.5 0 1,0 11.0,0a5.5,5.5 0 1,0 -11.0,0M1232.6,743.6a5.5,5.5 0 1,0 11.0,0a5.5,5.5 0 1,0 -11.0,0M1234.2,767.0a5.5,5.5 0 1,0 11.0,0a5.5,5.5 0 1,0 -11.0,0M1236.4,730.3a5.5,5.5 0 1,0 11.0,0a5.5,5.5 0 1,0 -11.0,0M1236.8,761.6a5.5,5.5 0 1,0 11.0,0a5.5,5.5 0 1,0 -11.0,0M1234.5,723.7a5.5,5.5 0 1,0 11.0,0a5.5,5.5 0 1,0 -11.0,0M1235.8,760.5a5.5,5.5 0 1,0 11.0,0a5.5,5.5 0 1,0 -11.0,0M1236.4,741.3a5.5,5.5 0 1,0 11.0,0a5.5,5.5 0 1,0 -11.0,0M1235.8,758.0a5.5,5.5 0 1,0 11.0,0a5.5,5.5 0 1,0 -11.0,0M1236.7,785.1a5.5,5.5 0 1,0 11.0,0a5.5,5.5 0 1,0 -11.0,0M1235.0,751.2a5.5,5.5 0 1,0 11.0,0a5.5,5.5 0 1,0 -11.0,0M1235.3,737.4a5.5,5.5 0 1,0 11.0,0a5.5,5.5 0 1,0 -11.0,0M1234.9,744.5a5.5,5.5 0 1,0 11.0,0a5.5,5.5 0 1,0 -11.0,0M1235.3,748.5a5.5,5.5 0 1,0 11.0,0a5.5,5.5 0 1,0 -11.0,0M1235.1,749.4a5.5,5.5 0 1,0 11.0,0a5.5,5.5 0 1,0 -11.0,0M1234.9,747.9a5.5,5.5 0 1,0 11.0,0a5.5,5.5 0 1,0 -11.0,0M1235.6,786.6a5.5,5.5 0 1,0 11.0,0a5.5,5.5 0 1,0 -11.0,0M1235.1,753.2a5.5,5.5 0 1,0 11.0,0a5.5,5.5 0 1,0 -11.0,0M1235.0,743.1a5.5,5.5 0 1,0 11.0,0a5.5,5.5 0 1,0 -11.0,0M1236.3,770.8a5.5,5.5 0 1,0 11.0,0a5.5,5.5 0 1,0 -11.0,0M1234.8,754.8a5.5,5.5 0 1,0 11.0,0a5.5,5.5 0 1,0 -11.0,0M1231.5,766.4a5.5,5.5 0 1,0 11.0,0a5.5,5.5 0 1,0 -11.0,0M1236.4,780.1a5.5,5.5 0 1,0 11.0,0a5.5,5.5 0 1,0 -11.0,0M1235.8,719.1a5.5,5.5 0 1,0 11.0,0a5.5,5.5 0 1,0 -11.0,0M1230.7,833.6a5.5,5.5 0 1,0 11.0,0a5.5,5.5 0 1,0 -11.0,0M1238.3,793.1a5.5,5.5 0 1,0 11.0,0a5.5,5.5 0 1,0 -11.0,0M1226.4,821.7a5.5,5.5 0 1,0 11.0,0a5.5,5.5 0 1,0 -11.0,0M1228.8,839.9a5.5,5.5 0 1,0 11.0,0a5.5,5.5 0 1,0 -11.0,0M1230.7,812.4a5.5,5.5 0 1,0 11.0,0a5.5,5.5 0 1,0 -11.0,0M1233.1,803.5a5.5,5.5 0 1,0 11.0,0a5.5,5.5 0 1,0 -11.0,0M1235.3,798.5a5.5,5.5 0 1,0 11.0,0a5.5,5.5 0 1,0 -11.0,0M1231.8,820.6a5.5,5.5 0 1,0 11.0,0a5.5,5.5 0 1,0 -11.0,0M1238.4,796.5a5.5,5.5 0 1,0 11.0,0a5.5,5.5 0 1,0 -11.0,0M1226.1,843.6a5.5,5.5 0 1,0 11.0,0a5.5,5.5 0 1,0 -11.0,0M1231.7,828.5a5.5,5.5 0 1,0 11.0,0a5.5,5.5 0 1,0 -11.0,0M1224.8,830.5a5.5,5.5 0 1,0 11.0,0a5.5,5.5 0 1,0 -11.0,0M1231.0,833.2a5.5,5.5 0 1,0 11.0,0a5.5,5.5 0 1,0 -11.0,0M1232.8,809.3a5.5,5.5 0 1,0 11.0,0a5.5,5.5 0 1,0 -11.0,0M1230.1,839.1a5.5,5.5 0 1,0 11.0,0a5.5,5.5 0 1,0 -11.0,0M1234.3,816.7a5.5,5.5 0 1,0 11.0,0a5.5,5.5 0 1,0 -11.0,0M1228.6,838.7a5.5,5.5 0 1,0 11.0,0a5.5,5.5 0 1,0 -11.0,0M1228.1,836.2a5.5,5.5 0 1,0 11.0,0a5.5,5.5 0 1,0 -11.0,0M1234.4,806.6a5.5,5.5 0 1,0 11.0,0a5.5,5.5 0 1,0 -11.0,0M1229.4,807.2a5.5,5.5 0 1,0 11.0,0a5.5,5.5 0 1,0 -11.0,0M1226.0,840.5a5.5,5.5 0 1,0 11.0,0a5.5,5.5 0 1,0 -11.0,0M1237.0,790.2a5.5,5.5 0 1,0 11.0,0a5.5,5.5 0 1,0 -11.0,0M1230.3,828.1a5.5,5.5 0 1,0 11.0,0a5.5,5.5 0 1,0 -11.0,0M1227.9,842.0a5.5,5.5 0 1,0 11.0,0a5.5,5.5 0 1,0 -11.0,0M1236.2,793.9a5.5,5.5 0 1,0 11.0,0a5.5,5.5 0 1,0 -11.0,0M1229.7,823.0a5.5,5.5 0 1,0 11.0,0a5.5,5.5 0 1,0 -11.0,0M1229.9,822.3a5.5,5.5 0 1,0 11.0,0a5.5,5.5 0 1,0 -11.0,0M1234.6,794.7a5.5,5.5 0 1,0 11.0,0a5.5,5.5 0 1,0 -11.0,0M1227.5,848.0a5.5,5.5 0 1,0 11.0,0a5.5,5.5 0 1,0 -11.0,0M1232.6,800.2a5.5,5.5 0 1,0 11.0,0a5.5,5.5 0 1,0 -11.0,0M1230.5,824.7a5.5,5.5 0 1,0 11.0,0a5.5,5.5 0 1,0 -11.0,0M1224.1,849.7a5.5,5.5 0 1,0 11.0,0a5.5,5.5 0 1,0 -11.0,0M1232.1,812.0a5.5,5.5 0 1,0 11.0,0a5.5,5.5 0 1,0 -11.0,0M1229.3,850.0a5.5,5.5 0 1,0 11.0,0a5.5,5.5 0 1,0 -11.0,0M1231.6,807.3a5.5,5.5 0 1,0 11.0,0a5.5,5.5 0 1,0 -11.0,0M1227.4,833.1a5.5,5.5 0 1,0 11.0,0a5.5,5.5 0 1,0 -11.0,0M1232.6,816.0a5.5,5.5 0 1,0 11.0,0a5.5,5.5 0 1,0 -11.0,0M1228.7,845.8a5.5,5.5 0 1,0 11.0,0a5.5,5.5 0 1,0 -11.0,0M1233.8,830.9a5.5,5.5 0 1,0 11.0,0a5.5,5.5 0 1,0 -11.0,0M1235.8,800.4a5.5,5.5 0 1,0 11.0,0a5.5,5.5 0 1,0 -11.0,0M1229.8,824.2a5.5,5.5 0 1,0 11.0,0a5.5,5.5 0 1,0 -11.0,0M1231.3,816.5a5.5,5.5 0 1,0 11.0,0a5.5,5.5 0 1,0 -11.0,0M1228.5,833.2a5.5,5.5 0 1,0 11.0,0a5.5,5.5 0 1,0 -11.0,0M1231.6,813.6a5.5,5.5 0 1,0 11.0,0a5.5,5.5 0 1,0 -11.0,0M1230.5,837.4a5.5,5.5 0 1,0 11.0,0a5.5,5.5 0 1,0 -11.0,0M1235.7,808.4a5.5,5.5 0 1,0 11.0,0a5.5,5.5 0 1,0 -11.0,0M1229.8,824.4a5.5,5.5 0 1,0 11.0,0a5.5,5.5 0 1,0 -11.0,0M1231.1,822.9a5.5,5.5 0 1,0 11.0,0a5.5,5.5 0 1,0 -11.0,0M1232.9,814.0a5.5,5.5 0 1,0 11.0,0a5.5,5.5 0 1,0 -11.0,0M1233.4,812.0a5.5,5.5 0 1,0 11.0,0a5.5,5.5 0 1,0 -11.0,0M1235.9,803.3a5.5,5.5 0 1,0 11.0,0a5.5,5.5 0 1,0 -11.0,0M1229.8,816.9a5.5,5.5 0 1,0 11.0,0a5.5,5.5 0 1,0 -11.0,0M1234.1,795.9a5.5,5.5 0 1,0 11.0,0a5.5,5.5 0 1,0 -11.0,0M1231.9,840.3a5.5,5.5 0 1,0 11.0,0a5.5,5.5 0 1,0 -11.0,0M1228.7,842.2a5.5,5.5 0 1,0 11.0,0a5.5,5.5 0 1,0 -11.0,0M1227.7,844.0a5.5,5.5 0 1,0 11.0,0a5.5,5.5 0 1,0 -11.0,0M1226.9,837.5a5.5,5.5 0 1,0 11.0,0a5.5,5.5 0 1,0 -11.0,0M1228.5,831.6a5.5,5.5 0 1,0 11.0,0a5.5,5.5 0 1,0 -11.0,0M1227.4,840.0a5.5,5.5 0 1,0 11.0,0a5.5,5.5 0 1,0 -11.0,0M1231.2,813.1a5.5,5.5 0 1,0 11.0,0a5.5,5.5 0 1,0 -11.0,0M1221.3,838.9a5.5,5.5 0 1,0 11.0,0a5.5,5.5 0 1,0 -11.0,0M1228.6,837.3a5.5,5.5 0 1,0 11.0,0a5.5,5.5 0 1,0 -11.0,0M1223.4,859.2a5.5,5.5 0 1,0 11.0,0a5.5,5.5 0 1,0 -11.0,0M1226.4,850.9a5.5,5.5 0 1,0 11.0,0a5.5,5.5 0 1,0 -11.0,0M1220.1,836.4a5.5,5.5 0 1,0 11.0,0a5.5,5.5 0 1,0 -11.0,0M1219.4,861.6a5.5,5.5 0 1,0 11.0,0a5.5,5.5 0 1,0 -11.0,0M1229.9,853.0a5.5,5.5 0 1,0 11.0,0a5.5,5.5 0 1,0 -11.0,0M1228.9,840.0a5.5,5.5 0 1,0 11.0,0a5.5,5.5 0 1,0 -11.0,0M1220.4,856.8a5.5,5.5 0 1,0 11.0,0a5.5,5.5 0 1,0 -11.0,0M1223.7,837.9a5.5,5.5 0 1,0 11.0,0a5.5,5.5 0 1,0 -11.0,0M1229.0,847.4a5.5,5.5 0 1,0 11.0,0a5.5,5.5 0 1,0 -11.0,0M1226.4,859.3a5.5,5.5 0 1,0 11.0,0a5.5,5.5 0 1,0 -11.0,0M1227.2,847.8a5.5,5.5 0 1,0 11.0,0a5.5,5.5 0 1,0 -11.0,0M1227.1,843.9a5.5,5.5 0 1,0 11.0,0a5.5,5.5 0 1,0 -11.0,0M1229.1,840.6a5.5,5.5 0 1,0 11.0,0a5.5,5.5 0 1,0 -11.0,0M1230.6,846.2a5.5,5.5 0 1,0 11.0,0a5.5,5.5 0 1,0 -11.0,0M1226.8,845.7a5.5,5.5 0 1,0 11.0,0a5.5,5.5 0 1,0 -11.0,0M1230.9,833.7a5.5,5.5 0 1,0 11.0,0a5.5,5.5 0 1,0 -11.0,0M1222.5,857.8a5.5,5.5 0 1,0 11.0,0a5.5,5.5 0 1,0 -11.0,0M1226.7,844.1a5.5,5.5 0 1,0 11.0,0a5.5,5.5 0 1,0 -11.0,0M1228.0,842.8a5.5,5.5 0 1,0 11.0,0a5.5,5.5 0 1,0 -11.0,0M1226.8,839.7a5.5,5.5 0 1,0 11.0,0a5.5,5.5 0 1,0 -11.0,0M1222.3,856.5a5.5,5.5 0 1,0 11.0,0a5.5,5.5 0 1,0 -11.0,0M1226.2,835.2a5.5,5.5 0 1,0 11.0,0a5.5,5.5 0 1,0 -11.0,0M1228.0,847.3a5.5,5.5 0 1,0 11.0,0a5.5,5.5 0 1,0 -11.0,0M1228.7,847.4a5.5,5.5 0 1,0 11.0,0a5.5,5.5 0 1,0 -11.0,0M1222.8,854.9a5.5,5.5 0 1,0 11.0,0a5.5,5.5 0 1,0 -11.0,0M1226.5,850.2a5.5,5.5 0 1,0 11.0,0a5.5,5.5 0 1,0 -11.0,0M1227.6,832.8a5.5,5.5 0 1,0 11.0,0a5.5,5.5 0 1,0 -11.0,0M1231.5,842.8a5.5,5.5 0 1,0 11.0,0a5.5,5.5 0 1,0 -11.0,0M1227.0,867.8a5.5,5.5 0 1,0 11.0,0a5.5,5.5 0 1,0 -11.0,0M1227.0,883.5a5.5,5.5 0 1,0 11.0,0a5.5,5.5 0 1,0 -11.0,0M1227.5,900.2a5.5,5.5 0 1,0 11.0,0a5.5,5.5 0 1,0 -11.0,0M1228.3,897.3a5.5,5.5 0 1,0 11.0,0a5.5,5.5 0 1,0 -11.0,0M1226.5,872.6a5.5,5.5 0 1,0 11.0,0a5.5,5.5 0 1,0 -11.0,0M1227.5,897.6a5.5,5.5 0 1,0 11.0,0a5.5,5.5 0 1,0 -11.0,0M1228.6,883.2a5.5,5.5 0 1,0 11.0,0a5.5,5.5 0 1,0 -11.0,0M1227.8,889.4a5.5,5.5 0 1,0 11.0,0a5.5,5.5 0 1,0 -11.0,0M1229.0,905.9a5.5,5.5 0 1,0 11.0,0a5.5,5.5 0 1,0 -11.0,0M1228.1,901.5a5.5,5.5 0 1,0 11.0,0a5.5,5.5 0 1,0 -11.0,0M1226.2,894.3a5.5,5.5 0 1,0 11.0,0a5.5,5.5 0 1,0 -11.0,0M1227.4,899.9a5.5,5.5 0 1,0 11.0,0a5.5,5.5 0 1,0 -11.0,0M1228.4,895.0a5.5,5.5 0 1,0 11.0,0a5.5,5.5 0 1,0 -11.0,0M1226.7,878.0a5.5,5.5 0 1,0 11.0,0a5.5,5.5 0 1,0 -11.0,0M1227.5,892.2a5.5,5.5 0 1,0 11.0,0a5.5,5.5 0 1,0 -11.0,0M1227.2,900.5a5.5,5.5 0 1,0 11.0,0a5.5,5.5 0 1,0 -11.0,0M1226.6,888.7a5.5,5.5 0 1,0 11.0,0a5.5,5.5 0 1,0 -11.0,0M1227.5,897.3a5.5,5.5 0 1,0 11.0,0a5.5,5.5 0 1,0 -11.0,0M1227.3,861.8a5.5,5.5 0 1,0 11.0,0a5.5,5.5 0 1,0 -11.0,0M1227.9,883.4a5.5,5.5 0 1,0 11.0,0a5.5,5.5 0 1,0 -11.0,0M1227.7,901.0a5.5,5.5 0 1,0 11.0,0a5.5,5.5 0 1,0 -11.0,0M1228.0,876.1a5.5,5.5 0 1,0 11.0,0a5.5,5.5 0 1,0 -11.0,0M1223.0,923.0a5.5,5.5 0 1,0 11.0,0a5.5,5.5 0 1,0 -11.0,0M1228.7,927.8a5.5,5.5 0 1,0 11.0,0a5.5,5.5 0 1,0 -11.0,0M1218.2,813.5a5.5,5.5 0 1,0 11.0,0a5.5,5.5 0 1,0 -11.0,0M1217.2,829.8a5.5,5.5 0 1,0 11.0,0a5.5,5.5 0 1,0 -11.0,0M1262.3,718.7a5.5,5.5 0 1,0 11.0,0a5.5,5.5 0 1,0 -11.0,0M1260.2,718.1a5.5,5.5 0 1,0 11.0,0a5.5,5.5 0 1,0 -11.0,0M1262.7,740.1a5.5,5.5 0 1,0 11.0,0a5.5,5.5 0 1,0 -11.0,0M1262.1,724.0a5.5,5.5 0 1,0 11.0,0a5.5,5.5 0 1,0 -11.0,0M1262.1,742.4a5.5,5.5 0 1,0 11.0,0a5.5,5.5 0 1,0 -11.0,0M1263.7,738.3a5.5,5.5 0 1,0 11.0,0a5.5,5.5 0 1,0 -11.0,0M1259.2,734.3a5.5,5.5 0 1,0 11.0,0a5.5,5.5 0 1,0 -11.0,0M1257.4,732.5a5.5,5.5 0 1,0 11.0,0a5.5,5.5 0 1,0 -11.0,0M1263.2,716.0a5.5,5.5 0 1,0 11.0,0a5.5,5.5 0 1,0 -11.0,0M1261.8,724.9a5.5,5.5 0 1,0 11.0,0a5.5,5.5 0 1,0 -11.0,0M1257.1,722.5a5.5,5.5 0 1,0 11.0,0a5.5,5.5 0 1,0 -11.0,0M1262.4,717.7a5.5,5.5 0 1,0 11.0,0a5.5,5.5 0 1,0 -11.0,0M1260.2,743.1a5.5,5.5 0 1,0 11.0,0a5.5,5.5 0 1,0 -11.0,0M1262.9,738.8a5.5,5.5 0 1,0 11.0,0a5.5,5.5 0 1,0 -11.0,0M1259.6,737.4a5.5,5.5 0 1,0 11.0,0a5.5,5.5 0 1,0 -11.0,0M1256.5,717.3a5.5,5.5 0 1,0 11.0,0a5.5,5.5 0 1,0 -11.0,0M1262.4,742.4a5.5,5.5 0 1,0 11.0,0a5.5,5.5 0 1,0 -11.0,0M1261.6,718.5a5.5,5.5 0 1,0 11.0,0a5.5,5.5 0 1,0 -11.0,0M1261.5,737.4a5.5,5.5 0 1,0 11.0,0a5.5,5.5 0 1,0 -11.0,0M1262.5,744.2a5.5,5.5 0 1,0 11.0,0a5.5,5.5 0 1,0 -11.0,0M1261.0,719.9a5.5,5.5 0 1,0 11.0,0a5.5,5.5 0 1,0 -11.0,0M1260.8,736.8a5.5,5.5 0 1,0 11.0,0a5.5,5.5 0 1,0 -11.0,0M1260.8,721.8a5.5,5.5 0 1,0 11.0,0a5.5,5.5 0 1,0 -11.0,0M1258.6,739.6a5.5,5.5 0 1,0 11.0,0a5.5,5.5 0 1,0 -11.0,0M1263.5,736.4a5.5,5.5 0 1,0 11.0,0a5.5,5.5 0 1,0 -11.0,0M1262.1,726.5a5.5,5.5 0 1,0 11.0,0a5.5,5.5 0 1,0 -11.0,0M1260.6,733.4a5.5,5.5 0 1,0 11.0,0a5.5,5.5 0 1,0 -11.0,0M1262.1,732.8a5.5,5.5 0 1,0 11.0,0a5.5,5.5 0 1,0 -11.0,0M1262.3,715.0a5.5,5.5 0 1,0 11.0,0a5.5,5.5 0 1,0 -11.0,0M1262.3,720.0a5.5,5.5 0 1,0 11.0,0a5.5,5.5 0 1,0 -11.0,0M1284.4,834.5a5.5,5.5 0 1,0 11.0,0a5.5,5.5 0 1,0 -11.0,0M1286.5,809.1a5.5,5.5 0 1,0 11.0,0a5.5,5.5 0 1,0 -11.0,0M1283.6,856.2a5.5,5.5 0 1,0 11.0,0a5.5,5.5 0 1,0 -11.0,0M1279.8,729.8a5.5,5.5 0 1,0 11.0,0a5.5,5.5 0 1,0 -11.0,0M1282.8,763.4a5.5,5.5 0 1,0 11.0,0a5.5,5.5 0 1,0 -11.0,0M1279.8,713.9a5.5,5.5 0 1,0 11.0,0a5.5,5.5 0 1,0 -11.0,0M1286.6,760.4a5.5,5.5 0 1,0 11.0,0a5.5,5.5 0 1,0 -11.0,0M1284.7,837.4a5.5,5.5 0 1,0 11.0,0a5.5,5.5 0 1,0 -11.0,0M1284.4,861.1a5.5,5.5 0 1,0 11.0,0a5.5,5.5 0 1,0 -11.0,0M1284.3,864.6a5.5,5.5 0 1,0 11.0,0a5.5,5.5 0 1,0 -11.0,0M1282.7,849.9a5.5,5.5 0 1,0 11.0,0a5.5,5.5 0 1,0 -11.0,0M1279.7,719.0a5.5,5.5 0 1,0 11.0,0a5.5,5.5 0 1,0 -11.0,0M1279.0,714.3a5.5,5.5 0 1,0 11.0,0a5.5,5.5 0 1,0 -11.0,0M1286.3,805.4a5.5,5.5 0 1,0 11.0,0a5.5,5.5 0 1,0 -11.0,0M1284.5,778.5a5.5,5.5 0 1,0 11.0,0a5.5,5.5 0 1,0 -11.0,0M1285.2,865.8a5.5,5.5 0 1,0 11.0,0a5.5,5.5 0 1,0 -11.0,0M1282.7,839.9a5.5,5.5 0 1,0 11.0,0a5.5,5.5 0 1,0 -11.0,0M1282.4,763.2a5.5,5.5 0 1,0 11.0,0a5.5,5.5 0 1,0 -11.0,0M1284.3,826.9a5.5,5.5 0 1,0 11.0,0a5.5,5.5 0 1,0 -11.0,0M1285.1,824.2a5.5,5.5 0 1,0 11.0,0a5.5,5.5 0 1,0 -11.0,0M1281.9,741.6a5.5,5.5 0 1,0 11.0,0a5.5,5.5 0 1,0 -11.0,0M1284.0,814.2a5.5,5.5 0 1,0 11.0,0a5.5,5.5 0 1,0 -11.0,0M1282.0,748.2a5.5,5.5 0 1,0 11.0,0a5.5,5.5 0 1,0 -11.0,0M1282.3,765.9a5.5,5.5 0 1,0 11.0,0a5.5,5.5 0 1,0 -11.0,0M1285.1,838.3a5.5,5.5 0 1,0 11.0,0a5.5,5.5 0 1,0 -11.0,0M1285.1,821.5a5.5,5.5 0 1,0 11.0,0a5.5,5.5 0 1,0 -11.0,0M1284.3,774.6a5.5,5.5 0 1,0 11.0,0a5.5,5.5 0 1,0 -11.0,0M1285.7,811.5a5.5,5.5 0 1,0 11.0,0a5.5,5.5 0 1,0 -11.0,0M1283.2,844.4a5.5,5.5 0 1,0 11.0,0a5.5,5.5 0 1,0 -11.0,0M1283.0,841.9a5.5,5.5 0 1,0 11.0,0a5.5,5.5 0 1,0 -11.0,0M1281.1,737.6a5.5,5.5 0 1,0 11.0,0a5.5,5.5 0 1,0 -11.0,0M1279.2,729.9a5.5,5.5 0 1,0 11.0,0a5.5,5.5 0 1,0 -11.0,0M1284.9,798.6a5.5,5.5 0 1,0 11.0,0a5.5,5.5 0 1,0 -11.0,0M1285.2,851.0a5.5,5.5 0 1,0 11.0,0a5.5,5.5 0 1,0 -11.0,0M1284.7,804.7a5.5,5.5 0 1,0 11.0,0a5.5,5.5 0 1,0 -11.0,0M1282.0,746.2a5.5,5.5 0 1,0 11.0,0a5.5,5.5 0 1,0 -11.0,0M1280.2,712.1a5.5,5.5 0 1,0 11.0,0a5.5,5.5 0 1,0 -11.0,0M1285.0,847.4a5.5,5.5 0 1,0 11.0,0a5.5,5.5 0 1,0 -11.0,0M1283.6,847.4a5.5,5.5 0 1,0 11.0,0a5.5,5.5 0 1,0 -11.0,0M1283.2,821.2a5.5,5.5 0 1,0 11.0,0a5.5,5.5 0 1,0 -11.0,0M1282.9,736.9a5.5,5.5 0 1,0 11.0,0a5.5,5.5 0 1,0 -11.0,0M1285.8,854.1a5.5,5.5 0 1,0 11.0,0a5.5,5.5 0 1,0 -11.0,0M1284.0,796.0a5.5,5.5 0 1,0 11.0,0a5.5,5.5 0 1,0 -11.0,0M1284.0,791.2a5.5,5.5 0 1,0 11.0,0a5.5,5.5 0 1,0 -11.0,0M1284.0,776.3a5.5,5.5 0 1,0 11.0,0a5.5,5.5 0 1,0 -11.0,0M1285.0,793.8a5.5,5.5 0 1,0 11.0,0a5.5,5.5 0 1,0 -11.0,0M1285.9,764.5a5.5,5.5 0 1,0 11.0,0a5.5,5.5 0 1,0 -11.0,0M1284.1,870.1a5.5,5.5 0 1,0 11.0,0a5.5,5.5 0 1,0 -11.0,0M1285.0,780.1a5.5,5.5 0 1,0 11.0,0a5.5,5.5 0 1,0 -11.0,0M1280.8,797.5a5.5,5.5 0 1,0 11.0,0a5.5,5.5 0 1,0 -11.0,0M1284.0,767.7a5.5,5.5 0 1,0 11.0,0a5.5,5.5 0 1,0 -11.0,0M1286.1,752.5a5.5,5.5 0 1,0 11.0,0a5.5,5.5 0 1,0 -11.0,0M1284.8,796.8a5.5,5.5 0 1,0 11.0,0a5.5,5.5 0 1,0 -11.0,0M1284.7,797.1a5.5,5.5 0 1,0 11.0,0a5.5,5.5 0 1,0 -11.0,0M1281.4,779.1a5.5,5.5 0 1,0 11.0,0a5.5,5.5 0 1,0 -11.0,0M1286.5,847.9a5.5,5.5 0 1,0 11.0,0a5.5,5.5 0 1,0 -11.0,0M1284.5,776.4a5.5,5.5 0 1,0 11.0,0a5.5,5.5 0 1,0 -11.0,0M1280.3,743.5a5.5,5.5 0 1,0 11.0,0a5.5,5.5 0 1,0 -11.0,0M1282.8,750.2a5.5,5.5 0 1,0 11.0,0a5.5,5.5 0 1,0 -11.0,0M1284.4,810.5a5.5,5.5 0 1,0 11.0,0a5.5,5.5 0 1,0 -11.0,0M1285.1,831.4a5.5,5.5 0 1,0 11.0,0a5.5,5.5 0 1,0 -11.0,0M1285.4,809.1a5.5,5.5 0 1,0 11.0,0a5.5,5.5 0 1,0 -11.0,0M1285.1,840.0a5.5,5.5 0 1,0 11.0,0a5.5,5.5 0 1,0 -11.0,0M1284.9,811.1a5.5,5.5 0 1,0 11.0,0a5.5,5.5 0 1,0 -11.0,0M1285.9,844.6a5.5,5.5 0 1,0 11.0,0a5.5,5.5 0 1,0 -11.0,0M1282.8,771.6a5.5,5.5 0 1,0 11.0,0a5.5,5.5 0 1,0 -11.0,0M1285.8,847.1a5.5,5.5 0 1,0 11.0,0a5.5,5.5 0 1,0 -11.0,0M1283.5,751.6a5.5,5.5 0 1,0 11.0,0a5.5,5.5 0 1,0 -11.0,0M1282.3,727.0a5.5,5.5 0 1,0 11.0,0a5.5,5.5 0 1,0 -11.0,0M1287.4,790.0a5.5,5.5 0 1,0 11.0,0a5.5,5.5 0 1,0 -11.0,0M1282.5,748.7a5.5,5.5 0 1,0 11.0,0a5.5,5.5 0 1,0 -11.0,0M1284.1,755.6a5.5,5.5 0 1,0 11.0,0a5.5,5.5 0 1,0 -11.0,0M1280.6,754.8a5.5,5.5 0 1,0 11.0,0a5.5,5.5 0 1,0 -11.0,0M1283.4,748.5a5.5,5.5 0 1,0 11.0,0a5.5,5.5 0 1,0 -11.0,0M1282.1,774.8a5.5,5.5 0 1,0 11.0,0a5.5,5.5 0 1,0 -11.0,0M1283.0,739.4a5.5,5.5 0 1,0 11.0,0a5.5,5.5 0 1,0 -11.0,0M1283.8,808.7a5.5,5.5 0 1,0 11.0,0a5.5,5.5 0 1,0 -11.0,0M1285.3,795.8a5.5,5.5 0 1,0 11.0,0a5.5,5.5 0 1,0 -11.0,0M1282.9,795.5a5.5,5.5 0 1,0 11.0,0a5.5,5.5 0 1,0 -11.0,0M1285.1,770.4a5.5,5.5 0 1,0 11.0,0a5.5,5.5 0 1,0 -11.0,0M1286.2,839.5a5.5,5.5 0 1,0 11.0,0a5.5,5.5 0 1,0 -11.0,0M1282.9,755.6a5.5,5.5 0 1,0 11.0,0a5.5,5.5 0 1,0 -11.0,0M1282.5,772.3a5.5,5.5 0 1,0 11.0,0a5.5,5.5 0 1,0 -11.0,0M1286.5,849.7a5.5,5.5 0 1,0 11.0,0a5.5,5.5 0 1,0 -11.0,0M1284.2,778.3a5.5,5.5 0 1,0 11.0,0a5.5,5.5 0 1,0 -11.0,0M1284.4,750.3a5.5,5.5 0 1,0 11.0,0a5.5,5.5 0 1,0 -11.0,0M1282.1,824.5a5.5,5.5 0 1,0 11.0,0a5.5,5.5 0 1,0 -11.0,0M1284.4,857.1a5.5,5.5 0 1,0 11.0,0a5.5,5.5 0 1,0 -11.0,0M1282.3,769.9a5.5,5.5 0 1,0 11.0,0a5.5,5.5 0 1,0 -11.0,0M1286.0,841.3a5.5,5.5 0 1,0 11.0,0a5.5,5.5 0 1,0 -11.0,0M1284.7,776.0a5.5,5.5 0 1,0 11.0,0a5.5,5.5 0 1,0 -11.0,0M1281.8,738.9a5.5,5.5 0 1,0 11.0,0a5.5,5.5 0 1,0 -11.0,0M1282.3,778.4a5.5,5.5 0 1,0 11.0,0a5.5,5.5 0 1,0 -11.0,0M1278.1,718.8a5.5,5.5 0 1,0 11.0,0a5.5,5.5 0 1,0 -11.0,0M1275.9,720.4a5.5,5.5 0 1,0 11.0,0a5.5,5.5 0 1,0 -11.0,0M1287.7,812.9a5.5,5.5 0 1,0 11.0,0a5.5,5.5 0 1,0 -11.0,0M1284.6,789.1a5.5,5.5 0 1,0 11.0,0a5.5,5.5 0 1,0 -11.0,0M1285.2,800.6a5.5,5.5 0 1,0 11.0,0a5.5,5.5 0 1,0 -11.0,0M1280.7,729.9a5.5,5.5 0 1,0 11.0,0a5.5,5.5 0 1,0 -11.0,0M1285.3,786.6a5.5,5.5 0 1,0 11.0,0a5.5,5.5 0 1,0 -11.0,0M1283.5,797.8a5.5,5.5 0 1,0 11.0,0a5.5,5.5 0 1,0 -11.0,0M1280.5,722.0a5.5,5.5 0 1,0 11.0,0a5.5,5.5 0 1,0 -11.0,0M1282.0,779.4a5.5,5.5 0 1,0 11.0,0a5.5,5.5 0 1,0 -11.0,0M1285.4,781.6a5.5,5.5 0 1,0 11.0,0a5.5,5.5 0 1,0 -11.0,0M1281.4,734.8a5.5,5.5 0 1,0 11.0,0a5.5,5.5 0 1,0 -11.0,0M1283.4,771.2a5.5,5.5 0 1,0 11.0,0a5.5,5.5 0 1,0 -11.0,0M1282.4,731.6a5.5,5.5 0 1,0 11.0,0a5.5,5.5 0 1,0 -11.0,0M1280.7,864.3a5.5,5.5 0 1,0 11.0,0a5.5,5.5 0 1,0 -11.0,0M1284.2,820.5a5.5,5.5 0 1,0 11.0,0a5.5,5.5 0 1,0 -11.0,0M1281.5,732.1a5.5,5.5 0 1,0 11.0,0a5.5,5.5 0 1,0 -11.0,0M1284.3,760.3a5.5,5.5 0 1,0 11.0,0a5.5,5.5 0 1,0 -11.0,0M1284.7,863.7a5.5,5.5 0 1,0 11.0,0a5.5,5.5 0 1,0 -11.0,0M1284.5,796.5a5.5,5.5 0 1,0 11.0,0a5.5,5.5 0 1,0 -11.0,0M1285.7,822.7a5.5,5.5 0 1,0 11.0,0a5.5,5.5 0 1,0 -11.0,0M1283.0,749.8a5.5,5.5 0 1,0 11.0,0a5.5,5.5 0 1,0 -11.0,0M1281.0,747.5a5.5,5.5 0 1,0 11.0,0a5.5,5.5 0 1,0 -11.0,0M1284.7,817.0a5.5,5.5 0 1,0 11.0,0a5.5,5.5 0 1,0 -11.0,0M1283.9,777.7a5.5,5.5 0 1,0 11.0,0a5.5,5.5 0 1,0 -11.0,0M1282.5,725.8a5.5,5.5 0 1,0 11.0,0a5.5,5.5 0 1,0 -11.0,0M1275.9,719.7a5.5,5.5 0 1,0 11.0,0a5.5,5.5 0 1,0 -11.0,0M1284.0,809.7a5.5,5.5 0 1,0 11.0,0a5.5,5.5 0 1,0 -11.0,0M1283.4,779.1a5.5,5.5 0 1,0 11.0,0a5.5,5.5 0 1,0 -11.0,0M1281.7,737.0a5.5,5.5 0 1,0 11.0,0a5.5,5.5 0 1,0 -11.0,0M1285.0,764.9a5.5,5.5 0 1,0 11.0,0a5.5,5.5 0 1,0 -11.0,0M1279.1,742.6a5.5,5.5 0 1,0 11.0,0a5.5,5.5 0 1,0 -11.0,0M1283.9,786.4a5.5,5.5 0 1,0 11.0,0a5.5,5.5 0 1,0 -11.0,0M1283.9,782.3a5.5,5.5 0 1,0 11.0,0a5.5,5.5 0 1,0 -11.0,0M1283.7,821.4a5.5,5.5 0 1,0 11.0,0a5.5,5.5 0 1,0 -11.0,0M1281.4,728.0a5.5,5.5 0 1,0 11.0,0a5.5,5.5 0 1,0 -11.0,0M1285.7,782.8a5.5,5.5 0 1,0 11.0,0a5.5,5.5 0 1,0 -11.0,0M1282.9,754.1a5.5,5.5 0 1,0 11.0,0a5.5,5.5 0 1,0 -11.0,0M1279.1,746.2a5.5,5.5 0 1,0 11.0,0a5.5,5.5 0 1,0 -11.0,0M1280.2,786.7a5.5,5.5 0 1,0 11.0,0a5.5,5.5 0 1,0 -11.0,0M1287.0,845.8a5.5,5.5 0 1,0 11.0,0a5.5,5.5 0 1,0 -11.0,0M1282.4,746.7a5.5,5.5 0 1,0 11.0,0a5.5,5.5 0 1,0 -11.0,0M1281.4,855.5a5.5,5.5 0 1,0 11.0,0a5.5,5.5 0 1,0 -11.0,0M1285.0,866.7a5.5,5.5 0 1,0 11.0,0a5.5,5.5 0 1,0 -11.0,0M1283.4,755.7a5.5,5.5 0 1,0 11.0,0a5.5,5.5 0 1,0 -11.0,0M1286.1,867.3a5.5,5.5 0 1,0 11.0,0a5.5,5.5 0 1,0 -11.0,0M1285.3,784.3a5.5,5.5 0 1,0 11.0,0a5.5,5.5 0 1,0 -11.0,0M1283.9,853.5a5.5,5.5 0 1,0 11.0,0a5.5,5.5 0 1,0 -11.0,0M1286.2,791.0a5.5,5.5 0 1,0 11.0,0a5.5,5.5 0 1,0 -11.0,0M1285.3,850.5a5.5,5.5 0 1,0 11.0,0a5.5,5.5 0 1,0 -11.0,0M1282.0,854.2a5.5,5.5 0 1,0 11.0,0a5.5,5.5 0 1,0 -11.0,0M1282.3,839.3a5.5,5.5 0 1,0 11.0,0a5.5,5.5 0 1,0 -11.0,0M1282.8,821.0a5.5,5.5 0 1,0 11.0,0a5.5,5.5 0 1,0 -11.0,0M1288.2,835.2a5.5,5.5 0 1,0 11.0,0a5.5,5.5 0 1,0 -11.0,0M1282.5,767.1a5.5,5.5 0 1,0 11.0,0a5.5,5.5 0 1,0 -11.0,0M1284.8,847.3a5.5,5.5 0 1,0 11.0,0a5.5,5.5 0 1,0 -11.0,0M1283.4,749.0a5.5,5.5 0 1,0 11.0,0a5.5,5.5 0 1,0 -11.0,0M1279.4,713.1a5.5,5.5 0 1,0 11.0,0a5.5,5.5 0 1,0 -11.0,0M1284.7,802.7a5.5,5.5 0 1,0 11.0,0a5.5,5.5 0 1,0 -11.0,0M1277.9,722.7a5.5,5.5 0 1,0 11.0,0a5.5,5.5 0 1,0 -11.0,0M1283.5,780.7a5.5,5.5 0 1,0 11.0,0a5.5,5.5 0 1,0 -11.0,0M1282.8,746.3a5.5,5.5 0 1,0 11.0,0a5.5,5.5 0 1,0 -11.0,0M1283.5,823.2a5.5,5.5 0 1,0 11.0,0a5.5,5.5 0 1,0 -11.0,0M1281.3,752.2a5.5,5.5 0 1,0 11.0,0a5.5,5.5 0 1,0 -11.0,0M1285.4,856.8a5.5,5.5 0 1,0 11.0,0a5.5,5.5 0 1,0 -11.0,0M1280.7,728.7a5.5,5.5 0 1,0 11.0,0a5.5,5.5 0 1,0 -11.0,0M1286.6,823.1a5.5,5.5 0 1,0 11.0,0a5.5,5.5 0 1,0 -11.0,0M1280.2,735.0a5.5,5.5 0 1,0 11.0,0a5.5,5.5 0 1,0 -11.0,0M1281.2,754.4a5.5,5.5 0 1,0 11.0,0a5.5,5.5 0 1,0 -11.0,0M1280.7,742.2a5.5,5.5 0 1,0 11.0,0a5.5,5.5 0 1,0 -11.0,0M1283.5,809.6a5.5,5.5 0 1,0 11.0,0a5.5,5.5 0 1,0 -11.0,0M1283.1,758.1a5.5,5.5 0 1,0 11.0,0a5.5,5.5 0 1,0 -11.0,0M1286.9,813.5a5.5,5.5 0 1,0 11.0,0a5.5,5.5 0 1,0 -11.0,0M1282.2,719.7a5.5,5.5 0 1,0 11.0,0a5.5,5.5 0 1,0 -11.0,0M1279.3,741.8a5.5,5.5 0 1,0 11.0,0a5.5,5.5 0 1,0 -11.0,0M1284.1,820.2a5.5,5.5 0 1,0 11.0,0a5.5,5.5 0 1,0 -11.0,0M1283.0,855.4a5.5,5.5 0 1,0 11.0,0a5.5,5.5 0 1,0 -11.0,0M1284.4,881.2a5.5,5.5 0 1,0 11.0,0a5.5,5.5 0 1,0 -11.0,0M1284.4,889.7a5.5,5.5 0 1,0 11.0,0a5.5,5.5 0 1,0 -11.0,0M1284.1,874.9a5.5,5.5 0 1,0 11.0,0a5.5,5.5 0 1,0 -11.0,0M1264.0,486.1a5.5,5.5 0 1,0 11.0,0a5.5,5.5 0 1,0 -11.0,0M1264.0,486.8a5.5,5.5 0 1,0 11.0,0a5.5,5.5 0 1,0 -11.0,0M1270.0,506.3a5.5,5.5 0 1,0 11.0,0a5.5,5.5 0 1,0 -11.0,0M1270.0,509.7a5.5,5.5 0 1,0 11.0,0a5.5,5.5 0 1,0 -11.0,0M1257.9,517.3a5.5,5.5 0 1,0 11.0,0a5.5,5.5 0 1,0 -11.0,0M1257.6,532.5a5.5,5.5 0 1,0 11.0,0a5.5,5.5 0 1,0 -11.0,0M1263.6,530.5a5.5,5.5 0 1,0 11.0,0a5.5,5.5 0 1,0 -11.0,0M1271.0,535.5a5.5,5.5 0 1,0 11.0,0a5.5,5.5 0 1,0 -11.0,0M1270.4,545.9a5.5,5.5 0 1,0 11.0,0a5.5,5.5 0 1,0 -11.0,0M1250.9,551.3a5.5,5.5 0 1,0 11.0,0a5.5,5.5 0 1,0 -11.0,0M1269.7,557.4a5.5,5.5 0 1,0 11.0,0a5.5,5.5 0 1,0 -11.0,0M1270.4,561.4a5.5,5.5 0 1,0 11.0,0a5.5,5.5 0 1,0 -11.0,0M1273.0,578.9a5.5,5.5 0 1,0 11.0,0a5.5,5.5 0 1,0 -11.0,0M1273.0,584.2a5.5,5.5 0 1,0 11.0,0a5.5,5.5 0 1,0 -11.0,0M1274.4,588.3a5.5,5.5 0 1,0 11.0,0a5.5,5.5 0 1,0 -11.0,0M1276.4,609.8a5.5,5.5 0 1,0 11.0,0a5.5,5.5 0 1,0 -11.0,0M1277.1,627.3a5.5,5.5 0 1,0 11.0,0a5.5,5.5 0 1,0 -11.0,0M1219.8,798.7a5.5,5.5 0 1,0 11.0,0a5.5,5.5 0 1,0 -11.0,0M1220.0,814.5a5.5,5.5 0 1,0 11.0,0a5.5,5.5 0 1,0 -11.0,0M1233.5,907.0a5.5,5.5 0 1,0 11.0,0a5.5,5.5 0 1,0 -11.0,0M1230.9,925.5a5.5,5.5 0 1,0 11.0,0a5.5,5.5 0 1,0 -11.0,0M1242.0,593.7a5.5,5.5 0 1,0 11.0,0a5.5,5.5 0 1,0 -11.0,0M1241.6,565.9a5.5,5.5 0 1,0 11.0,0a5.5,5.5 0 1,0 -11.0,0M1242.4,575.4a5.5,5.5 0 1,0 11.0,0a5.5,5.5 0 1,0 -11.0,0M1247.1,577.6a5.5,5.5 0 1,0 11.0,0a5.5,5.5 0 1,0 -11.0,0M1247.7,563.3a5.5,5.5 0 1,0 11.0,0a5.5,5.5 0 1,0 -11.0,0M1242.8,572.1a5.5,5.5 0 1,0 11.0,0a5.5,5.5 0 1,0 -11.0,0M1248.1,582.3a5.5,5.5 0 1,0 11.0,0a5.5,5.5 0 1,0 -11.0,0M1248.0,584.4a5.5,5.5 0 1,0 11.0,0a5.5,5.5 0 1,0 -11.0,0M1243.2,577.0a5.5,5.5 0 1,0 11.0,0a5.5,5.5 0 1,0 -11.0,0M1243.9,601.7a5.5,5.5 0 1,0 11.0,0a5.5,5.5 0 1,0 -11.0,0M1241.0,563.3a5.5,5.5 0 1,0 11.0,0a5.5,5.5 0 1,0 -11.0,0M1241.6,564.2a5.5,5.5 0 1,0 11.0,0a5.5,5.5 0 1,0 -11.0,0M1246.9,595.6a5.5,5.5 0 1,0 11.0,0a5.5,5.5 0 1,0 -11.0,0M1246.5,599.7a5.5,5.5 0 1,0 11.0,0a5.5,5.5 0 1,0 -11.0,0M1241.3,564.0a5.5,5.5 0 1,0 11.0,0a5.5,5.5 0 1,0 -11.0,0M1249.3,599.5a5.5,5.5 0 1,0 11.0,0a5.5,5.5 0 1,0 -11.0,0M1246.1,568.5a5.5,5.5 0 1,0 11.0,0a5.5,5.5 0 1,0 -11.0,0M1243.9,567.5a5.5,5.5 0 1,0 11.0,0a5.5,5.5 0 1,0 -11.0,0M1240.4,584.2a5.5,5.5 0 1,0 11.0,0a5.5,5.5 0 1,0 -11.0,0M1244.9,602.4a5.5,5.5 0 1,0 11.0,0a5.5,5.5 0 1,0 -11.0,0M1240.2,587.6a5.5,5.5 0 1,0 11.0,0a5.5,5.5 0 1,0 -11.0,0M1241.2,576.6a5.5,5.5 0 1,0 11.0,0a5.5,5.5 0 1,0 -11.0,0M1249.2,592.5a5.5,5.5 0 1,0 11.0,0a5.5,5.5 0 1,0 -11.0,0M1246.2,590.3a5.5,5.5 0 1,0 11.0,0a5.5,5.5 0 1,0 -11.0,0M1241.5,594.2a5.5,5.5 0 1,0 11.0,0a5.5,5.5 0 1,0 -11.0,0M1247.9,577.2a5.5,5.5 0 1,0 11.0,0a5.5,5.5 0 1,0 -11.0,0M1241.5,592.8a5.5,5.5 0 1,0 11.0,0a5.5,5.5 0 1,0 -11.0,0M1248.0,568.4a5.5,5.5 0 1,0 11.0,0a5.5,5.5 0 1,0 -11.0,0M1241.5,585.0a5.5,5.5 0 1,0 11.0,0a5.5,5.5 0 1,0 -11.0,0M1241.5,585.3a5.5,5.5 0 1,0 11.0,0a5.5,5.5 0 1,0 -11.0,0M1243.8,570.1a5.5,5.5 0 1,0 11.0,0a5.5,5.5 0 1,0 -11.0,0M1241.2,589.4a5.5,5.5 0 1,0 11.0,0a5.5,5.5 0 1,0 -11.0,0M1249.0,583.5a5.5,5.5 0 1,0 11.0,0a5.5,5.5 0 1,0 -11.0,0M1245.1,595.0a5.5,5.5 0 1,0 11.0,0a5.5,5.5 0 1,0 -11.0,0M1242.8,568.9a5.5,5.5 0 1,0 11.0,0a5.5,5.5 0 1,0 -11.0,0M1248.7,590.3a5.5,5.5 0 1,0 11.0,0a5.5,5.5 0 1,0 -11.0,0M1248.3,567.3a5.5,5.5 0 1,0 11.0,0a5.5,5.5 0 1,0 -11.0,0M1247.4,565.9a5.5,5.5 0 1,0 11.0,0a5.5,5.5 0 1,0 -11.0,0M1240.8,566.1a5.5,5.5 0 1,0 11.0,0a5.5,5.5 0 1,0 -11.0,0M1243.1,580.8a5.5,5.5 0 1,0 11.0,0a5.5,5.5 0 1,0 -11.0,0M1243.8,588.9a5.5,5.5 0 1,0 11.0,0a5.5,5.5 0 1,0 -11.0,0M1243.6,579.1a5.5,5.5 0 1,0 11.0,0a5.5,5.5 0 1,0 -11.0,0M1242.1,596.1a5.5,5.5 0 1,0 11.0,0a5.5,5.5 0 1,0 -11.0,0M1247.5,594.3a5.5,5.5 0 1,0 11.0,0a5.5,5.5 0 1,0 -11.0,0M1243.9,580.5a5.5,5.5 0 1,0 11.0,0a5.5,5.5 0 1,0 -11.0,0M1221.9,834.1a5.5,5.5 0 1,0 11.0,0a5.5,5.5 0 1,0 -11.0,0M1221.0,842.2a5.5,5.5 0 1,0 11.0,0a5.5,5.5 0 1,0 -11.0,0M1221.6,839.9a5.5,5.5 0 1,0 11.0,0a5.5,5.5 0 1,0 -11.0,0M1223.2,836.0a5.5,5.5 0 1,0 11.0,0a5.5,5.5 0 1,0 -11.0,0M1221.3,833.5a5.5,5.5 0 1,0 11.0,0a5.5,5.5 0 1,0 -11.0,0M1222.4,852.3a5.5,5.5 0 1,0 11.0,0a5.5,5.5 0 1,0 -11.0,0M1220.9,826.1a5.5,5.5 0 1,0 11.0,0a5.5,5.5 0 1,0 -11.0,0M1222.3,826.8a5.5,5.5 0 1,0 11.0,0a5.5,5.5 0 1,0 -11.0,0M1221.7,838.7a5.5,5.5 0 1,0 11.0,0a5.5,5.5 0 1,0 -11.0,0M1221.6,834.7a5.5,5.5 0 1,0 11.0,0a5.5,5.5 0 1,0 -11.0,0" fill="none" stroke="#1f77b4" stroke-width="2.6"/>
<path d="M338.5,174.8l-4.9,9.8h9.8zM338.5,187.9l-4.9,9.8h9.8zM463.5,293.0l-4.9,9.8h9.8zM508.4,277.2l-4.9,9.8h9.8zM508.4,278.2l-4.9,9.8h9.8zM503.0,292.0l-4.9,9.8h9.8zM508.4,299.4l-4.9,9.8h9.8zM508.4,300.7l-4.9,9.8h9.8zM530.6,290.2l-4.9,9.8h9.8zM478.4,342.5l-4.9,9.8h9.8zM574.6,304.1l-4.9,9.8h9.8zM590.5,312.1l-4.9,9.8h9.8zM589.4,323.7l-4.9,9.8h9.8zM591.5,349.0l-4.9,9.8h9.8zM613.4,330.8l-4.9,9.8h9.8zM613.4,333.0l-4.9,9.8h9.8zM633.5,349.3l-4.9,9.8h9.8zM633.5,350.5l-4.9,9.8h9.8zM637.2,329.0l-4.9,9.8h9.8zM647.4,328.7l-4.9,9.8h9.8zM647.8,330.8l-4.9,9.8h9.8zM651.4,337.2l-4.9,9.8h9.8zM656.6,316.6l-4.9,9.8h9.8zM656.9,317.7l-4.9,9.8h9.8zM657.5,332.3l-4.9,9.8h9.8zM665.9,319.5l-4.9,9.8h9.8zM666.6,322.3l-4.9,9.8h9.8zM665.2,323.7l-4.9,9.8h9.8zM671.4,311.2l-4.9,9.8h9.8zM669.4,315.2l-4.9,9.8h9.8zM671.4,331.5l-4.9,9.8h9.8zM671.4,333.4l-4.9,9.8h9.8zM685.4,324.4l-4.9,9.8h9.8zM685.4,326.6l-4.9,9.8h9.8zM688.4,337.9l-4.9,9.8h9.8zM700.5,308.1l-4.9,9.8h9.8zM700.5,351.2l-4.9,9.8h9.8zM723.5,315.9l-4.9,9.8h9.8zM713.8,340.8l-4.9,9.8h9.8zM714.3,343.6l-4.9,9.8h9.8zM714.7,347.9l-4.9,9.8h9.8zM720.7,359.3l-4.9,9.8h9.8zM720.7,363.6l-4.9,9.8h9.8zM696.5,371.4l-4.9,9.8h9.8zM705.0,374.9l-4.9,9.8h9.8zM715.6,383.1l-4.9,9.8h9.8zM721.3,382.4l-4.9,9.8h9.8zM730.5,384.5l-4.9,9.8h9.8zM707.0,392.3l-4.9,9.8h9.8zM707.0,395.2l-4.9,9.8h9.8zM721.3,396.6l-4.9,9.8h9.8zM729.8,399.5l-4.9,9.8h9.8zM732.6,403.7l-4.9,9.8h9.8zM726.9,412.3l-4.9,9.8h9.8zM735.5,423.6l-4.9,9.8h9.8zM706.3,427.9l-4.9,9.8h9.8zM706.3,432.2l-4.9,9.8h9.8zM717.7,435.0l-4.9,9.8h9.8zM717.7,439.3l-4.9,9.8h9.8zM710.6,446.4l-4.9,9.8h9.8zM754.7,375.3l-4.9,9.8h9.8zM763.9,381.7l-4.9,9.8h9.8zM749.7,403.7l-4.9,9.8h9.8zM754.0,406.6l-4.9,9.8h9.8zM754.0,415.8l-4.9,9.8h9.8zM758.9,424.3l-4.9,9.8h9.8zM781.0,399.5l-4.9,9.8h9.8zM796.6,399.5l-4.9,9.8h9.8zM841.5,367.4l-4.9,9.8h9.8zM830.8,396.6l-4.9,9.8h9.8zM829.4,403.7l-4.9,9.8h9.8zM842.2,403.7l-4.9,9.8h9.8zM842.2,409.4l-4.9,9.8h9.8zM815.1,408.0l-4.9,9.8h9.8zM805.2,412.3l-4.9,9.8h9.8zM788.1,416.5l-4.9,9.8h9.8zM778.2,422.2l-4.9,9.8h9.8zM863.5,440.7l-4.9,9.8h9.8zM869.2,447.8l-4.9,9.8h9.8zM878.6,461.6l-4.9,9.8h9.8zM868.4,462.7l-4.9,9.8h9.8zM909.7,482.6l-4.9,9.8h9.8zM905.4,495.4l-4.9,9.8h9.8zM908.3,502.6l-4.9,9.8h9.8zM906.9,512.5l-4.9,9.8h9.8zM909.7,526.7l-4.9,9.8h9.8zM871.3,560.9l-4.9,9.8h9.8zM871.3,563.7l-4.9,9.8h9.8zM726.2,517.9l-4.9,9.8h9.8zM784.2,450.1l-4.9,9.8h9.8zM728.7,468.1l-4.9,9.8h9.8zM726.3,458.8l-4.9,9.8h9.8zM771.2,508.7l-4.9,9.8h9.8zM788.9,454.1l-4.9,9.8h9.8zM835.2,409.6l-4.9,9.8h9.8zM821.6,440.5l-4.9,9.8h9.8zM757.8,507.3l-4.9,9.8h9.8zM743.0,477.6l-4.9,9.8h9.8zM796.1,451.0l-4.9,9.8h9.8zM800.9,458.0l-4.9,9.8h9.8zM758.4,478.1l-4.9,9.8h9.8zM750.3,476.7l-4.9,9.8h9.8zM782.9,514.8l-4.9,9.8h9.8zM806.6,440.3l-4.9,9.8h9.8zM835.7,418.7l-4.9,9.8h9.8zM770.5,499.9l-4.9,9.8h9.8zM739.6,465.8l-4.9,9.8h9.8zM810.7,476.5l-4.9,9.8h9.8zM823.6,443.5l-4.9,9.8h9.8zM789.3,461.6l-4.9,9.8h9.8zM777.0,488.0l-4.9,9.8h9.8zM817.3,439.8l-4.9,9.8h9.8zM766.8,488.6l-4.9,9.8h9.8zM767.4,514.4l-4.9,9.8h9.8zM731.3,460.7l-4.9,9.8h9.8zM785.7,515.9l-4.9,9.8h9.8zM754.3,456.4l-4.9,9.8h9.8zM763.6,516.0l-4.9,9.8h9.8zM833.1,422.9l-4.9,9.8h9.8zM749.1,465.3l-4.9,9.8h9.8zM790.3,437.1l-4.9,9.8h9.8zM764.8,475.6l-4.9,9.8h9.8zM781.8,482.1l-4.9,9.8h9.8zM826.3,502.8l-4.9,9.8h9.8zM823.4,505.0l-4.9,9.8h9.8zM733.8,449.9l-4.9,9.8h9.8zM751.3,447.8l-4.9,9.8h9.8zM776.1,465.1l-4.9,9.8h9.8zM818.1,424.2l-4.9,9.8h9.8zM822.1,492.1l-4.9,9.8h9.8zM752.3,450.3l-4.9,9.8h9.8zM783.8,502.6l-4.9,9.8h9.8zM820.9,506.1l-4.9,9.8h9.8zM816.9,497.7l-4.9,9.8h9.8zM748.3,469.4l-4.9,9.8h9.8zM833.0,460.5l-4.9,9.8h9.8zM832.8,450.0l-4.9,9.8h9.8zM819.5,464.6l-4.9,9.8h9.8zM827.5,503.1l-4.9,9.8h9.8zM809.0,464.4l-4.9,9.8h9.8zM760.6,505.4l-4.9,9.8h9.8zM768.6,523.9l-4.9,9.8h9.8zM806.1,425.3l-4.9,9.8h9.8zM827.0,506.1l-4.9,9.8h9.8zM762.6,473.4l-4.9,9.8h9.8zM783.1,522.3l-4.9,9.8h9.8zM772.3,514.4l-4.9,9.8h9.8zM817.8,430.5l-4.9,9.8h9.8zM749.9,478.2l-4.9,9.8h9.8zM752.1,456.9l-4.9,9.8h9.8zM763.0,461.9l-4.9,9.8h9.8zM789.7,518.5l-4.9,9.8h9.8zM770.8,520.3l-4.9,9.8h9.8zM780.2,471.2l-4.9,9.8h9.8zM742.0,463.8l-4.9,9.8h9.8zM806.1,474.4l-4.9,9.8h9.8zM759.8,469.5l-4.9,9.8h9.8zM786.4,503.3l-4.9,9.8h9.8zM811.6,468.2l-4.9,9.8h9.8zM787.2,500.2l-4.9,9.8h9.8zM827.8,460.0l-4.9,9.8h9.8zM793.1,467.9l-4.9,9.8h9.8zM781.4,491.7l-4.9,9.8h9.8zM774.5,471.4l-4.9,9.8h9.8zM777.5,523.3l-4.9,9.8h9.8zM831.3,436.7l-4.9,9.8h9.8zM786.9,523.5l-4.9,9.8h9.8zM819.4,421.1l-4.9,9.8h9.8zM736.1,459.8l-4.9,9.8h9.8zM798.6,421.9l-4.9,9.8h9.8zM768.2,465.6l-4.9,9.8h9.8zM740.7,458.5l-4.9,9.8h9.8zM781.8,446.8l-4.9,9.8h9.8zM744.7,444.2l-4.9,9.8h9.8zM786.3,459.6l-4.9,9.8h9.8zM794.4,468.8l-4.9,9.8h9.8zM771.0,519.4l-4.9,9.8h9.8zM817.0,436.5l-4.9,9.8h9.8zM788.2,492.7l-4.9,9.8h9.8zM801.8,457.7l-4.9,9.8h9.8zM786.2,521.4l-4.9,9.8h9.8zM783.1,434.0l-4.9,9.8h9.8zM810.1,440.5l-4.9,9.8h9.8zM807.0,473.7l-4.9,9.8h9.8zM744.0,464.0l-4.9,9.8h9.8zM830.4,417.2l-4.9,9.8h9.8zM817.0,458.6l-4.9,9.8h9.8zM779.4,509.7l-4.9,9.8h9.8zM767.6,468.0l-4.9,9.8h9.8zM761.8,509.4l-4.9,9.8h9.8zM823.0,488.9l-4.9,9.8h9.8zM756.0,462.1l-4.9,9.8h9.8zM740.3,460.3l-4.9,9.8h9.8zM752.5,525.8l-4.9,9.8h9.8zM750.4,526.3l-4.9,9.8h9.8zM757.9,449.0l-4.9,9.8h9.8zM777.1,467.6l-4.9,9.8h9.8zM745.3,467.8l-4.9,9.8h9.8zM732.4,454.4l-4.9,9.8h9.8zM789.9,470.9l-4.9,9.8h9.8zM836.2,422.7l-4.9,9.8h9.8zM825.5,483.4l-4.9,9.8h9.8zM738.2,470.2l-4.9,9.8h9.8zM780.5,509.7l-4.9,9.8h9.8zM789.8,517.1l-4.9,9.8h9.8zM737.4,449.5l-4.9,9.8h9.8zM786.8,483.4l-4.9,9.8h9.8zM794.6,490.1l-4.9,9.8h9.8zM780.3,471.7l-4.9,9.8h9.8zM807.5,435.7l-4.9,9.8h9.8zM806.6,429.8l-4.9,9.8h9.8zM779.3,452.3l-4.9,9.8h9.8zM777.6,490.5l-4.9,9.8h9.8zM808.2,442.4l-4.9,9.8h9.8zM800.4,440.6l-4.9,9.8h9.8zM781.9,462.7l-4.9,9.8h9.8zM825.7,429.0l-4.9,9.8h9.8zM746.4,477.5l-4.9,9.8h9.8zM738.4,470.3l-4.9,9.8h9.8zM832.5,420.5l-4.9,9.8h9.8zM817.1,468.3l-4.9,9.8h9.8zM824.9,493.0l-4.9,9.8h9.8zM738.3,447.4l-4.9,9.8h9.8zM758.7,510.4l-4.9,9.8h9.8zM819.3,418.9l-4.9,9.8h9.8zM826.6,440.5l-4.9,9.8h9.8zM763.8,458.1l-4.9,9.8h9.8zM755.1,522.5l-4.9,9.8h9.8zM765.3,525.1l-4.9,9.8h9.8zM824.6,506.8l-4.9,9.8h9.8zM831.1,473.5l-4.9,9.8h9.8zM807.0,461.0l-4.9,9.8h9.8zM829.5,419.9l-4.9,9.8h9.8zM776.8,447.3l-4.9,9.8h9.8zM835.3,436.7l-4.9,9.8h9.8zM798.1,441.9l-4.9,9.8h9.8zM786.6,453.8l-4.9,9.8h9.8zM779.7,431.6l-4.9,9.8h9.8zM788.1,516.4l-4.9,9.8h9.8zM809.0,456.1l-4.9,9.8h9.8zM770.0,470.3l-4.9,9.8h9.8zM834.3,419.7l-4.9,9.8h9.8zM780.4,483.7l-4.9,9.8h9.8zM822.1,431.1l-4.9,9.8h9.8zM825.9,463.8l-4.9,9.8h9.8zM767.4,521.4l-4.9,9.8h9.8zM834.8,435.3l-4.9,9.8h9.8zM782.6,490.3l-4.9,9.8h9.8zM775.0,473.7l-4.9,9.8h9.8zM796.9,442.3l-4.9,9.8h9.8zM795.8,492.4l-4.9,9.8h9.8zM782.8,477.7l-4.9,9.8h9.8zM757.0,462.2l-4.9,9.8h9.8zM824.5,464.1l-4.9,9.8h9.8zM779.8,489.4l-4.9,9.8h9.8zM761.2,457.1l-4.9,9.8h9.8zM801.2,428.9l-4.9,9.8h9.8zM780.6,429.8l-4.9,9.8h9.8zM834.5,443.3l-4.9,9.8h9.8zM817.1,433.0l-4.9,9.8h9.8zM756.2,524.6l-4.9,9.8h9.8zM747.9,456.7l-4.9,9.8h9.8zM739.0,453.7l-4.9,9.8h9.8zM729.0,453.7l-4.9,9.8h9.8zM830.1,445.5l-4.9,9.8h9.8zM799.1,451.8l-4.9,9.8h9.8zM754.5,448.3l-4.9,9.8h9.8zM832.8,419.4l-4.9,9.8h9.8zM833.9,430.0l-4.9,9.8h9.8zM763.4,508.0l-4.9,9.8h9.8zM817.4,458.6l-4.9,9.8h9.8zM727.7,463.8l-4.9,9.8h9.8zM765.2,520.5l-4.9,9.8h9.8zM744.4,450.0l-4.9,9.8h9.8zM769.7,506.8l-4.9,9.8h9.8zM828.7,436.3l-4.9,9.8h9.8zM828.3,484.2l-4.9,9.8h9.8zM831.4,406.8l-4.9,9.8h9.8zM749.1,464.0l-4.9,9.8h9.8zM771.9,466.4l-4.9,9.8h9.8zM829.7,426.9l-4.9,9.8h9.8zM817.4,501.8l-4.9,9.8h9.8zM792.4,445.3l-4.9,9.8h9.8zM812.7,413.7l-4.9,9.8h9.8zM759.8,528.2l-4.9,9.8h9.8zM733.2,467.0l-4.9,9.8h9.8zM804.3,460.5l-4.9,9.8h9.8zM749.2,456.6l-4.9,9.8h9.8zM794.0,489.3l-4.9,9.8h9.8zM819.5,441.0l-4.9,9.8h9.8zM787.8,451.1l-4.9,9.8h9.8zM807.6,429.0l-4.9,9.8h9.8zM789.1,445.1l-4.9,9.8h9.8zM767.9,529.7l-4.9,9.8h9.8zM780.8,433.1l-4.9,9.8h9.8zM815.8,486.7l-4.9,9.8h9.8zM837.0,416.7l-4.9,9.8h9.8zM777.1,507.7l-4.9,9.8h9.8zM829.9,451.0l-4.9,9.8h9.8zM822.5,460.7l-4.9,9.8h9.8zM831.7,417.1l-4.9,9.8h9.8zM791.2,482.4l-4.9,9.8h9.8zM747.2,450.5l-4.9,9.8h9.8zM751.6,479.8l-4.9,9.8h9.8zM797.6,429.5l-4.9,9.8h9.8zM800.7,427.2l-4.9,9.8h9.8zM814.3,473.3l-4.9,9.8h9.8zM767.9,473.6l-4.9,9.8h9.8zM757.7,524.8l-4.9,9.8h9.8zM758.2,475.6l-4.9,9.8h9.8zM763.4,456.6l-4.9,9.8h9.8zM806.5,429.6l-4.9,9.8h9.8zM771.2,507.9l-4.9,9.8h9.8zM769.1,515.8l-4.9,9.8h9.8zM765.0,467.8l-4.9,9.8h9.8zM738.9,439.7l-4.9,9.8h9.8zM782.5,521.2l-4.9,9.8h9.8zM734.6,466.0l-4.9,9.8h9.8zM829.4,453.0l-4.9,9.8h9.8zM826.9,482.5l-4.9,9.8h9.8zM817.6,424.1l-4.9,9.8h9.8zM813.2,431.9l-4.9,9.8h9.8zM768.9,511.2l-4.9,9.8h9.8zM818.2,426.9l-4.9,9.8h9.8zM747.3,454.5l-4.9,9.8h9.8zM782.1,452.4l-4.9,9.8h9.8zM819.2,418.7l-4.9,9.8h9.8zM791.5,473.6l-4.9,9.8h9.8zM794.7,442.6l-4.9,9.8h9.8zM770.7,477.7l-4.9,9.8h9.8zM771.4,487.4l-4.9,9.8h9.8zM773.8,459.4l-4.9,9.8h9.8zM778.8,433.6l-4.9,9.8h9.8zM736.9,458.4l-4.9,9.8h9.8zM732.6,459.8l-4.9,9.8h9.8zM780.5,451.7l-4.9,9.8h9.8zM832.3,421.0l-4.9,9.8h9.8zM779.1,525.2l-4.9,9.8h9.8zM828.3,424.7l-4.9,9.8h9.8zM729.6,448.3l-4.9,9.8h9.8zM809.7,423.9l-4.9,9.8h9.8zM826.0,438.6l-4.9,9.8h9.8zM816.6,421.9l-4.9,9.8h9.8zM780.3,520.5l-4.9,9.8h9.8zM780.7,444.2l-4.9,9.8h9.8zM735.3,471.1l-4.9,9.8h9.8zM795.8,449.4l-4.9,9.8h9.8zM823.3,474.2l-4.9,9.8h9.8zM789.3,515.8l-4.9,9.8h9.8zM795.1,453.8l-4.9,9.8h9.8zM814.5,437.3l-4.9,9.8h9.8zM763.8,500.8l-4.9,9.8h9.8zM817.1,435.9l-4.9,9.8h9.8zM790.0,488.0l-4.9,9.8h9.8zM793.5,458.6l-4.9,9.8h9.8zM781.5,517.4l-4.9,9.8h9.8zM734.3,449.1l-4.9,9.8h9.8zM748.0,477.8l-4.9,9.8h9.8zM790.3,429.6l-4.9,9.8h9.8zM794.4,464.0l-4.9,9.8h9.8zM823.1,503.0l-4.9,9.8h9.8zM787.2,448.2l-4.9,9.8h9.8zM796.9,460.1l-4.9,9.8h9.8zM750.8,518.4l-4.9,9.8h9.8zM831.1,421.8l-4.9,9.8h9.8zM745.1,480.9l-4.9,9.8h9.8zM780.8,485.2l-4.9,9.8h9.8zM816.4,425.9l-4.9,9.8h9.8zM808.4,462.8l-4.9,9.8h9.8zM808.0,461.2l-4.9,9.8h9.8zM760.9,498.9l-4.9,9.8h9.8zM804.6,437.5l-4.9,9.8h9.8zM786.2,459.1l-4.9,9.8h9.8zM813.5,470.2l-4.9,9.8h9.8zM752.8,485.2l-4.9,9.8h9.8zM834.0,431.3l-4.9,9.8h9.8zM808.6,445.2l-4.9,9.8h9.8zM824.1,445.4l-4.9,9.8h9.8zM749.7,519.0l-4.9,9.8h9.8zM795.2,491.7l-4.9,9.8h9.8zM776.5,510.3l-4.9,9.8h9.8zM772.7,495.7l-4.9,9.8h9.8zM788.2,442.8l-4.9,9.8h9.8zM746.6,482.8l-4.9,9.8h9.8zM764.2,507.5l-4.9,9.8h9.8zM820.3,506.8l-4.9,9.8h9.8zM795.3,440.2l-4.9,9.8h9.8zM809.9,429.7l-4.9,9.8h9.8zM759.0,457.5l-4.9,9.8h9.8zM820.8,482.2l-4.9,9.8h9.8zM725.6,456.1l-4.9,9.8h9.8zM772.6,501.9l-4.9,9.8h9.8zM762.2,493.2l-4.9,9.8h9.8zM784.4,431.2l-4.9,9.8h9.8zM822.0,415.2l-4.9,9.8h9.8zM817.1,425.3l-4.9,9.8h9.8zM779.0,504.9l-4.9,9.8h9.8zM743.4,466.5l-4.9,9.8h9.8zM762.3,509.3l-4.9,9.8h9.8zM752.2,523.6l-4.9,9.8h9.8zM803.1,467.0l-4.9,9.8h9.8zM794.8,448.9l-4.9,9.8h9.8zM825.3,414.6l-4.9,9.8h9.8zM826.5,467.4l-4.9,9.8h9.8zM766.0,516.0l-4.9,9.8h9.8zM749.1,462.2l-4.9,9.8h9.8zM783.7,499.5l-4.9,9.8h9.8zM741.7,459.4l-4.9,9.8h9.8zM811.7,477.3l-4.9,9.8h9.8zM736.6,462.4l-4.9,9.8h9.8zM824.7,433.9l-4.9,9.8h9.8zM744.2,442.0l-4.9,9.8h9.8zM750.7,445.2l-4.9,9.8h9.8zM733.8,452.5l-4.9,9.8h9.8zM807.1,458.9l-4.9,9.8h9.8zM768.3,504.2l-4.9,9.8h9.8zM802.4,467.3l-4.9,9.8h9.8zM795.4,462.5l-4.9,9.8h9.8zM768.9,497.8l-4.9,9.8h9.8zM827.3,458.3l-4.9,9.8h9.8zM788.6,498.8l-4.9,9.8h9.8zM820.9,490.0l-4.9,9.8h9.8zM796.4,461.3l-4.9,9.8h9.8zM758.3,483.5l-4.9,9.8h9.8zM733.4,457.0l-4.9,9.8h9.8zM795.0,435.5l-4.9,9.8h9.8zM794.1,455.7l-4.9,9.8h9.8zM812.3,453.1l-4.9,9.8h9.8zM778.8,527.5l-4.9,9.8h9.8zM831.1,469.6l-4.9,9.8h9.8zM784.8,494.8l-4.9,9.8h9.8zM781.4,484.9l-4.9,9.8h9.8zM818.2,470.0l-4.9,9.8h9.8zM769.6,524.1l-4.9,9.8h9.8zM767.5,500.6l-4.9,9.8h9.8zM753.8,454.5l-4.9,9.8h9.8zM770.8,492.4l-4.9,9.8h9.8zM831.0,470.6l-4.9,9.8h9.8zM815.9,484.3l-4.9,9.8h9.8zM776.4,475.1l-4.9,9.8h9.8zM763.0,484.8l-4.9,9.8h9.8zM818.7,448.8l-4.9,9.8h9.8zM820.7,437.7l-4.9,9.8h9.8zM757.0,464.6l-4.9,9.8h9.8zM771.7,484.6l-4.9,9.8h9.8zM798.5,449.7l-4.9,9.8h9.8zM829.7,512.2l-4.9,9.8h9.8zM827.1,503.3l-4.9,9.8h9.8zM798.1,435.5l-4.9,9.8h9.8zM826.9,504.2l-4.9,9.8h9.8zM792.6,502.9l-4.9,9.8h9.8zM783.6,497.9l-4.9,9.8h9.8zM772.9,515.8l-4.9,9.8h9.8zM786.4,437.3l-4.9,9.8h9.8zM779.0,467.0l-4.9,9.8h9.8zM784.6,513.3l-4.9,9.8h9.8zM776.3,475.1l-4.9,9.8h9.8zM833.4,413.3l-4.9,9.8h9.8zM795.9,484.5l-4.9,9.8h9.8zM760.3,528.4l-4.9,9.8h9.8zM781.2,465.3l-4.9,9.8h9.8zM761.3,513.1l-4.9,9.8h9.8zM764.5,464.0l-4.9,9.8h9.8zM783.0,501.6l-4.9,9.8h9.8zM746.4,459.0l-4.9,9.8h9.8zM771.0,474.1l-4.9,9.8h9.8zM817.9,440.9l-4.9,9.8h9.8zM818.0,455.0l-4.9,9.8h9.8zM780.4,438.2l-4.9,9.8h9.8zM780.7,527.5l-4.9,9.8h9.8zM756.7,478.2l-4.9,9.8h9.8zM824.7,473.0l-4.9,9.8h9.8zM828.9,481.0l-4.9,9.8h9.8zM827.5,481.4l-4.9,9.8h9.8zM793.5,483.3l-4.9,9.8h9.8zM801.0,430.7l-4.9,9.8h9.8zM799.4,461.9l-4.9,9.8h9.8zM810.5,416.6l-4.9,9.8h9.8zM798.1,450.5l-4.9,9.8h9.8zM817.4,503.6l-4.9,9.8h9.8zM787.2,436.5l-4.9,9.8h9.8zM757.0,457.3l-4.9,9.8h9.8zM758.9,458.4l-4.9,9.8h9.8zM816.0,476.8l-4.9,9.8h9.8zM828.6,460.4l-4.9,9.8h9.8zM723.6,452.9l-4.9,9.8h9.8zM796.8,430.7l-4.9,9.8h9.8zM805.4,434.5l-4.9,9.8h9.8zM807.1,427.5l-4.9,9.8h9.8zM794.9,493.8l-4.9,9.8h9.8zM775.4,522.1l-4.9,9.8h9.8zM751.5,526.2l-4.9,9.8h9.8zM816.8,413.8l-4.9,9.8h9.8zM758.1,496.3l-4.9,9.8h9.8zM764.6,476.7l-4.9,9.8h9.8zM772.9,489.7l-4.9,9.8h9.8zM764.1,485.6l-4.9,9.8h9.8zM795.0,456.8l-4.9,9.8h9.8zM766.7,503.6l-4.9,9.8h9.8zM787.8,440.8l-4.9,9.8h9.8zM760.5,480.6l-4.9,9.8h9.8zM791.7,442.9l-4.9,9.8h9.8zM771.7,516.5l-4.9,9.8h9.8zM765.7,490.7l-4.9,9.8h9.8zM791.8,517.5l-4.9,9.8h9.8zM815.7,439.7l-4.9,9.8h9.8zM771.0,478.2l-4.9,9.8h9.8zM788.3,438.5l-4.9,9.8h9.8zM820.7,506.2l-4.9,9.8h9.8zM786.2,505.0l-4.9,9.8h9.8zM830.1,433.4l-4.9,9.8h9.8zM792.4,489.8l-4.9,9.8h9.8zM813.8,462.1l-4.9,9.8h9.8zM811.6,433.3l-4.9,9.8h9.8zM789.2,517.6l-4.9,9.8h9.8zM824.7,470.0l-4.9,9.8h9.8zM777.3,478.5l-4.9,9.8h9.8zM764.1,475.4l-4.9,9.8h9.8zM768.7,469.4l-4.9,9.8h9.8zM813.3,423.5l-4.9,9.8h9.8zM791.3,447.5l-4.9,9.8h9.8zM822.5,465.5l-4.9,9.8h9.8zM787.8,436.9l-4.9,9.8h9.8zM812.4,457.8l-4.9,9.8h9.8zM786.7,514.3l-4.9,9.8h9.8zM775.2,524.0l-4.9,9.8h9.8zM827.6,411.9l-4.9,9.8h9.8zM791.4,454.2l-4.9,9.8h9.8zM751.8,475.4l-4.9,9.8h9.8zM799.7,453.6l-4.9,9.8h9.8zM751.7,448.4l-4.9,9.8h9.8zM800.5,441.6l-4.9,9.8h9.8zM790.6,500.0l-4.9,9.8h9.8zM734.2,444.8l-4.9,9.8h9.8zM805.2,428.5l-4.9,9.8h9.8zM738.2,460.5l-4.9,9.8h9.8zM819.7,483.5l-4.9,9.8h9.8zM817.5,464.3l-4.9,9.8h9.8zM804.8,474.0l-4.9,9.8h9.8zM753.4,488.8l-4.9,9.8h9.8zM738.6,485.7l-4.9,9.8h9.8zM729.6,480.4l-4.9,9.8h9.8zM748.8,486.2l-4.9,9.8h9.8zM752.1,489.2l-4.9,9.8h9.8zM753.1,500.9l-4.9,9.8h9.8zM722.2,473.2l-4.9,9.8h9.8zM744.0,498.9l-4.9,9.8h9.8zM730.2,480.7l-4.9,9.8h9.8zM744.1,512.3l-4.9,9.8h9.8zM752.3,504.4l-4.9,9.8h9.8zM727.3,471.8l-4.9,9.8h9.8zM749.0,493.4l-4.9,9.8h9.8zM752.2,488.8l-4.9,9.8h9.8zM756.3,497.7l-4.9,9.8h9.8zM734.1,478.0l-4.9,9.8h9.8zM737.3,500.2l-4.9,9.8h9.8zM740.0,501.1l-4.9,9.8h9.8zM726.5,474.2l-4.9,9.8h9.8zM742.6,500.6l-4.9,9.8h9.8zM728.4,399.7l-4.9,9.8h9.8zM732.2,404.7l-4.9,9.8h9.8zM727.0,408.7l-4.9,9.8h9.8zM732.2,412.4l-4.9,9.8h9.8zM725.8,415.0l-4.9,9.8h9.8zM734.8,425.2l-4.9,9.8h9.8zM730.0,406.7l-4.9,9.8h9.8zM729.0,402.7l-4.9,9.8h9.8zM733.0,408.7l-4.9,9.8h9.8zM731.0,415.7l-4.9,9.8h9.8zM728.0,419.7l-4.9,9.8h9.8zM736.0,427.7l-4.9,9.8h9.8zM733.0,420.7l-4.9,9.8h9.8zM738.0,431.7l-4.9,9.8h9.8zM730.0,439.7l-4.9,9.8h9.8zM737.0,436.7l-4.9,9.8h9.8zM741.0,431.7l-4.9,9.8h9.8zM726.0,444.7l-4.9,9.8h9.8zM733.0,442.7l-4.9,9.8h9.8zM714.3,455.9l-4.9,9.8h9.8zM716.0,461.7l-4.9,9.8h9.8zM720.0,465.7l-4.9,9.8h9.8zM723.0,457.7l-4.9,9.8h9.8zM726.0,453.7l-4.9,9.8h9.8zM805.9,491.6l-4.9,9.8h9.8zM841.4,427.2l-4.9,9.8h9.8zM882.4,532.0l-4.9,9.8h9.8zM900.0,542.8l-4.9,9.8h9.8zM856.0,457.3l-4.9,9.8h9.8zM898.3,539.3l-4.9,9.8h9.8zM899.1,530.1l-4.9,9.8h9.8zM909.8,542.4l-4.9,9.8h9.8zM856.7,469.6l-4.9,9.8h9.8zM870.5,481.4l-4.9,9.8h9.8zM839.6,429.5l-4.9,9.8h9.8zM898.7,535.3l-4.9,9.8h9.8zM878.7,541.0l-4.9,9.8h9.8zM860.9,501.6l-4.9,9.8h9.8zM858.1,475.9l-4.9,9.8h9.8zM847.3,428.4l-4.9,9.8h9.8zM860.0,467.4l-4.9,9.8h9.8zM880.8,502.1l-4.9,9.8h9.8zM853.1,510.6l-4.9,9.8h9.8zM872.6,487.5l-4.9,9.8h9.8zM854.6,482.5l-4.9,9.8h9.8zM866.7,492.9l-4.9,9.8h9.8zM860.2,519.3l-4.9,9.8h9.8zM871.0,514.1l-4.9,9.8h9.8zM846.2,441.7l-4.9,9.8h9.8zM849.6,457.6l-4.9,9.8h9.8zM864.4,505.6l-4.9,9.8h9.8zM884.2,530.4l-4.9,9.8h9.8zM893.4,515.2l-4.9,9.8h9.8zM896.9,510.3l-4.9,9.8h9.8zM875.3,546.4l-4.9,9.8h9.8zM896.8,533.6l-4.9,9.8h9.8zM867.3,488.6l-4.9,9.8h9.8zM897.0,530.3l-4.9,9.8h9.8zM851.8,452.9l-4.9,9.8h9.8zM901.3,528.7l-4.9,9.8h9.8zM870.0,539.0l-4.9,9.8h9.8zM838.8,416.4l-4.9,9.8h9.8zM864.8,494.2l-4.9,9.8h9.8zM845.4,462.9l-4.9,9.8h9.8zM868.1,489.4l-4.9,9.8h9.8zM881.1,534.6l-4.9,9.8h9.8zM871.0,498.4l-4.9,9.8h9.8zM877.8,525.6l-4.9,9.8h9.8zM850.8,454.9l-4.9,9.8h9.8zM899.5,550.3l-4.9,9.8h9.8zM849.7,450.9l-4.9,9.8h9.8zM885.3,495.3l-4.9,9.8h9.8zM868.9,521.5l-4.9,9.8h9.8zM861.0,507.8l-4.9,9.8h9.8zM875.3,488.3l-4.9,9.8h9.8zM858.0,501.5l-4.9,9.8h9.8zM847.1,432.0l-4.9,9.8h9.8zM845.5,433.9l-4.9,9.8h9.8zM877.2,526.6l-4.9,9.8h9.8zM884.0,524.2l-4.9,9.8h9.8zM850.7,447.6l-4.9,9.8h9.8zM881.7,546.0l-4.9,9.8h9.8zM871.0,497.8l-4.9,9.8h9.8zM907.8,531.1l-4.9,9.8h9.8zM883.2,546.0l-4.9,9.8h9.8zM875.2,544.6l-4.9,9.8h9.8zM856.2,465.1l-4.9,9.8h9.8zM874.3,522.3l-4.9,9.8h9.8zM852.3,450.0l-4.9,9.8h9.8zM844.9,448.0l-4.9,9.8h9.8zM871.2,528.5l-4.9,9.8h9.8zM864.5,512.3l-4.9,9.8h9.8zM876.5,486.7l-4.9,9.8h9.8zM858.3,519.3l-4.9,9.8h9.8zM866.9,503.1l-4.9,9.8h9.8zM862.1,503.8l-4.9,9.8h9.8zM865.1,480.8l-4.9,9.8h9.8zM859.2,467.0l-4.9,9.8h9.8zM904.2,532.0l-4.9,9.8h9.8zM847.9,449.0l-4.9,9.8h9.8zM868.9,503.3l-4.9,9.8h9.8zM893.1,510.9l-4.9,9.8h9.8zM841.0,415.4l-4.9,9.8h9.8zM850.2,437.8l-4.9,9.8h9.8zM860.7,463.8l-4.9,9.8h9.8zM870.6,506.9l-4.9,9.8h9.8zM900.6,520.0l-4.9,9.8h9.8zM841.6,444.4l-4.9,9.8h9.8zM894.1,527.4l-4.9,9.8h9.8zM893.4,527.6l-4.9,9.8h9.8zM870.1,482.4l-4.9,9.8h9.8zM890.7,524.1l-4.9,9.8h9.8zM857.6,487.3l-4.9,9.8h9.8zM891.0,504.9l-4.9,9.8h9.8zM863.0,525.5l-4.9,9.8h9.8zM879.1,517.7l-4.9,9.8h9.8zM895.5,527.7l-4.9,9.8h9.8zM846.6,450.8l-4.9,9.8h9.8zM842.5,449.6l-4.9,9.8h9.8zM852.8,509.3l-4.9,9.8h9.8zM862.3,476.2l-4.9,9.8h9.8zM885.1,542.5l-4.9,9.8h9.8zM851.9,500.3l-4.9,9.8h9.8zM901.4,541.3l-4.9,9.8h9.8zM900.3,515.1l-4.9,9.8h9.8zM865.6,488.0l-4.9,9.8h9.8zM865.7,527.8l-4.9,9.8h9.8zM880.5,498.9l-4.9,9.8h9.8zM905.9,543.9l-4.9,9.8h9.8zM849.8,452.2l-4.9,9.8h9.8zM901.1,531.2l-4.9,9.8h9.8zM859.2,503.7l-4.9,9.8h9.8zM863.4,472.0l-4.9,9.8h9.8zM888.0,527.0l-4.9,9.8h9.8zM860.2,472.6l-4.9,9.8h9.8zM862.3,475.1l-4.9,9.8h9.8zM902.9,548.1l-4.9,9.8h9.8zM860.3,490.8l-4.9,9.8h9.8zM863.8,535.4l-4.9,9.8h9.8zM840.1,436.5l-4.9,9.8h9.8zM865.9,492.2l-4.9,9.8h9.8zM869.2,485.0l-4.9,9.8h9.8zM846.6,435.3l-4.9,9.8h9.8zM874.7,488.4l-4.9,9.8h9.8zM855.0,491.0l-4.9,9.8h9.8zM871.0,532.3l-4.9,9.8h9.8zM879.3,511.2l-4.9,9.8h9.8zM855.8,462.6l-4.9,9.8h9.8zM854.0,452.3l-4.9,9.8h9.8zM906.8,533.3l-4.9,9.8h9.8zM863.6,518.1l-4.9,9.8h9.8zM889.0,526.9l-4.9,9.8h9.8zM847.2,462.7l-4.9,9.8h9.8zM893.3,544.3l-4.9,9.8h9.8zM879.2,523.7l-4.9,9.8h9.8zM852.5,473.1l-4.9,9.8h9.8zM851.9,488.4l-4.9,9.8h9.8zM859.8,507.3l-4.9,9.8h9.8zM889.7,524.5l-4.9,9.8h9.8zM875.6,533.7l-4.9,9.8h9.8zM843.7,456.5l-4.9,9.8h9.8zM850.7,461.0l-4.9,9.8h9.8zM873.1,491.6l-4.9,9.8h9.8zM841.4,430.4l-4.9,9.8h9.8zM858.5,480.7l-4.9,9.8h9.8zM857.7,490.5l-4.9,9.8h9.8zM877.6,545.6l-4.9,9.8h9.8zM880.0,519.2l-4.9,9.8h9.8zM903.4,519.7l-4.9,9.8h9.8zM885.5,499.8l-4.9,9.8h9.8zM897.6,533.6l-4.9,9.8h9.8zM860.8,518.1l-4.9,9.8h9.8zM844.0,435.1l-4.9,9.8h9.8zM881.5,549.9l-4.9,9.8h9.8zM864.8,519.7l-4.9,9.8h9.8zM870.1,533.0l-4.9,9.8h9.8zM850.3,447.8l-4.9,9.8h9.8zM883.2,532.4l-4.9,9.8h9.8zM893.0,546.5l-4.9,9.8h9.8zM898.7,534.0l-4.9,9.8h9.8zM852.1,485.9l-4.9,9.8h9.8zM862.5,516.1l-4.9,9.8h9.8zM863.1,479.9l-4.9,9.8h9.8zM884.0,512.5l-4.9,9.8h9.8zM878.4,493.3l-4.9,9.8h9.8zM879.6,503.0l-4.9,9.8h9.8zM891.4,518.1l-4.9,9.8h9.8zM895.9,548.5l-4.9,9.8h9.8zM877.2,543.3l-4.9,9.8h9.8zM873.7,502.8l-4.9,9.8h9.8zM840.1,428.7l-4.9,9.8h9.8zM849.2,434.9l-4.9,9.8h9.8zM893.3,540.5l-4.9,9.8h9.8zM868.1,532.4l-4.9,9.8h9.8zM868.7,540.2l-4.9,9.8h9.8zM857.7,471.3l-4.9,9.8h9.8zM854.2,490.6l-4.9,9.8h9.8zM894.4,526.5l-4.9,9.8h9.8zM859.2,456.8l-4.9,9.8h9.8zM874.4,536.2l-4.9,9.8h9.8zM881.4,535.1l-4.9,9.8h9.8zM865.0,520.4l-4.9,9.8h9.8zM845.3,433.7l-4.9,9.8h9.8zM891.7,534.9l-4.9,9.8h9.8zM848.2,470.5l-4.9,9.8h9.8zM864.5,480.2l-4.9,9.8h9.8zM868.6,488.7l-4.9,9.8h9.8zM889.6,502.4l-4.9,9.8h9.8zM878.8,487.6l-4.9,9.8h9.8zM889.8,549.2l-4.9,9.8h9.8zM883.6,541.2l-4.9,9.8h9.8zM857.1,496.4l-4.9,9.8h9.8zM901.2,521.0l-4.9,9.8h9.8zM882.4,551.0l-4.9,9.8h9.8zM855.6,499.1l-4.9,9.8h9.8zM877.5,496.7l-4.9,9.8h9.8zM854.7,496.7l-4.9,9.8h9.8zM873.5,512.2l-4.9,9.8h9.8zM872.5,500.7l-4.9,9.8h9.8zM900.1,536.7l-4.9,9.8h9.8zM866.6,527.9l-4.9,9.8h9.8zM849.5,445.4l-4.9,9.8h9.8zM845.7,460.3l-4.9,9.8h9.8zM873.9,523.1l-4.9,9.8h9.8zM853.1,490.7l-4.9,9.8h9.8zM842.3,435.0l-4.9,9.8h9.8zM885.7,531.7l-4.9,9.8h9.8zM853.1,469.8l-4.9,9.8h9.8zM868.6,501.7l-4.9,9.8h9.8zM866.9,491.9l-4.9,9.8h9.8zM865.9,504.2l-4.9,9.8h9.8zM873.5,536.1l-4.9,9.8h9.8zM871.0,479.5l-4.9,9.8h9.8zM876.4,526.8l-4.9,9.8h9.8zM888.3,514.8l-4.9,9.8h9.8zM895.7,519.0l-4.9,9.8h9.8zM846.9,441.0l-4.9,9.8h9.8zM845.6,422.2l-4.9,9.8h9.8zM869.3,492.6l-4.9,9.8h9.8zM863.1,483.3l-4.9,9.8h9.8zM841.8,452.9l-4.9,9.8h9.8zM903.0,523.6l-4.9,9.8h9.8zM841.8,454.3l-4.9,9.8h9.8zM858.5,522.7l-4.9,9.8h9.8zM859.9,510.6l-4.9,9.8h9.8zM872.1,542.4l-4.9,9.8h9.8zM871.4,534.4l-4.9,9.8h9.8zM888.5,505.5l-4.9,9.8h9.8zM845.6,423.2l-4.9,9.8h9.8zM896.8,544.7l-4.9,9.8h9.8zM869.1,503.3l-4.9,9.8h9.8zM898.0,548.9l-4.9,9.8h9.8zM866.5,500.7l-4.9,9.8h9.8zM854.8,487.2l-4.9,9.8h9.8zM859.8,459.1l-4.9,9.8h9.8zM874.4,532.4l-4.9,9.8h9.8zM844.6,429.5l-4.9,9.8h9.8zM882.9,547.1l-4.9,9.8h9.8zM863.0,473.5l-4.9,9.8h9.8zM856.6,515.1l-4.9,9.8h9.8zM879.4,521.6l-4.9,9.8h9.8zM862.9,529.3l-4.9,9.8h9.8zM875.2,485.8l-4.9,9.8h9.8zM850.3,485.7l-4.9,9.8h9.8zM852.8,467.0l-4.9,9.8h9.8zM875.6,536.2l-4.9,9.8h9.8zM874.6,522.0l-4.9,9.8h9.8zM880.8,507.5l-4.9,9.8h9.8zM855.2,516.2l-4.9,9.8h9.8zM849.5,447.2l-4.9,9.8h9.8zM882.6,521.0l-4.9,9.8h9.8zM856.4,494.8l-4.9,9.8h9.8zM884.4,507.9l-4.9,9.8h9.8zM856.4,513.9l-4.9,9.8h9.8zM896.4,538.6l-4.9,9.8h9.8zM852.9,498.5l-4.9,9.8h9.8zM901.4,521.4l-4.9,9.8h9.8zM900.1,542.8l-4.9,9.8h9.8zM900.4,523.6l-4.9,9.8h9.8zM899.9,521.1l-4.9,9.8h9.8zM874.9,538.7l-4.9,9.8h9.8zM889.4,510.6l-4.9,9.8h9.8zM867.4,521.0l-4.9,9.8h9.8zM886.9,528.4l-4.9,9.8h9.8zM863.5,494.2l-4.9,9.8h9.8zM900.7,522.3l-4.9,9.8h9.8zM839.2,425.4l-4.9,9.8h9.8zM864.5,529.6l-4.9,9.8h9.8zM844.6,448.2l-4.9,9.8h9.8zM887.6,524.3l-4.9,9.8h9.8zM851.8,448.3l-4.9,9.8h9.8zM883.8,536.6l-4.9,9.8h9.8zM867.6,480.7l-4.9,9.8h9.8zM872.1,524.6l-4.9,9.8h9.8zM856.8,459.7l-4.9,9.8h9.8zM871.3,545.7l-4.9,9.8h9.8zM865.1,503.6l-4.9,9.8h9.8zM877.2,505.8l-4.9,9.8h9.8zM871.6,516.4l-4.9,9.8h9.8zM909.5,536.3l-4.9,9.8h9.8zM867.4,515.8l-4.9,9.8h9.8zM891.2,507.8l-4.9,9.8h9.8zM881.1,527.0l-4.9,9.8h9.8zM848.5,483.0l-4.9,9.8h9.8zM860.3,464.1l-4.9,9.8h9.8zM913.3,563.3l-4.9,9.8h9.8zM913.6,562.9l-4.9,9.8h9.8zM915.8,574.7l-4.9,9.8h9.8zM915.8,574.7l-4.9,9.8h9.8zM924.0,579.1l-4.9,9.8h9.8zM923.8,579.1l-4.9,9.8h9.8zM925.3,593.0l-4.9,9.8h9.8zM925.2,593.7l-4.9,9.8h9.8zM932.3,610.1l-4.9,9.8h9.8zM932.5,610.8l-4.9,9.8h9.8zM932.3,651.8l-4.9,9.8h9.8zM932.9,651.3l-4.9,9.8h9.8zM934.2,653.1l-4.9,9.8h9.8zM934.6,652.9l-4.9,9.8h9.8zM940.5,665.7l-4.9,9.8h9.8zM940.6,665.8l-4.9,9.8h9.8zM955.8,712.3l-4.9,9.8h9.8zM956.1,712.0l-4.9,9.8h9.8zM951.6,718.1l-4.9,9.8h9.8zM951.8,717.9l-4.9,9.8h9.8zM956.6,721.4l-4.9,9.8h9.8zM957.0,721.4l-4.9,9.8h9.8zM958.3,727.2l-4.9,9.8h9.8zM958.5,727.9l-4.9,9.8h9.8zM957.4,735.5l-4.9,9.8h9.8zM957.1,734.8l-4.9,9.8h9.8zM960.7,745.5l-4.9,9.8h9.8zM961.3,745.5l-4.9,9.8h9.8zM965.7,758.7l-4.9,9.8h9.8zM965.9,759.2l-4.9,9.8h9.8zM972.4,758.7l-4.9,9.8h9.8zM972.9,758.5l-4.9,9.8h9.8zM979.0,765.4l-4.9,9.8h9.8zM979.7,765.2l-4.9,9.8h9.8zM982.3,768.7l-4.9,9.8h9.8zM982.6,769.2l-4.9,9.8h9.8zM974.9,778.6l-4.9,9.8h9.8zM974.7,778.5l-4.9,9.8h9.8zM981.5,778.6l-4.9,9.8h9.8zM981.3,778.4l-4.9,9.8h9.8zM984.8,777.0l-4.9,9.8h9.8zM984.7,777.5l-4.9,9.8h9.8zM981.5,783.6l-4.9,9.8h9.8zM980.9,784.3l-4.9,9.8h9.8zM982.3,710.6l-4.9,9.8h9.8zM982.7,710.7l-4.9,9.8h9.8zM983.2,716.4l-4.9,9.8h9.8zM983.4,716.1l-4.9,9.8h9.8zM996.4,722.2l-4.9,9.8h9.8zM996.8,722.7l-4.9,9.8h9.8zM997.3,724.7l-4.9,9.8h9.8zM997.1,724.7l-4.9,9.8h9.8zM986.5,733.8l-4.9,9.8h9.8zM986.1,733.5l-4.9,9.8h9.8zM989.0,740.5l-4.9,9.8h9.8zM989.5,740.7l-4.9,9.8h9.8zM997.3,756.2l-4.9,9.8h9.8zM997.2,756.4l-4.9,9.8h9.8zM1006.4,756.2l-4.9,9.8h9.8zM1006.0,755.5l-4.9,9.8h9.8zM996.4,767.0l-4.9,9.8h9.8zM996.2,767.1l-4.9,9.8h9.8zM997.3,773.7l-4.9,9.8h9.8zM996.9,773.8l-4.9,9.8h9.8zM996.4,776.2l-4.9,9.8h9.8zM996.2,775.9l-4.9,9.8h9.8zM1009.7,767.0l-4.9,9.8h9.8zM1010.0,766.8l-4.9,9.8h9.8zM1011.4,775.3l-4.9,9.8h9.8zM1011.7,775.6l-4.9,9.8h9.8zM1013.0,782.0l-4.9,9.8h9.8zM1012.8,781.3l-4.9,9.8h9.8zM1017.2,750.4l-4.9,9.8h9.8zM1017.7,750.5l-4.9,9.8h9.8zM1019.7,755.4l-4.9,9.8h9.8zM1019.8,755.7l-4.9,9.8h9.8zM1023.0,762.0l-4.9,9.8h9.8zM1023.1,762.6l-4.9,9.8h9.8zM1011.4,798.6l-4.9,9.8h9.8zM1010.7,799.3l-4.9,9.8h9.8zM1011.4,799.7l-4.9,9.8h9.8zM1011.6,799.6l-4.9,9.8h9.8zM1027.1,747.1l-4.9,9.8h9.8zM1027.7,747.7l-4.9,9.8h9.8zM1032.9,720.6l-4.9,9.8h9.8zM1033.0,719.9l-4.9,9.8h9.8zM1035.4,718.9l-4.9,9.8h9.8zM1035.6,718.8l-4.9,9.8h9.8zM1032.9,728.9l-4.9,9.8h9.8zM1033.0,729.4l-4.9,9.8h9.8zM1037.9,732.2l-4.9,9.8h9.8zM1037.4,732.7l-4.9,9.8h9.8zM1042.9,743.8l-4.9,9.8h9.8zM1042.6,743.5l-4.9,9.8h9.8zM1042.9,745.2l-4.9,9.8h9.8zM1042.3,744.6l-4.9,9.8h9.8zM1048.7,696.5l-4.9,9.8h9.8zM1048.4,696.5l-4.9,9.8h9.8zM1047.1,715.6l-4.9,9.8h9.8zM1047.7,715.1l-4.9,9.8h9.8zM1062.8,690.7l-4.9,9.8h9.8zM1062.5,690.5l-4.9,9.8h9.8zM1067.8,697.3l-4.9,9.8h9.8zM1068.0,697.1l-4.9,9.8h9.8zM1067.8,710.6l-4.9,9.8h9.8zM1068.0,710.1l-4.9,9.8h9.8zM1074.4,710.6l-4.9,9.8h9.8zM1073.8,710.7l-4.9,9.8h9.8zM1075.3,747.9l-4.9,9.8h9.8zM1075.6,747.4l-4.9,9.8h9.8zM1062.8,752.1l-4.9,9.8h9.8zM1062.2,752.3l-4.9,9.8h9.8zM1059.5,758.7l-4.9,9.8h9.8zM1058.9,759.3l-4.9,9.8h9.8zM1066.1,760.4l-4.9,9.8h9.8zM1066.4,759.9l-4.9,9.8h9.8zM1056.2,763.7l-4.9,9.8h9.8zM1056.1,763.1l-4.9,9.8h9.8zM1051.2,775.3l-4.9,9.8h9.8zM1050.6,775.1l-4.9,9.8h9.8zM1054.5,778.6l-4.9,9.8h9.8zM1055.0,779.2l-4.9,9.8h9.8zM1059.5,773.7l-4.9,9.8h9.8zM1059.9,773.9l-4.9,9.8h9.8zM1047.9,791.9l-4.9,9.8h9.8zM1048.0,791.9l-4.9,9.8h9.8zM1043.7,808.5l-4.9,9.8h9.8zM1043.9,808.5l-4.9,9.8h9.8zM1044.6,816.8l-4.9,9.8h9.8zM1044.5,817.3l-4.9,9.8h9.8zM1043.7,825.1l-4.9,9.8h9.8zM1043.4,825.0l-4.9,9.8h9.8zM1035.4,835.1l-4.9,9.8h9.8zM1035.7,835.7l-4.9,9.8h9.8zM1035.4,843.4l-4.9,9.8h9.8zM1035.2,843.3l-4.9,9.8h9.8zM1043.7,851.7l-4.9,9.8h9.8zM1043.6,851.3l-4.9,9.8h9.8zM1030.5,865.8l-4.9,9.8h9.8zM1030.3,866.2l-4.9,9.8h9.8zM1028.0,873.3l-4.9,9.8h9.8zM1027.6,873.3l-4.9,9.8h9.8zM1026.3,879.9l-4.9,9.8h9.8zM1026.0,880.0l-4.9,9.8h9.8zM1026.3,883.2l-4.9,9.8h9.8zM1026.7,882.7l-4.9,9.8h9.8zM1063.1,687.4l-4.9,9.8h9.8zM1063.1,687.0l-4.9,9.8h9.8zM1048.7,696.8l-4.9,9.8h9.8zM1048.9,697.0l-4.9,9.8h9.8zM1069.2,698.5l-4.9,9.8h9.8zM1068.8,698.1l-4.9,9.8h9.8zM1047.4,713.8l-4.9,9.8h9.8zM1047.1,713.6l-4.9,9.8h9.8zM1035.3,715.1l-4.9,9.8h9.8zM1035.8,715.6l-4.9,9.8h9.8zM1060.1,726.2l-4.9,9.8h9.8zM1060.5,726.1l-4.9,9.8h9.8zM1064.8,730.0l-4.9,9.8h9.8zM1064.7,729.6l-4.9,9.8h9.8zM1063.9,729.6l-4.9,9.8h9.8zM1063.8,730.3l-4.9,9.8h9.8zM1061.5,726.0l-4.9,9.8h9.8zM1060.9,725.8l-4.9,9.8h9.8zM1063.9,723.8l-4.9,9.8h9.8zM1063.5,724.3l-4.9,9.8h9.8zM1064.1,726.6l-4.9,9.8h9.8zM1063.8,726.5l-4.9,9.8h9.8zM1065.5,724.8l-4.9,9.8h9.8zM1064.9,725.0l-4.9,9.8h9.8zM1062.0,726.1l-4.9,9.8h9.8zM1062.0,726.5l-4.9,9.8h9.8zM1062.5,724.8l-4.9,9.8h9.8zM1062.8,725.2l-4.9,9.8h9.8zM1062.8,723.8l-4.9,9.8h9.8zM1062.5,723.4l-4.9,9.8h9.8zM1085.2,730.5l-4.9,9.8h9.8zM1085.3,729.9l-4.9,9.8h9.8zM1084.4,728.5l-4.9,9.8h9.8zM1085.0,728.8l-4.9,9.8h9.8zM1083.1,726.6l-4.9,9.8h9.8zM1083.1,726.4l-4.9,9.8h9.8zM1084.1,726.7l-4.9,9.8h9.8zM1083.5,726.8l-4.9,9.8h9.8zM1082.7,729.3l-4.9,9.8h9.8zM1083.1,728.8l-4.9,9.8h9.8zM1092.5,757.6l-4.9,9.8h9.8zM1089.1,767.5l-4.9,9.8h9.8zM1090.2,767.5l-4.9,9.8h9.8zM1084.9,766.0l-4.9,9.8h9.8zM1094.5,773.0l-4.9,9.8h9.8zM1094.3,792.7l-4.9,9.8h9.8zM1085.8,783.1l-4.9,9.8h9.8zM1090.8,759.7l-4.9,9.8h9.8zM1089.3,779.9l-4.9,9.8h9.8zM1091.4,769.0l-4.9,9.8h9.8zM1094.7,786.7l-4.9,9.8h9.8zM1094.4,769.8l-4.9,9.8h9.8zM1092.0,799.3l-4.9,9.8h9.8zM1094.3,757.4l-4.9,9.8h9.8zM1093.7,766.9l-4.9,9.8h9.8zM1093.2,790.1l-4.9,9.8h9.8zM1088.5,801.5l-4.9,9.8h9.8zM1093.2,806.4l-4.9,9.8h9.8zM1095.4,784.1l-4.9,9.8h9.8zM1092.3,789.2l-4.9,9.8h9.8zM1087.6,780.1l-4.9,9.8h9.8zM1089.1,765.1l-4.9,9.8h9.8zM1085.7,798.5l-4.9,9.8h9.8zM1093.8,790.7l-4.9,9.8h9.8zM1091.6,780.7l-4.9,9.8h9.8zM1090.0,789.0l-4.9,9.8h9.8zM1088.5,757.8l-4.9,9.8h9.8zM1085.6,797.4l-4.9,9.8h9.8zM1093.2,799.7l-4.9,9.8h9.8zM1085.6,803.1l-4.9,9.8h9.8zM1087.2,777.6l-4.9,9.8h9.8zM1095.3,782.6l-4.9,9.8h9.8zM1091.5,759.6l-4.9,9.8h9.8zM1083.5,797.4l-4.9,9.8h9.8zM1085.5,804.5l-4.9,9.8h9.8zM1091.5,763.9l-4.9,9.8h9.8zM1092.0,770.6l-4.9,9.8h9.8zM1089.4,757.7l-4.9,9.8h9.8zM1093.7,795.4l-4.9,9.8h9.8zM1090.1,790.3l-4.9,9.8h9.8zM1086.8,760.5l-4.9,9.8h9.8zM1086.6,792.9l-4.9,9.8h9.8zM1089.9,760.8l-4.9,9.8h9.8zM1085.4,778.9l-4.9,9.8h9.8zM1088.3,760.8l-4.9,9.8h9.8zM1094.4,760.5l-4.9,9.8h9.8zM1092.5,795.8l-4.9,9.8h9.8zM1086.4,782.4l-4.9,9.8h9.8zM1087.4,805.4l-4.9,9.8h9.8zM1085.6,804.3l-4.9,9.8h9.8zM1086.3,776.0l-4.9,9.8h9.8zM1086.4,788.3l-4.9,9.8h9.8zM1094.4,790.2l-4.9,9.8h9.8zM1084.5,806.2l-4.9,9.8h9.8zM1092.1,780.5l-4.9,9.8h9.8zM1093.9,759.4l-4.9,9.8h9.8zM1090.4,795.4l-4.9,9.8h9.8zM1092.9,789.4l-4.9,9.8h9.8zM1082.9,779.1l-4.9,9.8h9.8zM1085.8,785.9l-4.9,9.8h9.8zM1087.6,777.9l-4.9,9.8h9.8zM1089.5,784.9l-4.9,9.8h9.8zM1094.5,768.7l-4.9,9.8h9.8zM1085.8,763.5l-4.9,9.8h9.8zM1083.6,798.7l-4.9,9.8h9.8zM1094.9,760.4l-4.9,9.8h9.8zM1087.0,801.6l-4.9,9.8h9.8zM1094.1,805.6l-4.9,9.8h9.8zM1085.6,778.8l-4.9,9.8h9.8zM1091.5,761.9l-4.9,9.8h9.8zM1083.7,771.2l-4.9,9.8h9.8zM1083.4,796.1l-4.9,9.8h9.8zM1094.3,756.0l-4.9,9.8h9.8zM1093.3,798.4l-4.9,9.8h9.8zM1091.1,769.6l-4.9,9.8h9.8zM1093.5,758.0l-4.9,9.8h9.8zM1085.1,802.2l-4.9,9.8h9.8zM1092.6,756.2l-4.9,9.8h9.8zM1083.3,788.0l-4.9,9.8h9.8zM1084.0,789.0l-4.9,9.8h9.8zM1091.4,766.0l-4.9,9.8h9.8zM1088.7,764.9l-4.9,9.8h9.8zM1094.2,787.1l-4.9,9.8h9.8zM1091.7,786.6l-4.9,9.8h9.8zM1092.9,781.0l-4.9,9.8h9.8zM1090.3,779.8l-4.9,9.8h9.8zM1092.6,782.0l-4.9,9.8h9.8zM1085.9,781.1l-4.9,9.8h9.8zM1089.3,799.8l-4.9,9.8h9.8zM1092.1,764.8l-4.9,9.8h9.8zM1089.1,784.6l-4.9,9.8h9.8zM1090.1,778.1l-4.9,9.8h9.8zM1089.1,790.2l-4.9,9.8h9.8zM1094.3,781.0l-4.9,9.8h9.8zM1093.0,789.7l-4.9,9.8h9.8zM1086.4,772.5l-4.9,9.8h9.8zM1088.9,769.3l-4.9,9.8h9.8zM1087.2,790.8l-4.9,9.8h9.8zM1094.9,762.2l-4.9,9.8h9.8zM1090.8,804.5l-4.9,9.8h9.8zM1087.3,800.2l-4.9,9.8h9.8zM1093.3,770.7l-4.9,9.8h9.8zM1084.0,796.4l-4.9,9.8h9.8zM1087.8,772.3l-4.9,9.8h9.8zM1088.5,792.3l-4.9,9.8h9.8zM1094.5,802.3l-4.9,9.8h9.8zM1092.7,763.0l-4.9,9.8h9.8zM1084.8,771.7l-4.9,9.8h9.8zM1084.5,778.9l-4.9,9.8h9.8zM1083.8,788.3l-4.9,9.8h9.8zM1087.8,766.8l-4.9,9.8h9.8zM1091.6,771.1l-4.9,9.8h9.8zM1092.6,800.2l-4.9,9.8h9.8zM1086.1,767.7l-4.9,9.8h9.8zM1091.7,761.5l-4.9,9.8h9.8zM1095.5,788.3l-4.9,9.8h9.8zM1089.7,756.4l-4.9,9.8h9.8zM1086.0,776.1l-4.9,9.8h9.8zM1090.3,757.8l-4.9,9.8h9.8zM1095.6,793.3l-4.9,9.8h9.8zM1093.4,793.4l-4.9,9.8h9.8zM1084.5,766.5l-4.9,9.8h9.8zM1082.5,782.9l-4.9,9.8h9.8zM1084.4,802.5l-4.9,9.8h9.8zM1093.1,768.8l-4.9,9.8h9.8zM1084.0,773.9l-4.9,9.8h9.8zM1093.3,758.9l-4.9,9.8h9.8zM1093.0,782.5l-4.9,9.8h9.8zM1093.2,771.5l-4.9,9.8h9.8zM1092.1,780.6l-4.9,9.8h9.8zM1092.7,764.2l-4.9,9.8h9.8zM1085.9,764.9l-4.9,9.8h9.8zM1093.9,791.0l-4.9,9.8h9.8zM1084.2,792.2l-4.9,9.8h9.8zM1085.6,794.2l-4.9,9.8h9.8zM1092.1,789.9l-4.9,9.8h9.8zM1091.0,790.5l-4.9,9.8h9.8zM1094.6,772.8l-4.9,9.8h9.8zM1089.3,788.2l-4.9,9.8h9.8zM1095.0,788.1l-4.9,9.8h9.8zM1077.2,789.2l-4.9,9.8h9.8zM1077.5,779.3l-4.9,9.8h9.8zM1075.4,778.7l-4.9,9.8h9.8zM1074.2,776.4l-4.9,9.8h9.8zM1079.5,792.5l-4.9,9.8h9.8zM1076.6,791.4l-4.9,9.8h9.8zM1073.3,782.1l-4.9,9.8h9.8zM1079.4,789.6l-4.9,9.8h9.8zM1075.9,772.4l-4.9,9.8h9.8zM1081.6,784.8l-4.9,9.8h9.8zM1078.5,777.4l-4.9,9.8h9.8zM1073.1,783.7l-4.9,9.8h9.8zM1076.0,792.6l-4.9,9.8h9.8zM1078.6,788.9l-4.9,9.8h9.8zM1077.7,788.8l-4.9,9.8h9.8zM1073.3,795.6l-4.9,9.8h9.8zM1077.8,784.4l-4.9,9.8h9.8zM1079.1,788.0l-4.9,9.8h9.8zM1078.7,774.8l-4.9,9.8h9.8zM1076.9,789.2l-4.9,9.8h9.8zM1078.4,793.2l-4.9,9.8h9.8zM1072.9,789.4l-4.9,9.8h9.8zM1072.1,785.2l-4.9,9.8h9.8zM1076.2,786.4l-4.9,9.8h9.8zM1080.7,769.9l-4.9,9.8h9.8zM1077.1,790.0l-4.9,9.8h9.8zM1073.2,792.7l-4.9,9.8h9.8zM1081.4,777.3l-4.9,9.8h9.8zM1074.2,779.4l-4.9,9.8h9.8zM1079.1,793.9l-4.9,9.8h9.8zM1077.6,794.4l-4.9,9.8h9.8zM1076.3,786.1l-4.9,9.8h9.8zM1072.0,779.4l-4.9,9.8h9.8zM1080.1,770.9l-4.9,9.8h9.8zM1075.0,782.4l-4.9,9.8h9.8zM1101.3,708.4l-4.9,9.8h9.8zM1098.0,722.6l-4.9,9.8h9.8zM1098.2,709.5l-4.9,9.8h9.8zM1111.7,665.9l-4.9,9.8h9.8zM1102.4,709.7l-4.9,9.8h9.8zM1108.6,670.4l-4.9,9.8h9.8zM1092.9,747.0l-4.9,9.8h9.8zM1104.3,684.6l-4.9,9.8h9.8zM1102.5,694.4l-4.9,9.8h9.8zM1103.6,698.4l-4.9,9.8h9.8zM1101.1,702.7l-4.9,9.8h9.8zM1096.0,729.7l-4.9,9.8h9.8zM1107.1,678.4l-4.9,9.8h9.8zM1107.9,679.6l-4.9,9.8h9.8zM1099.8,728.2l-4.9,9.8h9.8zM1113.1,667.5l-4.9,9.8h9.8zM1100.9,712.4l-4.9,9.8h9.8zM1102.1,700.6l-4.9,9.8h9.8zM1095.4,728.8l-4.9,9.8h9.8zM1109.9,675.4l-4.9,9.8h9.8zM1099.2,714.5l-4.9,9.8h9.8zM1101.0,711.8l-4.9,9.8h9.8zM1097.7,734.5l-4.9,9.8h9.8zM1100.9,701.5l-4.9,9.8h9.8zM1110.2,672.7l-4.9,9.8h9.8zM1108.9,675.2l-4.9,9.8h9.8zM1092.7,738.6l-4.9,9.8h9.8zM1094.4,740.1l-4.9,9.8h9.8zM1105.0,681.8l-4.9,9.8h9.8zM1097.5,736.7l-4.9,9.8h9.8zM1102.3,692.3l-4.9,9.8h9.8zM1094.4,750.0l-4.9,9.8h9.8zM1095.1,747.1l-4.9,9.8h9.8zM1100.9,715.0l-4.9,9.8h9.8zM1101.6,700.0l-4.9,9.8h9.8zM1098.7,714.8l-4.9,9.8h9.8zM1108.8,672.7l-4.9,9.8h9.8zM1108.9,676.7l-4.9,9.8h9.8zM1108.7,673.2l-4.9,9.8h9.8zM1099.6,717.1l-4.9,9.8h9.8zM1099.2,718.3l-4.9,9.8h9.8zM1096.5,724.4l-4.9,9.8h9.8zM1103.5,698.8l-4.9,9.8h9.8zM1098.8,713.5l-4.9,9.8h9.8zM1104.8,688.2l-4.9,9.8h9.8zM1095.0,733.0l-4.9,9.8h9.8zM1096.2,738.3l-4.9,9.8h9.8zM1111.2,662.2l-4.9,9.8h9.8zM1094.8,746.8l-4.9,9.8h9.8zM1102.8,707.5l-4.9,9.8h9.8zM1102.1,711.2l-4.9,9.8h9.8zM1112.2,666.8l-4.9,9.8h9.8zM1093.7,752.6l-4.9,9.8h9.8zM1095.1,736.5l-4.9,9.8h9.8zM1112.4,664.3l-4.9,9.8h9.8zM1097.0,739.6l-4.9,9.8h9.8zM1097.0,740.7l-4.9,9.8h9.8zM1110.6,665.5l-4.9,9.8h9.8zM1109.5,675.0l-4.9,9.8h9.8zM1100.7,713.9l-4.9,9.8h9.8zM1112.8,665.3l-4.9,9.8h9.8zM1104.8,702.0l-4.9,9.8h9.8zM1107.0,680.5l-4.9,9.8h9.8zM1098.0,716.3l-4.9,9.8h9.8zM1095.7,730.7l-4.9,9.8h9.8zM1098.9,721.1l-4.9,9.8h9.8zM1102.6,707.1l-4.9,9.8h9.8zM1103.1,697.0l-4.9,9.8h9.8zM1092.3,746.7l-4.9,9.8h9.8zM1093.8,747.6l-4.9,9.8h9.8zM1269.5,494.6l-4.9,9.8h9.8zM1269.5,495.2l-4.9,9.8h9.8zM1263.4,527.5l-4.9,9.8h9.8zM1268.5,540.3l-4.9,9.8h9.8zM1248.8,681.9l-4.9,9.8h9.8zM1263.1,703.4l-4.9,9.8h9.8zM1260.8,742.1l-4.9,9.8h9.8zM1265.7,661.8l-4.9,9.8h9.8zM1262.3,708.7l-4.9,9.8h9.8zM1272.2,708.9l-4.9,9.8h9.8zM1254.7,645.2l-4.9,9.8h9.8zM1265.9,661.2l-4.9,9.8h9.8zM1245.6,707.6l-4.9,9.8h9.8zM1262.2,575.0l-4.9,9.8h9.8zM1277.9,655.7l-4.9,9.8h9.8zM1273.5,692.9l-4.9,9.8h9.8zM1269.0,728.3l-4.9,9.8h9.8zM1251.3,671.8l-4.9,9.8h9.8zM1265.8,635.1l-4.9,9.8h9.8zM1262.9,545.2l-4.9,9.8h9.8zM1265.3,594.2l-4.9,9.8h9.8zM1250.8,624.1l-4.9,9.8h9.8zM1251.4,636.8l-4.9,9.8h9.8zM1251.3,691.9l-4.9,9.8h9.8zM1247.8,738.6l-4.9,9.8h9.8zM1248.2,674.6l-4.9,9.8h9.8zM1274.1,640.7l-4.9,9.8h9.8zM1272.7,726.8l-4.9,9.8h9.8zM1279.5,715.1l-4.9,9.8h9.8zM1261.8,646.6l-4.9,9.8h9.8zM1258.6,740.5l-4.9,9.8h9.8zM1271.6,630.8l-4.9,9.8h9.8zM1249.1,616.8l-4.9,9.8h9.8zM1256.2,735.2l-4.9,9.8h9.8zM1261.2,740.2l-4.9,9.8h9.8zM1275.3,663.6l-4.9,9.8h9.8zM1255.9,712.0l-4.9,9.8h9.8zM1261.5,742.4l-4.9,9.8h9.8zM1266.5,734.3l-4.9,9.8h9.8zM1271.6,690.5l-4.9,9.8h9.8zM1271.5,697.3l-4.9,9.8h9.8zM1247.6,653.2l-4.9,9.8h9.8zM1249.1,714.8l-4.9,9.8h9.8zM1261.0,744.8l-4.9,9.8h9.8zM1273.3,629.6l-4.9,9.8h9.8zM1252.0,629.3l-4.9,9.8h9.8zM1268.4,717.6l-4.9,9.8h9.8zM1245.9,677.6l-4.9,9.8h9.8zM1271.5,674.1l-4.9,9.8h9.8zM1275.9,707.6l-4.9,9.8h9.8zM1269.1,709.5l-4.9,9.8h9.8zM1249.8,734.7l-4.9,9.8h9.8zM1270.7,561.9l-4.9,9.8h9.8zM1251.5,672.9l-4.9,9.8h9.8zM1256.8,732.9l-4.9,9.8h9.8zM1255.7,641.3l-4.9,9.8h9.8zM1264.4,733.5l-4.9,9.8h9.8zM1256.7,723.8l-4.9,9.8h9.8zM1272.8,658.2l-4.9,9.8h9.8zM1281.4,722.1l-4.9,9.8h9.8zM1273.9,653.5l-4.9,9.8h9.8zM1270.1,566.4l-4.9,9.8h9.8zM1269.8,613.1l-4.9,9.8h9.8zM1259.9,709.7l-4.9,9.8h9.8zM1277.4,694.5l-4.9,9.8h9.8zM1262.2,651.5l-4.9,9.8h9.8zM1268.4,558.7l-4.9,9.8h9.8zM1249.5,676.5l-4.9,9.8h9.8zM1252.6,695.7l-4.9,9.8h9.8zM1271.4,576.3l-4.9,9.8h9.8zM1280.0,745.3l-4.9,9.8h9.8zM1270.3,742.1l-4.9,9.8h9.8zM1275.8,638.7l-4.9,9.8h9.8zM1276.7,733.2l-4.9,9.8h9.8zM1271.8,559.7l-4.9,9.8h9.8zM1259.3,685.6l-4.9,9.8h9.8zM1262.6,571.3l-4.9,9.8h9.8zM1263.3,562.8l-4.9,9.8h9.8zM1273.0,585.9l-4.9,9.8h9.8zM1269.3,673.3l-4.9,9.8h9.8zM1252.7,670.0l-4.9,9.8h9.8zM1266.1,667.7l-4.9,9.8h9.8zM1252.1,639.5l-4.9,9.8h9.8zM1277.2,668.2l-4.9,9.8h9.8zM1254.4,610.5l-4.9,9.8h9.8zM1263.4,646.9l-4.9,9.8h9.8zM1249.1,713.6l-4.9,9.8h9.8zM1262.5,601.9l-4.9,9.8h9.8zM1262.4,553.3l-4.9,9.8h9.8zM1248.1,710.9l-4.9,9.8h9.8zM1274.2,582.7l-4.9,9.8h9.8zM1257.2,648.5l-4.9,9.8h9.8zM1274.0,645.4l-4.9,9.8h9.8zM1277.6,745.3l-4.9,9.8h9.8zM1266.8,551.5l-4.9,9.8h9.8zM1250.2,679.2l-4.9,9.8h9.8zM1250.0,725.2l-4.9,9.8h9.8zM1266.4,663.7l-4.9,9.8h9.8zM1249.6,610.8l-4.9,9.8h9.8zM1259.2,692.5l-4.9,9.8h9.8zM1275.1,683.7l-4.9,9.8h9.8zM1252.0,636.4l-4.9,9.8h9.8zM1258.4,667.7l-4.9,9.8h9.8zM1271.6,636.3l-4.9,9.8h9.8zM1265.4,713.3l-4.9,9.8h9.8zM1248.7,664.1l-4.9,9.8h9.8zM1257.2,696.0l-4.9,9.8h9.8zM1272.5,627.1l-4.9,9.8h9.8zM1250.9,697.9l-4.9,9.8h9.8zM1272.0,657.1l-4.9,9.8h9.8zM1273.7,735.3l-4.9,9.8h9.8zM1254.4,682.7l-4.9,9.8h9.8zM1275.1,617.9l-4.9,9.8h9.8zM1262.6,661.9l-4.9,9.8h9.8zM1276.0,627.2l-4.9,9.8h9.8zM1265.1,572.1l-4.9,9.8h9.8zM1251.6,601.7l-4.9,9.8h9.8zM1246.8,658.4l-4.9,9.8h9.8zM1268.9,623.0l-4.9,9.8h9.8zM1275.7,653.5l-4.9,9.8h9.8zM1271.3,560.0l-4.9,9.8h9.8zM1251.2,715.2l-4.9,9.8h9.8zM1250.2,663.7l-4.9,9.8h9.8zM1259.5,679.2l-4.9,9.8h9.8zM1278.6,711.1l-4.9,9.8h9.8zM1282.1,738.8l-4.9,9.8h9.8zM1260.3,743.3l-4.9,9.8h9.8zM1274.4,599.1l-4.9,9.8h9.8zM1257.6,649.0l-4.9,9.8h9.8zM1279.3,678.8l-4.9,9.8h9.8zM1267.8,625.3l-4.9,9.8h9.8zM1259.7,625.1l-4.9,9.8h9.8zM1272.6,632.6l-4.9,9.8h9.8zM1272.5,720.6l-4.9,9.8h9.8zM1261.5,664.5l-4.9,9.8h9.8zM1256.1,721.5l-4.9,9.8h9.8zM1273.9,594.8l-4.9,9.8h9.8zM1260.5,627.3l-4.9,9.8h9.8zM1272.3,600.5l-4.9,9.8h9.8zM1258.7,645.0l-4.9,9.8h9.8zM1254.1,629.8l-4.9,9.8h9.8zM1273.8,645.1l-4.9,9.8h9.8zM1267.0,589.7l-4.9,9.8h9.8zM1259.9,656.3l-4.9,9.8h9.8zM1259.0,579.8l-4.9,9.8h9.8zM1266.3,653.3l-4.9,9.8h9.8zM1260.8,669.8l-4.9,9.8h9.8zM1274.0,621.8l-4.9,9.8h9.8zM1257.5,682.8l-4.9,9.8h9.8zM1266.9,728.1l-4.9,9.8h9.8zM1251.2,612.4l-4.9,9.8h9.8zM1271.6,726.8l-4.9,9.8h9.8zM1263.0,702.6l-4.9,9.8h9.8zM1249.2,672.5l-4.9,9.8h9.8zM1257.7,683.5l-4.9,9.8h9.8zM1255.4,689.6l-4.9,9.8h9.8zM1272.4,728.0l-4.9,9.8h9.8zM1272.6,642.0l-4.9,9.8h9.8zM1262.1,548.9l-4.9,9.8h9.8zM1253.7,694.6l-4.9,9.8h9.8zM1262.7,721.7l-4.9,9.8h9.8zM1276.1,651.1l-4.9,9.8h9.8zM1260.4,651.0l-4.9,9.8h9.8zM1247.1,719.5l-4.9,9.8h9.8zM1250.8,660.5l-4.9,9.8h9.8zM1255.4,620.2l-4.9,9.8h9.8zM1262.9,601.5l-4.9,9.8h9.8zM1251.6,678.1l-4.9,9.8h9.8zM1269.1,559.1l-4.9,9.8h9.8zM1253.6,599.8l-4.9,9.8h9.8zM1259.0,642.2l-4.9,9.8h9.8zM1267.1,669.4l-4.9,9.8h9.8zM1254.9,614.8l-4.9,9.8h9.8zM1262.1,722.8l-4.9,9.8h9.8zM1274.9,640.1l-4.9,9.8h9.8zM1247.7,615.3l-4.9,9.8h9.8zM1260.0,672.4l-4.9,9.8h9.8zM1246.6,674.3l-4.9,9.8h9.8zM1271.4,565.6l-4.9,9.8h9.8zM1261.1,716.5l-4.9,9.8h9.8zM1255.1,650.3l-4.9,9.8h9.8zM1258.3,654.9l-4.9,9.8h9.8zM1260.1,612.6l-4.9,9.8h9.8zM1263.0,616.9l-4.9,9.8h9.8zM1271.2,578.6l-4.9,9.8h9.8zM1265.9,597.4l-4.9,9.8h9.8zM1258.1,654.6l-4.9,9.8h9.8zM1276.7,657.7l-4.9,9.8h9.8zM1268.8,571.1l-4.9,9.8h9.8zM1277.0,672.7l-4.9,9.8h9.8zM1270.0,604.4l-4.9,9.8h9.8zM1274.4,649.7l-4.9,9.8h9.8zM1257.3,744.0l-4.9,9.8h9.8zM1274.7,680.5l-4.9,9.8h9.8zM1277.3,684.0l-4.9,9.8h9.8zM1259.8,736.6l-4.9,9.8h9.8zM1261.7,644.3l-4.9,9.8h9.8zM1246.8,723.2l-4.9,9.8h9.8zM1277.0,663.4l-4.9,9.8h9.8zM1262.9,705.8l-4.9,9.8h9.8zM1254.6,666.1l-4.9,9.8h9.8zM1258.6,665.9l-4.9,9.8h9.8zM1262.0,548.8l-4.9,9.8h9.8zM1257.4,638.8l-4.9,9.8h9.8zM1267.1,587.8l-4.9,9.8h9.8zM1269.9,672.5l-4.9,9.8h9.8zM1246.2,706.6l-4.9,9.8h9.8zM1255.6,693.9l-4.9,9.8h9.8zM1276.3,704.3l-4.9,9.8h9.8zM1246.0,661.8l-4.9,9.8h9.8zM1277.8,671.0l-4.9,9.8h9.8zM1268.3,629.1l-4.9,9.8h9.8zM1276.7,651.0l-4.9,9.8h9.8zM1258.5,643.4l-4.9,9.8h9.8zM1263.2,580.7l-4.9,9.8h9.8zM1270.9,712.1l-4.9,9.8h9.8zM1260.6,698.3l-4.9,9.8h9.8zM1250.0,645.3l-4.9,9.8h9.8zM1271.3,651.1l-4.9,9.8h9.8zM1272.1,576.5l-4.9,9.8h9.8zM1268.1,649.2l-4.9,9.8h9.8zM1272.8,565.4l-4.9,9.8h9.8zM1272.7,619.5l-4.9,9.8h9.8zM1272.0,684.4l-4.9,9.8h9.8zM1260.7,735.0l-4.9,9.8h9.8zM1261.9,637.5l-4.9,9.8h9.8zM1272.5,573.4l-4.9,9.8h9.8zM1249.8,662.6l-4.9,9.8h9.8zM1254.3,632.0l-4.9,9.8h9.8zM1252.7,689.7l-4.9,9.8h9.8zM1273.4,682.0l-4.9,9.8h9.8zM1267.4,559.2l-4.9,9.8h9.8zM1272.6,653.8l-4.9,9.8h9.8zM1280.9,708.8l-4.9,9.8h9.8zM1270.2,710.7l-4.9,9.8h9.8zM1264.5,601.7l-4.9,9.8h9.8zM1247.4,685.5l-4.9,9.8h9.8zM1270.6,671.1l-4.9,9.8h9.8zM1264.7,635.1l-4.9,9.8h9.8zM1250.4,735.8l-4.9,9.8h9.8zM1274.3,724.6l-4.9,9.8h9.8zM1251.0,642.7l-4.9,9.8h9.8zM1263.9,621.4l-4.9,9.8h9.8zM1255.9,711.1l-4.9,9.8h9.8zM1254.0,689.9l-4.9,9.8h9.8zM1255.5,625.8l-4.9,9.8h9.8zM1263.1,592.7l-4.9,9.8h9.8zM1276.7,733.7l-4.9,9.8h9.8zM1246.0,632.1l-4.9,9.8h9.8zM1273.5,653.8l-4.9,9.8h9.8zM1282.0,743.2l-4.9,9.8h9.8zM1271.3,595.7l-4.9,9.8h9.8zM1260.2,695.2l-4.9,9.8h9.8zM1265.7,724.6l-4.9,9.8h9.8zM1269.9,565.0l-4.9,9.8h9.8zM1261.6,589.2l-4.9,9.8h9.8zM1262.1,720.9l-4.9,9.8h9.8zM1256.4,633.8l-4.9,9.8h9.8zM1265.8,674.3l-4.9,9.8h9.8zM1257.9,670.4l-4.9,9.8h9.8zM1261.2,711.4l-4.9,9.8h9.8zM1266.4,690.2l-4.9,9.8h9.8zM1267.1,684.2l-4.9,9.8h9.8zM1260.0,572.7l-4.9,9.8h9.8zM1259.0,608.8l-4.9,9.8h9.8zM1245.6,698.8l-4.9,9.8h9.8zM1265.2,640.2l-4.9,9.8h9.8zM1249.8,688.3l-4.9,9.8h9.8zM1246.6,719.1l-4.9,9.8h9.8zM1264.6,739.0l-4.9,9.8h9.8zM1258.2,630.8l-4.9,9.8h9.8zM1274.6,636.4l-4.9,9.8h9.8zM1272.7,743.9l-4.9,9.8h9.8zM1273.8,647.0l-4.9,9.8h9.8zM1273.6,643.0l-4.9,9.8h9.8zM1267.4,628.0l-4.9,9.8h9.8zM1281.0,743.1l-4.9,9.8h9.8zM1266.9,656.1l-4.9,9.8h9.8zM1249.0,657.5l-4.9,9.8h9.8zM1272.5,600.0l-4.9,9.8h9.8zM1267.9,700.1l-4.9,9.8h9.8zM1246.2,713.3l-4.9,9.8h9.8zM1265.2,592.3l-4.9,9.8h9.8zM1256.8,655.3l-4.9,9.8h9.8zM1273.5,578.8l-4.9,9.8h9.8zM1269.4,624.5l-4.9,9.8h9.8zM1274.4,690.3l-4.9,9.8h9.8zM1259.2,662.4l-4.9,9.8h9.8zM1250.6,666.4l-4.9,9.8h9.8zM1269.9,590.7l-4.9,9.8h9.8zM1270.7,570.9l-4.9,9.8h9.8zM1253.3,691.4l-4.9,9.8h9.8zM1268.7,619.5l-4.9,9.8h9.8zM1271.7,697.0l-4.9,9.8h9.8zM1271.2,587.0l-4.9,9.8h9.8zM1282.2,727.3l-4.9,9.8h9.8zM1261.7,730.8l-4.9,9.8h9.8zM1263.9,572.0l-4.9,9.8h9.8zM1254.1,691.3l-4.9,9.8h9.8zM1245.7,666.9l-4.9,9.8h9.8zM1260.7,686.8l-4.9,9.8h9.8zM1255.0,639.8l-4.9,9.8h9.8zM1256.4,732.4l-4.9,9.8h9.8zM1259.2,652.5l-4.9,9.8h9.8zM1250.4,626.3l-4.9,9.8h9.8zM1278.7,710.1l-4.9,9.8h9.8zM1276.5,728.4l-4.9,9.8h9.8zM1250.0,674.8l-4.9,9.8h9.8zM1266.0,617.7l-4.9,9.8h9.8zM1272.4,587.3l-4.9,9.8h9.8zM1268.4,627.4l-4.9,9.8h9.8zM1250.4,700.2l-4.9,9.8h9.8zM1252.1,705.1l-4.9,9.8h9.8zM1274.3,631.4l-4.9,9.8h9.8zM1262.5,584.3l-4.9,9.8h9.8zM1250.4,684.0l-4.9,9.8h9.8zM1259.3,656.9l-4.9,9.8h9.8zM1259.2,596.7l-4.9,9.8h9.8zM1251.3,697.5l-4.9,9.8h9.8zM1261.7,573.7l-4.9,9.8h9.8zM1266.5,700.6l-4.9,9.8h9.8zM1246.2,730.4l-4.9,9.8h9.8zM1272.0,711.4l-4.9,9.8h9.8zM1261.2,631.4l-4.9,9.8h9.8zM1279.7,711.9l-4.9,9.8h9.8zM1261.3,711.9l-4.9,9.8h9.8zM1245.8,651.0l-4.9,9.8h9.8zM1266.2,585.7l-4.9,9.8h9.8zM1255.0,671.2l-4.9,9.8h9.8zM1251.7,702.3l-4.9,9.8h9.8zM1250.0,658.6l-4.9,9.8h9.8zM1272.3,656.2l-4.9,9.8h9.8zM1272.9,728.8l-4.9,9.8h9.8zM1258.5,661.5l-4.9,9.8h9.8zM1253.5,637.1l-4.9,9.8h9.8zM1267.3,604.6l-4.9,9.8h9.8zM1268.3,652.7l-4.9,9.8h9.8zM1260.9,572.7l-4.9,9.8h9.8zM1266.0,663.1l-4.9,9.8h9.8zM1269.1,722.4l-4.9,9.8h9.8zM1268.4,699.3l-4.9,9.8h9.8zM1249.4,719.9l-4.9,9.8h9.8zM1276.9,654.4l-4.9,9.8h9.8zM1261.7,575.3l-4.9,9.8h9.8zM1263.5,687.5l-4.9,9.8h9.8zM1275.6,724.1l-4.9,9.8h9.8zM1264.9,734.5l-4.9,9.8h9.8zM1261.4,652.5l-4.9,9.8h9.8zM1246.0,689.4l-4.9,9.8h9.8zM1252.4,715.6l-4.9,9.8h9.8zM1266.8,570.3l-4.9,9.8h9.8zM1265.1,699.5l-4.9,9.8h9.8zM1253.6,736.7l-4.9,9.8h9.8zM1267.9,680.0l-4.9,9.8h9.8zM1268.2,730.1l-4.9,9.8h9.8zM1265.7,614.1l-4.9,9.8h9.8zM1260.3,623.0l-4.9,9.8h9.8zM1271.6,657.9l-4.9,9.8h9.8zM1255.9,727.8l-4.9,9.8h9.8zM1254.8,603.7l-4.9,9.8h9.8zM1252.4,685.0l-4.9,9.8h9.8zM1271.7,616.8l-4.9,9.8h9.8zM1249.5,663.6l-4.9,9.8h9.8zM1258.0,654.5l-4.9,9.8h9.8zM1246.8,708.9l-4.9,9.8h9.8zM1253.6,629.2l-4.9,9.8h9.8zM1268.2,740.0l-4.9,9.8h9.8zM1272.8,728.2l-4.9,9.8h9.8zM1258.5,736.6l-4.9,9.8h9.8zM1274.7,729.0l-4.9,9.8h9.8zM1253.2,622.2l-4.9,9.8h9.8zM1274.7,659.1l-4.9,9.8h9.8zM1262.2,576.7l-4.9,9.8h9.8zM1255.6,720.3l-4.9,9.8h9.8zM1255.1,724.6l-4.9,9.8h9.8zM1275.9,658.5l-4.9,9.8h9.8zM1249.5,710.8l-4.9,9.8h9.8zM1281.9,738.1l-4.9,9.8h9.8zM1255.8,732.8l-4.9,9.8h9.8zM1262.0,617.4l-4.9,9.8h9.8zM1280.0,709.1l-4.9,9.8h9.8zM1271.1,600.8l-4.9,9.8h9.8zM1267.0,606.6l-4.9,9.8h9.8zM1253.3,720.7l-4.9,9.8h9.8zM1246.1,655.8l-4.9,9.8h9.8zM1246.0,638.0l-4.9,9.8h9.8zM1268.8,652.3l-4.9,9.8h9.8zM1253.3,712.9l-4.9,9.8h9.8zM1280.9,739.9l-4.9,9.8h9.8zM1259.2,653.0l-4.9,9.8h9.8zM1260.9,702.4l-4.9,9.8h9.8zM1262.4,653.2l-4.9,9.8h9.8zM1265.0,664.4l-4.9,9.8h9.8zM1268.4,736.1l-4.9,9.8h9.8zM1258.0,674.7l-4.9,9.8h9.8zM1273.1,680.8l-4.9,9.8h9.8zM1271.0,620.8l-4.9,9.8h9.8zM1272.6,614.1l-4.9,9.8h9.8zM1266.3,577.2l-4.9,9.8h9.8zM1255.9,603.1l-4.9,9.8h9.8zM1259.3,627.3l-4.9,9.8h9.8zM1266.1,624.0l-4.9,9.8h9.8zM1266.1,708.0l-4.9,9.8h9.8zM1265.1,646.7l-4.9,9.8h9.8zM1261.0,659.0l-4.9,9.8h9.8zM1249.4,696.1l-4.9,9.8h9.8zM1262.4,669.3l-4.9,9.8h9.8zM1261.6,704.0l-4.9,9.8h9.8zM1271.2,567.2l-4.9,9.8h9.8zM1266.1,596.4l-4.9,9.8h9.8zM1273.7,617.9l-4.9,9.8h9.8zM1254.7,731.7l-4.9,9.8h9.8zM1247.0,626.0l-4.9,9.8h9.8zM1261.7,680.8l-4.9,9.8h9.8zM1275.1,740.5l-4.9,9.8h9.8zM1255.4,668.6l-4.9,9.8h9.8zM1255.3,723.2l-4.9,9.8h9.8zM1267.6,623.8l-4.9,9.8h9.8zM1253.4,667.8l-4.9,9.8h9.8zM1247.2,644.7l-4.9,9.8h9.8zM1256.1,626.6l-4.9,9.8h9.8zM1268.5,692.1l-4.9,9.8h9.8zM1271.1,630.8l-4.9,9.8h9.8zM1258.0,669.8l-4.9,9.8h9.8zM1262.7,731.3l-4.9,9.8h9.8zM1265.4,661.6l-4.9,9.8h9.8zM1270.6,640.6l-4.9,9.8h9.8zM1264.0,677.4l-4.9,9.8h9.8zM1268.1,745.4l-4.9,9.8h9.8zM1256.8,643.1l-4.9,9.8h9.8zM1266.3,604.5l-4.9,9.8h9.8zM1251.9,627.1l-4.9,9.8h9.8zM1261.4,630.5l-4.9,9.8h9.8zM1254.9,640.3l-4.9,9.8h9.8zM1267.1,563.4l-4.9,9.8h9.8zM1270.4,686.8l-4.9,9.8h9.8zM1246.5,638.4l-4.9,9.8h9.8zM1271.0,626.3l-4.9,9.8h9.8zM1267.7,665.5l-4.9,9.8h9.8zM1264.5,730.4l-4.9,9.8h9.8zM1272.2,633.2l-4.9,9.8h9.8zM1269.9,697.9l-4.9,9.8h9.8zM1255.7,686.3l-4.9,9.8h9.8zM1274.7,624.0l-4.9,9.8h9.8zM1279.3,685.9l-4.9,9.8h9.8zM1260.2,640.4l-4.9,9.8h9.8zM1246.0,729.8l-4.9,9.8h9.8zM1265.4,596.3l-4.9,9.8h9.8zM1246.2,658.6l-4.9,9.8h9.8zM1278.1,720.0l-4.9,9.8h9.8zM1270.6,554.3l-4.9,9.8h9.8zM1257.0,660.8l-4.9,9.8h9.8zM1261.0,586.8l-4.9,9.8h9.8zM1247.6,718.4l-4.9,9.8h9.8zM1241.6,804.6l-4.9,9.8h9.8zM1243.1,822.1l-4.9,9.8h9.8zM1243.9,763.5l-4.9,9.8h9.8zM1240.9,827.9l-4.9,9.8h9.8zM1240.1,777.0l-4.9,9.8h9.8zM1244.8,828.0l-4.9,9.8h9.8zM1240.5,783.6l-4.9,9.8h9.8zM1244.0,780.6l-4.9,9.8h9.8zM1240.7,772.2l-4.9,9.8h9.8zM1242.0,761.0l-4.9,9.8h9.8zM1245.8,751.0l-4.9,9.8h9.8zM1239.8,815.4l-4.9,9.8h9.8zM1240.5,805.0l-4.9,9.8h9.8zM1242.1,758.4l-4.9,9.8h9.8zM1241.5,774.8l-4.9,9.8h9.8zM1243.6,763.4l-4.9,9.8h9.8zM1242.2,823.6l-4.9,9.8h9.8zM1243.2,784.0l-4.9,9.8h9.8zM1240.3,765.4l-4.9,9.8h9.8zM1242.1,749.9l-4.9,9.8h9.8zM1240.4,803.2l-4.9,9.8h9.8zM1241.7,791.2l-4.9,9.8h9.8zM1242.2,806.7l-4.9,9.8h9.8zM1242.9,808.4l-4.9,9.8h9.8zM1242.4,814.3l-4.9,9.8h9.8zM1239.8,826.8l-4.9,9.8h9.8zM1243.4,809.9l-4.9,9.8h9.8zM1241.9,751.5l-4.9,9.8h9.8zM1241.7,781.3l-4.9,9.8h9.8zM1241.4,803.3l-4.9,9.8h9.8zM1242.6,758.9l-4.9,9.8h9.8zM1239.2,806.9l-4.9,9.8h9.8zM1240.3,805.4l-4.9,9.8h9.8zM1241.8,795.6l-4.9,9.8h9.8zM1243.4,808.9l-4.9,9.8h9.8zM1240.7,804.0l-4.9,9.8h9.8zM1240.2,801.8l-4.9,9.8h9.8zM1241.2,810.3l-4.9,9.8h9.8zM1242.3,747.4l-4.9,9.8h9.8zM1243.4,780.0l-4.9,9.8h9.8zM1241.6,825.3l-4.9,9.8h9.8zM1241.1,807.9l-4.9,9.8h9.8zM1241.2,764.5l-4.9,9.8h9.8zM1240.8,827.7l-4.9,9.8h9.8zM1241.2,821.4l-4.9,9.8h9.8zM1242.5,802.0l-4.9,9.8h9.8zM1239.7,821.7l-4.9,9.8h9.8zM1241.1,764.2l-4.9,9.8h9.8zM1240.9,812.7l-4.9,9.8h9.8zM1242.2,779.7l-4.9,9.8h9.8zM1241.8,805.3l-4.9,9.8h9.8zM1238.3,780.2l-4.9,9.8h9.8zM1239.1,781.5l-4.9,9.8h9.8zM1240.7,807.5l-4.9,9.8h9.8zM1242.8,766.7l-4.9,9.8h9.8zM1243.2,801.5l-4.9,9.8h9.8zM1241.0,759.3l-4.9,9.8h9.8zM1242.3,800.3l-4.9,9.8h9.8zM1242.8,778.9l-4.9,9.8h9.8zM1242.2,797.5l-4.9,9.8h9.8zM1243.1,827.7l-4.9,9.8h9.8zM1241.5,789.9l-4.9,9.8h9.8zM1241.7,774.6l-4.9,9.8h9.8zM1241.4,782.5l-4.9,9.8h9.8zM1241.8,786.9l-4.9,9.8h9.8zM1241.5,787.9l-4.9,9.8h9.8zM1241.3,786.3l-4.9,9.8h9.8zM1242.0,829.4l-4.9,9.8h9.8zM1241.6,792.2l-4.9,9.8h9.8zM1241.5,780.9l-4.9,9.8h9.8zM1242.7,811.8l-4.9,9.8h9.8zM1241.3,794.0l-4.9,9.8h9.8zM1238.1,806.8l-4.9,9.8h9.8zM1242.8,822.1l-4.9,9.8h9.8zM1242.2,754.1l-4.9,9.8h9.8zM1237.4,881.6l-4.9,9.8h9.8zM1244.7,836.6l-4.9,9.8h9.8zM1233.3,868.5l-4.9,9.8h9.8zM1235.6,888.7l-4.9,9.8h9.8zM1237.4,858.1l-4.9,9.8h9.8zM1239.7,848.1l-4.9,9.8h9.8zM1241.7,842.6l-4.9,9.8h9.8zM1238.4,867.2l-4.9,9.8h9.8zM1244.7,840.3l-4.9,9.8h9.8zM1233.0,892.8l-4.9,9.8h9.8zM1238.3,876.1l-4.9,9.8h9.8zM1231.8,878.3l-4.9,9.8h9.8zM1237.7,881.3l-4.9,9.8h9.8zM1239.4,854.7l-4.9,9.8h9.8zM1236.8,887.9l-4.9,9.8h9.8zM1240.8,862.9l-4.9,9.8h9.8zM1235.3,887.3l-4.9,9.8h9.8zM1234.9,884.6l-4.9,9.8h9.8zM1240.9,851.6l-4.9,9.8h9.8zM1236.1,852.2l-4.9,9.8h9.8zM1232.9,889.3l-4.9,9.8h9.8zM1243.4,833.4l-4.9,9.8h9.8zM1237.0,875.6l-4.9,9.8h9.8zM1234.7,891.1l-4.9,9.8h9.8zM1242.6,837.5l-4.9,9.8h9.8zM1236.4,869.9l-4.9,9.8h9.8zM1236.7,869.1l-4.9,9.8h9.8zM1241.1,838.3l-4.9,9.8h9.8zM1234.4,897.8l-4.9,9.8h9.8zM1239.2,844.5l-4.9,9.8h9.8zM1237.2,871.8l-4.9,9.8h9.8zM1231.1,899.6l-4.9,9.8h9.8zM1238.7,857.7l-4.9,9.8h9.8zM1236.1,900.0l-4.9,9.8h9.8zM1238.3,852.4l-4.9,9.8h9.8zM1234.3,881.1l-4.9,9.8h9.8zM1239.2,862.1l-4.9,9.8h9.8zM1235.5,895.3l-4.9,9.8h9.8zM1240.4,878.7l-4.9,9.8h9.8zM1242.2,844.7l-4.9,9.8h9.8zM1236.5,871.3l-4.9,9.8h9.8zM1237.9,862.7l-4.9,9.8h9.8zM1235.3,881.2l-4.9,9.8h9.8zM1238.2,859.4l-4.9,9.8h9.8zM1237.2,885.9l-4.9,9.8h9.8zM1242.2,853.6l-4.9,9.8h9.8zM1236.5,871.4l-4.9,9.8h9.8zM1237.8,869.7l-4.9,9.8h9.8zM1239.4,859.9l-4.9,9.8h9.8zM1240.0,857.7l-4.9,9.8h9.8zM1242.3,848.0l-4.9,9.8h9.8zM1236.5,863.1l-4.9,9.8h9.8zM1240.6,839.7l-4.9,9.8h9.8zM1238.5,889.1l-4.9,9.8h9.8zM1235.4,891.2l-4.9,9.8h9.8zM1234.5,893.2l-4.9,9.8h9.8zM1233.8,886.1l-4.9,9.8h9.8zM1235.3,879.5l-4.9,9.8h9.8zM1234.2,888.8l-4.9,9.8h9.8zM1237.9,858.9l-4.9,9.8h9.8zM1228.4,887.6l-4.9,9.8h9.8zM1235.4,885.8l-4.9,9.8h9.8zM1230.4,910.2l-4.9,9.8h9.8zM1233.2,901.0l-4.9,9.8h9.8zM1227.2,884.8l-4.9,9.8h9.8zM1226.6,912.8l-4.9,9.8h9.8zM1236.7,903.3l-4.9,9.8h9.8zM1235.7,888.8l-4.9,9.8h9.8zM1227.6,907.5l-4.9,9.8h9.8zM1230.7,886.4l-4.9,9.8h9.8zM1235.7,897.1l-4.9,9.8h9.8zM1233.3,910.3l-4.9,9.8h9.8zM1234.1,897.5l-4.9,9.8h9.8zM1234.0,893.2l-4.9,9.8h9.8zM1235.8,889.5l-4.9,9.8h9.8zM1237.3,895.7l-4.9,9.8h9.8zM1233.7,895.1l-4.9,9.8h9.8zM1237.6,881.8l-4.9,9.8h9.8zM1229.5,908.6l-4.9,9.8h9.8zM1233.6,893.4l-4.9,9.8h9.8zM1234.9,892.0l-4.9,9.8h9.8zM1233.7,888.4l-4.9,9.8h9.8zM1229.4,907.2l-4.9,9.8h9.8zM1233.1,883.4l-4.9,9.8h9.8zM1234.8,896.9l-4.9,9.8h9.8zM1235.5,897.1l-4.9,9.8h9.8zM1229.8,905.4l-4.9,9.8h9.8zM1233.4,900.2l-4.9,9.8h9.8zM1234.4,880.7l-4.9,9.8h9.8zM1238.2,892.0l-4.9,9.8h9.8zM1233.8,919.7l-4.9,9.8h9.8zM1233.9,937.3l-4.9,9.8h9.8zM1234.4,955.9l-4.9,9.8h9.8zM1235.1,952.7l-4.9,9.8h9.8zM1233.3,925.2l-4.9,9.8h9.8zM1234.4,953.0l-4.9,9.8h9.8zM1235.4,936.9l-4.9,9.8h9.8zM1234.6,943.8l-4.9,9.8h9.8zM1235.8,962.2l-4.9,9.8h9.8zM1234.9,957.3l-4.9,9.8h9.8zM1233.1,949.3l-4.9,9.8h9.8zM1234.3,955.5l-4.9,9.8h9.8zM1235.2,950.1l-4.9,9.8h9.8zM1233.6,931.2l-4.9,9.8h9.8zM1234.3,946.9l-4.9,9.8h9.8zM1234.0,956.2l-4.9,9.8h9.8zM1233.5,943.0l-4.9,9.8h9.8zM1234.3,952.6l-4.9,9.8h9.8zM1234.2,913.1l-4.9,9.8h9.8zM1234.7,937.1l-4.9,9.8h9.8zM1234.5,956.7l-4.9,9.8h9.8zM1234.8,929.0l-4.9,9.8h9.8zM1230.0,981.2l-4.9,9.8h9.8zM1235.5,986.6l-4.9,9.8h9.8zM1225.5,859.3l-4.9,9.8h9.8zM1224.5,877.5l-4.9,9.8h9.8zM1267.2,753.7l-4.9,9.8h9.8zM1265.3,753.1l-4.9,9.8h9.8zM1267.5,777.6l-4.9,9.8h9.8zM1267.0,759.6l-4.9,9.8h9.8zM1267.0,780.1l-4.9,9.8h9.8zM1268.5,775.5l-4.9,9.8h9.8zM1264.4,771.1l-4.9,9.8h9.8zM1262.8,769.1l-4.9,9.8h9.8zM1268.0,750.7l-4.9,9.8h9.8zM1266.7,760.6l-4.9,9.8h9.8zM1262.5,757.9l-4.9,9.8h9.8zM1267.3,752.6l-4.9,9.8h9.8zM1265.3,780.9l-4.9,9.8h9.8zM1267.7,776.1l-4.9,9.8h9.8zM1264.7,774.5l-4.9,9.8h9.8zM1261.9,752.1l-4.9,9.8h9.8zM1267.2,780.1l-4.9,9.8h9.8zM1266.5,753.5l-4.9,9.8h9.8zM1266.5,774.6l-4.9,9.8h9.8zM1267.4,782.1l-4.9,9.8h9.8zM1266.0,755.0l-4.9,9.8h9.8zM1265.8,773.8l-4.9,9.8h9.8zM1265.8,757.2l-4.9,9.8h9.8zM1263.8,777.0l-4.9,9.8h9.8zM1268.3,773.4l-4.9,9.8h9.8zM1267.0,762.4l-4.9,9.8h9.8zM1265.7,770.1l-4.9,9.8h9.8zM1267.0,769.5l-4.9,9.8h9.8zM1267.2,749.6l-4.9,9.8h9.8zM1267.2,755.2l-4.9,9.8h9.8zM1287.3,882.7l-4.9,9.8h9.8zM1289.2,854.4l-4.9,9.8h9.8zM1286.6,906.9l-4.9,9.8h9.8zM1283.1,766.1l-4.9,9.8h9.8zM1285.8,803.5l-4.9,9.8h9.8zM1283.1,748.4l-4.9,9.8h9.8zM1289.3,800.2l-4.9,9.8h9.8zM1287.6,886.0l-4.9,9.8h9.8zM1287.3,912.3l-4.9,9.8h9.8zM1287.2,916.2l-4.9,9.8h9.8zM1285.8,899.9l-4.9,9.8h9.8zM1283.0,754.0l-4.9,9.8h9.8zM1282.4,748.8l-4.9,9.8h9.8zM1289.0,850.3l-4.9,9.8h9.8zM1287.4,820.3l-4.9,9.8h9.8zM1288.0,917.5l-4.9,9.8h9.8zM1285.7,888.7l-4.9,9.8h9.8zM1285.4,803.3l-4.9,9.8h9.8zM1287.2,874.2l-4.9,9.8h9.8zM1287.9,871.2l-4.9,9.8h9.8zM1285.0,779.2l-4.9,9.8h9.8zM1286.9,860.0l-4.9,9.8h9.8zM1285.1,786.5l-4.9,9.8h9.8zM1285.3,806.3l-4.9,9.8h9.8zM1287.9,886.9l-4.9,9.8h9.8zM1287.9,868.2l-4.9,9.8h9.8zM1287.2,815.9l-4.9,9.8h9.8zM1288.5,857.1l-4.9,9.8h9.8zM1286.2,893.7l-4.9,9.8h9.8zM1286.0,891.0l-4.9,9.8h9.8zM1284.3,774.7l-4.9,9.8h9.8zM1282.6,766.1l-4.9,9.8h9.8zM1287.8,842.7l-4.9,9.8h9.8zM1288.0,901.1l-4.9,9.8h9.8zM1287.5,849.5l-4.9,9.8h9.8zM1285.1,784.4l-4.9,9.8h9.8zM1283.4,746.4l-4.9,9.8h9.8zM1287.8,897.0l-4.9,9.8h9.8zM1286.5,897.0l-4.9,9.8h9.8zM1286.2,867.9l-4.9,9.8h9.8zM1285.9,774.0l-4.9,9.8h9.8zM1288.5,904.5l-4.9,9.8h9.8zM1286.9,839.8l-4.9,9.8h9.8zM1286.9,834.4l-4.9,9.8h9.8zM1286.9,817.9l-4.9,9.8h9.8zM1287.8,837.4l-4.9,9.8h9.8zM1288.6,804.8l-4.9,9.8h9.8zM1287.0,922.3l-4.9,9.8h9.8zM1287.8,822.1l-4.9,9.8h9.8zM1284.0,841.5l-4.9,9.8h9.8zM1286.9,808.3l-4.9,9.8h9.8zM1288.8,791.4l-4.9,9.8h9.8zM1287.7,840.7l-4.9,9.8h9.8zM1287.5,841.0l-4.9,9.8h9.8zM1284.5,821.0l-4.9,9.8h9.8zM1289.2,897.6l-4.9,9.8h9.8zM1287.3,817.9l-4.9,9.8h9.8zM1283.6,781.3l-4.9,9.8h9.8zM1285.8,788.8l-4.9,9.8h9.8zM1287.2,856.0l-4.9,9.8h9.8zM1287.9,879.3l-4.9,9.8h9.8zM1288.2,854.5l-4.9,9.8h9.8zM1287.9,888.8l-4.9,9.8h9.8zM1287.7,856.7l-4.9,9.8h9.8zM1288.6,893.9l-4.9,9.8h9.8zM1285.8,812.6l-4.9,9.8h9.8zM1288.6,896.7l-4.9,9.8h9.8zM1286.4,790.4l-4.9,9.8h9.8zM1285.3,763.0l-4.9,9.8h9.8zM1290.0,833.1l-4.9,9.8h9.8zM1285.5,787.1l-4.9,9.8h9.8zM1287.0,794.8l-4.9,9.8h9.8zM1283.8,794.0l-4.9,9.8h9.8zM1286.4,786.9l-4.9,9.8h9.8zM1285.1,816.2l-4.9,9.8h9.8zM1286.0,776.7l-4.9,9.8h9.8zM1286.7,854.0l-4.9,9.8h9.8zM1288.1,839.6l-4.9,9.8h9.8zM1286.0,839.3l-4.9,9.8h9.8zM1287.9,811.3l-4.9,9.8h9.8zM1288.9,888.3l-4.9,9.8h9.8zM1285.9,794.9l-4.9,9.8h9.8zM1285.5,813.4l-4.9,9.8h9.8zM1289.2,899.6l-4.9,9.8h9.8zM1287.1,820.1l-4.9,9.8h9.8zM1287.3,788.9l-4.9,9.8h9.8zM1285.2,871.6l-4.9,9.8h9.8zM1287.3,907.8l-4.9,9.8h9.8zM1285.4,810.7l-4.9,9.8h9.8zM1288.7,890.2l-4.9,9.8h9.8zM1287.5,817.6l-4.9,9.8h9.8zM1284.9,776.2l-4.9,9.8h9.8zM1285.3,820.2l-4.9,9.8h9.8zM1281.5,753.9l-4.9,9.8h9.8zM1279.5,755.7l-4.9,9.8h9.8zM1290.3,858.6l-4.9,9.8h9.8zM1287.4,832.1l-4.9,9.8h9.8zM1288.0,845.0l-4.9,9.8h9.8zM1283.9,766.2l-4.9,9.8h9.8zM1288.1,829.3l-4.9,9.8h9.8zM1286.5,841.8l-4.9,9.8h9.8zM1283.7,757.4l-4.9,9.8h9.8zM1285.1,821.3l-4.9,9.8h9.8zM1288.2,823.8l-4.9,9.8h9.8zM1284.6,771.7l-4.9,9.8h9.8zM1286.4,812.2l-4.9,9.8h9.8zM1285.4,768.1l-4.9,9.8h9.8zM1283.9,915.9l-4.9,9.8h9.8zM1287.1,867.1l-4.9,9.8h9.8zM1284.6,768.6l-4.9,9.8h9.8zM1287.2,800.1l-4.9,9.8h9.8zM1287.6,915.2l-4.9,9.8h9.8zM1287.3,840.3l-4.9,9.8h9.8zM1288.4,869.6l-4.9,9.8h9.8zM1286.0,788.3l-4.9,9.8h9.8zM1284.2,785.8l-4.9,9.8h9.8zM1287.6,863.2l-4.9,9.8h9.8zM1286.8,819.5l-4.9,9.8h9.8zM1285.5,761.6l-4.9,9.8h9.8zM1279.6,754.8l-4.9,9.8h9.8zM1286.9,855.1l-4.9,9.8h9.8zM1286.4,821.0l-4.9,9.8h9.8zM1284.8,774.1l-4.9,9.8h9.8zM1287.9,805.2l-4.9,9.8h9.8zM1282.5,780.4l-4.9,9.8h9.8zM1286.8,829.1l-4.9,9.8h9.8zM1286.8,824.5l-4.9,9.8h9.8zM1286.7,868.1l-4.9,9.8h9.8zM1284.5,764.1l-4.9,9.8h9.8zM1288.5,825.1l-4.9,9.8h9.8zM1285.9,793.2l-4.9,9.8h9.8zM1282.4,784.3l-4.9,9.8h9.8zM1283.4,829.4l-4.9,9.8h9.8zM1289.6,895.3l-4.9,9.8h9.8zM1285.4,784.9l-4.9,9.8h9.8zM1284.5,906.1l-4.9,9.8h9.8zM1287.8,918.6l-4.9,9.8h9.8zM1286.3,795.0l-4.9,9.8h9.8zM1288.8,919.2l-4.9,9.8h9.8zM1288.1,826.7l-4.9,9.8h9.8zM1286.8,903.9l-4.9,9.8h9.8zM1288.9,834.3l-4.9,9.8h9.8zM1288.1,900.5l-4.9,9.8h9.8zM1285.1,904.7l-4.9,9.8h9.8zM1285.4,888.1l-4.9,9.8h9.8zM1285.8,867.6l-4.9,9.8h9.8zM1290.7,883.4l-4.9,9.8h9.8zM1285.5,807.6l-4.9,9.8h9.8zM1287.6,897.0l-4.9,9.8h9.8zM1286.4,787.5l-4.9,9.8h9.8zM1282.7,747.5l-4.9,9.8h9.8zM1287.6,847.3l-4.9,9.8h9.8zM1281.3,758.2l-4.9,9.8h9.8zM1286.5,822.8l-4.9,9.8h9.8zM1285.8,784.5l-4.9,9.8h9.8zM1286.5,870.1l-4.9,9.8h9.8zM1284.5,791.0l-4.9,9.8h9.8zM1288.2,907.5l-4.9,9.8h9.8zM1283.9,764.8l-4.9,9.8h9.8zM1289.2,870.0l-4.9,9.8h9.8zM1283.4,771.9l-4.9,9.8h9.8zM1284.3,793.4l-4.9,9.8h9.8zM1283.9,779.9l-4.9,9.8h9.8zM1286.4,854.9l-4.9,9.8h9.8zM1286.1,797.6l-4.9,9.8h9.8zM1289.6,859.3l-4.9,9.8h9.8zM1285.2,754.8l-4.9,9.8h9.8zM1282.7,779.4l-4.9,9.8h9.8zM1287.0,866.7l-4.9,9.8h9.8zM1286.0,906.0l-4.9,9.8h9.8zM1287.3,934.7l-4.9,9.8h9.8zM1287.3,944.2l-4.9,9.8h9.8zM1287.0,927.7l-4.9,9.8h9.8z" fill="none" stroke="#ff7f0e" stroke-width="2.6" stroke-linejoin="miter"/>
<path d="M290.00,1016.00V996.00M290.00,59.00V79.00M492.59,1016.00V1004.00M492.59,59.00V71.00M611.10,1016.00V1004.00M611.10,59.00V71.00M695.19,1016.00V1004.00M695.19,59.00V71.00M760.41,1016.00V1004.00M760.41,59.00V71.00M813.70,1016.00V1004.00M813.70,59.00V71.00M858.75,1016.00V1004.00M858.75,59.00V71.00M897.78,1016.00V1004.00M897.78,59.00V71.00M932.21,1016.00V1004.00M932.21,59.00V71.00M963.00,1016.00V996.00M963.00,59.00V79.00M1165.59,1016.00V1004.00M1165.59,59.00V71.00M1284.10,1016.00V1004.00M1284.10,59.00V71.00M279.00,997.20H291.00M1349.00,997.20H1337.00M279.00,969.10H291.00M1349.00,969.10H1337.00M279.00,946.14H291.00M1349.00,946.14H1337.00M279.00,926.72H291.00M1349.00,926.72H1337.00M279.00,909.90H291.00M1349.00,909.90H1337.00M279.00,895.07H291.00M1349.00,895.07H1337.00M279.00,881.80H299.00M1349.00,881.80H1329.00M279.00,794.50H291.00M1349.00,794.50H1337.00M279.00,743.43H291.00M1349.00,743.43H1337.00M279.00,707.20H291.00M1349.00,707.20H1337.00M279.00,679.10H291.00M1349.00,679.10H1337.00M279.00,656.14H291.00M1349.00,656.14H1337.00M279.00,636.72H291.00M1349.00,636.72H1337.00M279.00,619.90H291.00M1349.00,619.90H1337.00M279.00,605.07H291.00M1349.00,605.07H1337.00M279.00,591.80H299.00M1349.00,591.80H1329.00M279.00,504.50H291.00M1349.00,504.50H1337.00M279.00,453.43H291.00M1349.00,453.43H1337.00M279.00,417.20H291.00M1349.00,417.20H1337.00M279.00,389.10H291.00M1349.00,389.10H1337.00M279.00,366.14H291.00M1349.00,366.14H1337.00M279.00,346.72H291.00M1349.00,346.72H1337.00M279.00,329.90H291.00M1349.00,329.90H1337.00M279.00,315.07H291.00M1349.00,315.07H1337.00M279.00,301.80H299.00M1349.00,301.80H1329.00M279.00,214.50H291.00M1349.00,214.50H1337.00M279.00,163.43H291.00M1349.00,163.43H1337.00M279.00,127.20H291.00M1349.00,127.20H1337.00M279.00,99.10H291.00M1349.00,99.10H1337.00M279.00,76.14H291.00M1349.00,76.14H1337.00" stroke="#000" stroke-width="4" fill="none"/>
<rect x="279.0" y="59.0" width="1070.0" height="957.0" fill="none" stroke="#000" stroke-width="4" stroke-linejoin="miter"/>
<text x="241.3" y="1089.8" font-size="58.33">10<tspan x="315.5" y="1067.9" font-size="40.83">1</tspan></text>
<text x="914.1" y="1091.0" font-size="58.33">10<tspan x="988.3" y="1068.7" font-size="40.83">2</tspan></text>
<text x="152.8" y="325.0" font-size="58.33">10<tspan x="227.0" y="302.3" font-size="40.83">2</tspan></text>
<text x="151.8" y="613.9" font-size="58.33">10<tspan x="226.0" y="591.8" font-size="40.83">1</tspan></text>
<text x="151.4" y="903.9" font-size="58.33">10<tspan x="225.6" y="881.4" font-size="40.83">0</tspan></text>
<text x="554.4" y="1190.8" font-size="58.33"><tspan letter-spacing="0.47">Frequency (cm</tspan><tspan x="991.7 1026.8" y="1168.9" font-size="40.83">−1</tspan><tspan x="1053.9" y="1190.8">)</tspan></text>
<text transform="translate(103.7,539) rotate(-90)" font-size="58.33" text-anchor="middle">Lifetime (ps)</text>
<rect x="1085.5" y="84" width="239" height="151" fill="#fff" fill-opacity="0.8" stroke="#808080" stroke-width="1.6"/>
<path d="M1125.9,125.7a5.5,5.5 0 1,0 11.0,0a5.5,5.5 0 1,0 -11.0,0" fill="none" stroke="#1f77b4" stroke-width="2.6"/><path d="M1131.4,184.0l-4.9,9.8h9.8z" fill="none" stroke="#ff7f0e" stroke-width="2.6"/>
<text x="1176.6" y="143.6" font-size="50">300K</text>
<text x="1176.6" y="206.2" font-size="50">500K</text>
</svg>
</body></html>
